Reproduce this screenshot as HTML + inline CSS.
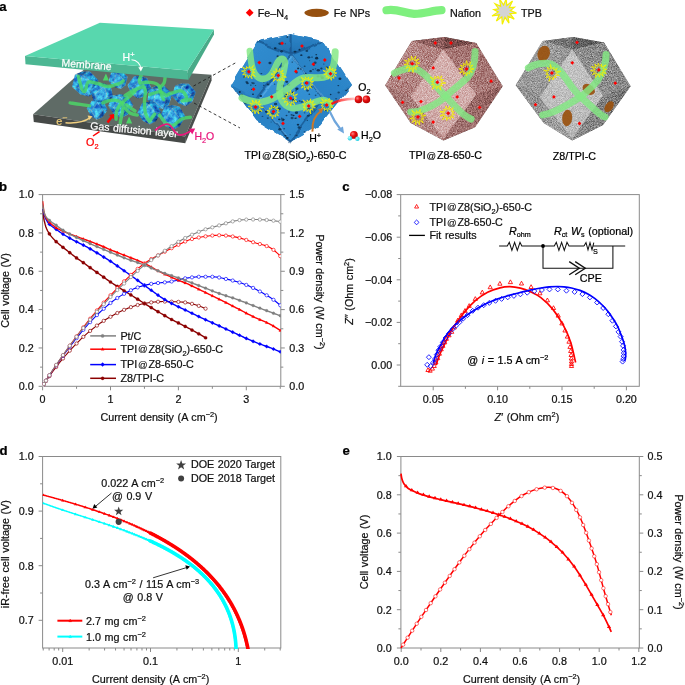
<!DOCTYPE html>
<html><head><meta charset="utf-8"><style>
html,body{margin:0;padding:0;background:#fff;}
svg{display:block;will-change:transform;}
text{font-family:"Liberation Sans", sans-serif;word-spacing:0.6px;}
</style></head><body>
<svg width="685" height="685" viewBox="0 0 685 685">
<rect width="685" height="685" fill="#fff"/>
<defs><clipPath id="clipb"><rect x="42.6" y="189.6" width="238.20000000000002" height="196.70000000000002"/></clipPath><clipPath id="clipd"><rect x="42.6" y="456.5" width="238.20000000000002" height="192.5"/></clipPath></defs>
<defs>
<linearGradient id="gHex" x1="0" y1="0" x2="1" y2="1">
 <stop offset="0" stop-color="#4aa6e6"/><stop offset="0.55" stop-color="#2a86cc"/><stop offset="1" stop-color="#1c63a4"/>
</linearGradient>
<filter id="noise" x="0" y="0" width="100%" height="100%" color-interpolation-filters="sRGB">
 <feTurbulence type="fractalNoise" baseFrequency="1.2" numOctaves="2" seed="3" result="n"/>
 <feColorMatrix in="n" type="matrix" values="0.75 0 0 0 0.13  0.75 0 0 0 0.13  0.75 0 0 0 0.13  0 0 0 0 1" result="g"/>
 <feBlend in="g" in2="SourceGraphic" mode="overlay" result="b"/>
 <feComposite in="b" in2="SourceGraphic" operator="in"/>
</filter>
<filter id="noiseG" x="0" y="0" width="100%" height="100%" color-interpolation-filters="sRGB">
 <feTurbulence type="fractalNoise" baseFrequency="1.2" numOctaves="2" seed="7" result="n"/>
 <feColorMatrix in="n" type="matrix" values="0.75 0 0 0 0.13  0.75 0 0 0 0.13  0.75 0 0 0 0.13  0 0 0 0 1" result="g"/>
 <feBlend in="g" in2="SourceGraphic" mode="overlay" result="b"/>
 <feComposite in="b" in2="SourceGraphic" operator="in"/>
</filter>
<filter id="noiseB" x="0" y="0" width="100%" height="100%" color-interpolation-filters="sRGB">
 <feTurbulence type="fractalNoise" baseFrequency="0.22" numOctaves="3" seed="9" result="n"/>
 <feColorMatrix in="n" type="matrix" values="1.1 0 0 0 0.02  1.1 0 0 0 0.02  1.1 0 0 0 0.02  0 0 0 0 1" result="g"/>
 <feBlend in="g" in2="SourceGraphic" mode="overlay" result="b"/>
 <feComposite in="b" in2="SourceGraphic" operator="in"/>
</filter>
<linearGradient id="pkTL" x1="0" y1="0" x2="1" y2="1"><stop offset="0" stop-color="#b98b89"/><stop offset="1" stop-color="#a97977"/></linearGradient>
<linearGradient id="pkTR" x1="1" y1="0" x2="0" y2="1"><stop offset="0" stop-color="#9c6a68"/><stop offset="1" stop-color="#b08280"/></linearGradient>
<linearGradient id="pkBL" x1="0" y1="0" x2="1" y2="1"><stop offset="0" stop-color="#a07270"/><stop offset="1" stop-color="#b58987"/></linearGradient>
<linearGradient id="pkBR" x1="1" y1="0" x2="0" y2="1"><stop offset="0" stop-color="#8e5e5c"/><stop offset="1" stop-color="#a47674"/></linearGradient>
<linearGradient id="pkF" x1="0" y1="0" x2="0" y2="1"><stop offset="0" stop-color="#d6b2b0"/><stop offset="1" stop-color="#cca5a3"/></linearGradient>
<linearGradient id="gyTL" x1="0" y1="0" x2="1" y2="1"><stop offset="0" stop-color="#a2a2a2"/><stop offset="1" stop-color="#8e8e8e"/></linearGradient>
<linearGradient id="gyTR" x1="1" y1="0" x2="0" y2="1"><stop offset="0" stop-color="#808080"/><stop offset="1" stop-color="#979797"/></linearGradient>
<linearGradient id="gyBL" x1="0" y1="0" x2="1" y2="1"><stop offset="0" stop-color="#8a8a8a"/><stop offset="1" stop-color="#a0a0a0"/></linearGradient>
<linearGradient id="gyBR" x1="1" y1="0" x2="0" y2="1"><stop offset="0" stop-color="#767676"/><stop offset="1" stop-color="#8c8c8c"/></linearGradient>
<linearGradient id="gyF" x1="0" y1="0" x2="0" y2="1"><stop offset="0" stop-color="#c4c4c4"/><stop offset="1" stop-color="#b6b6b6"/></linearGradient>
<filter id="soft" x="-10%" y="-10%" width="120%" height="120%"><feGaussianBlur stdDeviation="0.7"/></filter>
<filter id="lumpy" x="-5%" y="-5%" width="110%" height="110%">
 <feTurbulence type="fractalNoise" baseFrequency="0.07" numOctaves="2" seed="4" result="t"/>
 <feDisplacementMap in="SourceGraphic" in2="t" scale="5" xChannelSelector="R" yChannelSelector="G"/>
</filter>
<linearGradient id="blTop" x1="0" y1="0" x2="0" y2="1"><stop offset="0" stop-color="#2d86c9"/><stop offset="1" stop-color="#2271b2"/></linearGradient>
<linearGradient id="blTL" x1="0" y1="0" x2="1" y2="1"><stop offset="0" stop-color="#3490d3"/><stop offset="0.6" stop-color="#2c86c9"/><stop offset="1" stop-color="#2272b3"/></linearGradient>
<linearGradient id="blTR" x1="1" y1="0" x2="0" y2="1"><stop offset="0" stop-color="#308bce"/><stop offset="1" stop-color="#287fc2"/></linearGradient>
<linearGradient id="blBL" x1="0" y1="0" x2="1" y2="1"><stop offset="0" stop-color="#2479bb"/><stop offset="1" stop-color="#2f89cc"/></linearGradient>
<linearGradient id="blBR" x1="1" y1="0" x2="0" y2="1"><stop offset="0" stop-color="#287ec1"/><stop offset="1" stop-color="#2e87ca"/></linearGradient>
<linearGradient id="blF" x1="0" y1="0" x2="0" y2="1"><stop offset="0" stop-color="#3896d8"/><stop offset="1" stop-color="#2d87cb"/></linearGradient>
<linearGradient id="redfade" x1="0" y1="0" x2="1" y2="0"><stop offset="0" stop-color="#ff1010"/><stop offset="1" stop-color="#ff1010" stop-opacity="0.25"/></linearGradient>
<radialGradient id="ball" cx="0.35" cy="0.35" r="0.7"><stop offset="0" stop-color="#ff8080"/><stop offset="0.45" stop-color="#e81010"/><stop offset="1" stop-color="#b00000"/></radialGradient>
<radialGradient id="ballc" cx="0.35" cy="0.35" r="0.7"><stop offset="0" stop-color="#b0ffff"/><stop offset="1" stop-color="#10c8e0"/></radialGradient>
</defs>
<text x="-0.7" y="10.7" font-size="13.2" text-anchor="start" font-weight="bold" fill="#000" stroke="#000" stroke-width="0.22" >a</text>
<path d="M249.7,8.8L253.6,12.7L249.7,16.6L245.8,12.7Z" fill="#ff0000"/>
<text x="257.8" y="16.6" font-size="10.75" text-anchor="start" font-weight="normal" fill="#111" stroke="#111" stroke-width="0.22" >Fe–N<tspan baseline-shift="-2.8" font-size="7.4">4</tspan></text>
<ellipse cx="316.6" cy="12.8" rx="12.2" ry="4.1" fill="#96500f"/>
<text x="333.7" y="16.6" font-size="10.75" text-anchor="start" font-weight="normal" fill="#111" stroke="#111" stroke-width="0.22" >Fe NPs</text>
<path d="M386.5,10.2 C398,8.2 404,13.6 414,13.8 C424,14 432,10.6 441.5,10.2" fill="none" stroke="#7ff07f" stroke-width="8.2" stroke-linecap="round" stroke-linejoin="round" opacity="1"/>
<text x="449.9" y="16.6" font-size="10.75" text-anchor="start" font-weight="normal" fill="#111" stroke="#111" stroke-width="0.22" >Nafion</text>
<path d="M516.52,13.05 L509.98,13.68 L514.22,19.12 L507.98,16.19 L508.99,23.16 L504.99,17.36 L502.32,24.33 L501.82,16.88 L496.38,21.12 L499.31,14.88 L492,16.02 L498.14,11.89 L493.78,9.61 L498.62,8.72 L495,3.78 L500.62,6.21 L499.45,-1.16 L503.61,5.04 L506.16,-1.09 L506.78,5.52 L512.51,0.92 L509.29,7.52 L514.44,7.23 L510.46,10.51Z" fill="#d4d4d4" stroke="#f4f000" stroke-width="1.2"/>
<text x="520.9" y="16.6" font-size="10.75" text-anchor="start" font-weight="normal" fill="#111" stroke="#111" stroke-width="0.22" >TPB</text>
<path d="M33.1,114.3 L88,66 L211.5,74.8 L185,136.6Z" fill="#5f6b66" />
<path d="M33.1,114.3 L185,136.6 L185.3,143.3 L33.8,121.9Z" fill="#464a48" />
<path d="M185,136.6 L211.5,74.8 L211.6,80.6 L185.3,143.3Z" fill="#4a4f4d" />
<g filter="url(#noiseB)"><path d="M74.86,74.42 L82.04,71.56 L89.68,71.25 L82.67,74.68Z" fill="#1a66ab" /><path d="M74.86,74.42 L82.67,74.68 L78.48,88.02 L71.91,86.75Z" fill="#2a8ad4" /><path d="M89.68,71.25 L98.69,80.24 L93.23,83.76 L82.67,74.68Z" fill="#1f7cc6" /><path d="M71.91,86.75 L78.48,88.02 L88.82,96.34 L88.96,96.84 L80.32,94.49Z" fill="#1f76c0" /><path d="M98.69,80.24 L95.23,91.75 L88.96,96.84 L88.82,96.34 L93.23,83.76Z" fill="#1a6ab2" /><path d="M82.67,74.68 L93.23,83.76 L88.82,96.34 L78.48,88.02Z" fill="#2f92da" /><path d="M78.48,88.02L82.67,74.68L93.23,83.76 M78.48,88.02L88.82,96.34" stroke="#7cc4f0" stroke-width="0.6" opacity="0.7" fill="none"/><path d="M110.74,72.88 L115.89,70.82 L121.38,70.58 L116.35,73.06Z" fill="#1a66ab" /><path d="M110.74,72.88 L116.35,73.06 L113.36,82.65 L108.64,81.75Z" fill="#2a8ad4" /><path d="M121.38,70.58 L127.87,77.04 L123.96,79.57 L116.35,73.06Z" fill="#1f7cc6" /><path d="M108.64,81.75 L113.36,82.65 L120.8,88.62 L120.91,88.98 L114.69,87.3Z" fill="#1f76c0" /><path d="M127.87,77.04 L125.4,85.32 L120.91,88.98 L120.8,88.62 L123.96,79.57Z" fill="#1a6ab2" /><path d="M116.35,73.06 L123.96,79.57 L120.8,88.62 L113.36,82.65Z" fill="#2f92da" /><path d="M113.36,82.65L116.35,73.06L123.96,79.57 M113.36,82.65L120.8,88.62" stroke="#7cc4f0" stroke-width="0.6" opacity="0.7" fill="none"/><path d="M134.08,76.07 L140.89,75.97 L147.2,78.09 L140.31,78.7Z" fill="#1a66ab" /><path d="M134.08,76.07 L140.31,78.7 L132.28,88.22 L127.39,85.15Z" fill="#2a8ad4" /><path d="M147.2,78.09 L151.37,88.18 L145.72,89.34 L140.31,78.7Z" fill="#1f7cc6" /><path d="M127.39,85.15 L132.28,88.22 L137.77,98.17 L137.71,98.63 L131.52,94.04Z" fill="#1f76c0" /><path d="M151.37,88.18 L144.56,96.44 L137.71,98.63 L137.77,98.17 L145.72,89.34Z" fill="#1a6ab2" /><path d="M140.31,78.7 L145.72,89.34 L137.77,98.17 L132.28,88.22Z" fill="#2f92da" /><path d="M132.28,88.22L140.31,78.7L145.72,89.34 M132.28,88.22L137.77,98.17" stroke="#7cc4f0" stroke-width="0.6" opacity="0.7" fill="none"/><path d="M98.63,82.51 L105.24,83.49 L110.97,86.53 L104.2,86.04Z" fill="#1a66ab" /><path d="M98.63,82.51 L104.2,86.04 L94.74,93.99 L90.55,90.25Z" fill="#2a8ad4" /><path d="M110.97,86.53 L113.23,96.95 L107.56,97.18 L104.2,86.04Z" fill="#1f7cc6" /><path d="M90.55,90.25 L94.74,93.99 L98.3,104.48 L98.16,104.91 L92.98,99.5Z" fill="#1f76c0" /><path d="M113.23,96.95 L105.18,103.88 L98.16,104.91 L98.3,104.48 L107.56,97.18Z" fill="#1a6ab2" /><path d="M104.2,86.04 L107.56,97.18 L98.3,104.48 L94.74,93.99Z" fill="#2f92da" /><path d="M94.74,93.99L104.2,86.04L107.56,97.18 M94.74,93.99L98.3,104.48" stroke="#7cc4f0" stroke-width="0.6" opacity="0.7" fill="none"/><path d="M175.28,85.17 L181.93,83.13 L188.8,83.41 L182.24,85.98Z" fill="#1a66ab" /><path d="M175.28,85.17 L182.24,85.98 L177.41,97.61 L171.63,95.99Z" fill="#2a8ad4" /><path d="M188.8,83.41 L196.13,92.11 L190.96,94.86 L182.24,85.98Z" fill="#1f7cc6" /><path d="M171.63,95.99 L177.41,97.61 L185.98,105.81 L186.07,106.27 L178.52,103.53Z" fill="#1f76c0" /><path d="M196.13,92.11 L192.09,102.17 L186.07,106.27 L185.98,105.81 L190.96,94.86Z" fill="#1a6ab2" /><path d="M182.24,85.98 L190.96,94.86 L185.98,105.81 L177.41,97.61Z" fill="#2f92da" /><path d="M177.41,97.61L182.24,85.98L190.96,94.86 M177.41,97.61L185.98,105.81" stroke="#7cc4f0" stroke-width="0.6" opacity="0.7" fill="none"/><path d="M149.92,88.44 L156.61,85.68 L163.77,85.31 L157.24,88.61Z" fill="#1a66ab" /><path d="M149.92,88.44 L157.24,88.61 L153.47,101.15 L147.29,100.03Z" fill="#2a8ad4" /><path d="M163.77,85.31 L172.32,93.65 L167.24,97.01 L157.24,88.61Z" fill="#1f7cc6" /><path d="M147.29,100.03 L153.47,101.15 L163.25,108.84 L163.39,109.32 L155.26,107.2Z" fill="#1f76c0" /><path d="M172.32,93.65 L169.21,104.48 L163.39,109.32 L163.25,108.84 L167.24,97.01Z" fill="#1a6ab2" /><path d="M157.24,88.61 L167.24,97.01 L163.25,108.84 L153.47,101.15Z" fill="#2f92da" /><path d="M153.47,101.15L157.24,88.61L167.24,97.01 M153.47,101.15L163.25,108.84" stroke="#7cc4f0" stroke-width="0.6" opacity="0.7" fill="none"/><path d="M113.27,95.14 L120.34,93.97 L127.28,95.17 L120.23,96.9Z" fill="#1a66ab" /><path d="M113.27,95.14 L120.23,96.9 L113.56,108.07 L107.93,105.65Z" fill="#2a8ad4" /><path d="M127.28,95.17 L133.41,105 L127.74,107.1 L120.23,96.9Z" fill="#1f7cc6" /><path d="M107.93,105.65 L113.56,108.07 L121.04,117.55 L121.06,118.03 L113.8,114.24Z" fill="#1f76c0" /><path d="M133.41,105 L127.8,114.68 L121.06,118.03 L121.04,117.55 L127.74,107.1Z" fill="#1a6ab2" /><path d="M120.23,96.9 L127.74,107.1 L121.04,117.55 L113.56,108.07Z" fill="#2f92da" /><path d="M113.56,108.07L120.23,96.9L127.74,107.1 M113.56,108.07L121.04,117.55" stroke="#7cc4f0" stroke-width="0.6" opacity="0.7" fill="none"/><path d="M92.1,100.21 L98.05,99.84 L103.66,101.42 L97.68,102.25Z" fill="#1a66ab" /><path d="M92.1,100.21 L97.68,102.25 L91.11,110.9 L86.69,108.43Z" fill="#2a8ad4" /><path d="M103.66,101.42 L107.79,110.05 L102.91,111.31 L97.68,102.25Z" fill="#1f7cc6" /><path d="M86.69,108.43 L91.11,110.9 L96.38,119.37 L96.35,119.76 L90.72,116.02Z" fill="#1f76c0" /><path d="M107.79,110.05 L102.24,117.57 L96.35,119.76 L96.38,119.37 L102.91,111.31Z" fill="#1a6ab2" /><path d="M97.68,102.25 L102.91,111.31 L96.38,119.37 L91.11,110.9Z" fill="#2f92da" /><path d="M91.11,110.9L97.68,102.25L102.91,111.31 M91.11,110.9L96.38,119.37" stroke="#7cc4f0" stroke-width="0.6" opacity="0.7" fill="none"/><path d="M142.14,102.87 L148.83,101.68 L155.43,102.76 L148.76,104.47Z" fill="#1a66ab" /><path d="M142.14,102.87 L148.76,104.47 L142.55,115.13 L137.18,112.89Z" fill="#2a8ad4" /><path d="M155.43,102.76 L161.36,112.03 L156,114.08 L148.76,104.47Z" fill="#1f7cc6" /><path d="M137.18,112.89 L142.55,115.13 L149.74,124.06 L149.77,124.52 L142.84,120.98Z" fill="#1f76c0" /><path d="M161.36,112.03 L156.13,121.27 L149.77,124.52 L149.74,124.06 L156,114.08Z" fill="#1a6ab2" /><path d="M148.76,104.47 L156,114.08 L149.74,124.06 L142.55,115.13Z" fill="#2f92da" /><path d="M142.55,115.13L148.76,104.47L156,114.08 M142.55,115.13L149.74,124.06" stroke="#7cc4f0" stroke-width="0.6" opacity="0.7" fill="none"/><path d="M164.96,106.19 L172.28,105.06 L179.44,106.38 L172.13,108.09Z" fill="#1a66ab" /><path d="M164.96,106.19 L172.13,108.09 L165.1,119.56 L159.31,117Z" fill="#2a8ad4" /><path d="M179.44,106.38 L185.66,116.61 L179.77,118.72 L172.13,108.09Z" fill="#1f7cc6" /><path d="M159.31,117 L165.1,119.56 L172.7,129.45 L172.72,129.94 L165.27,125.94Z" fill="#1f76c0" /><path d="M185.66,116.61 L179.73,126.55 L172.72,129.94 L172.7,129.45 L179.77,118.72Z" fill="#1a6ab2" /><path d="M172.13,108.09 L179.77,118.72 L172.7,129.45 L165.1,119.56Z" fill="#2f92da" /><path d="M165.1,119.56L172.13,108.09L179.77,118.72 M165.1,119.56L172.7,129.45" stroke="#7cc4f0" stroke-width="0.6" opacity="0.7" fill="none"/></g>
<path d="M78.3,76.3 C80,82 82,92 84.4,91.6 C86.5,91 86,83 88.5,81.9 C91,81 94,83 97.7,83.5 C101,84 104,86.5 107.9,86.5 C112,86.5 115,84.5 118.1,84 C120,83.5 122,82 123.2,80.9" fill="none" stroke="#4cd968" stroke-width="3.4" stroke-linecap="round" stroke-linejoin="round" opacity="0.82"/>
<path d="M70.1,102.9 C74,103.5 77,104 80.3,104.4 C84,104.8 87,105.5 89.5,105.9" fill="none" stroke="#4cd968" stroke-width="3.4" stroke-linecap="round" stroke-linejoin="round" opacity="0.82"/>
<path d="M102.8,102.9 C105,102 108,100.5 111,100.3 C114,100 116,100 118.1,100.8 C121,102 123,103 123.2,104.9 C123.5,108 122.5,111 122.2,113.1 C121.5,117 120.5,120 120.2,123.3" fill="none" stroke="#4cd968" stroke-width="3.4" stroke-linecap="round" stroke-linejoin="round" opacity="0.82"/>
<path d="M116.1,119.2 C116,116 116,112 117.1,110 C118.5,107 120,104.5 122.2,102.9 C125,100 128,97.5 130.4,95.7 C132,94 133.5,92.5 135,91.6" fill="none" stroke="#4cd968" stroke-width="3.4" stroke-linecap="round" stroke-linejoin="round" opacity="0.82"/>
<path d="M126.3,104.9 C129,107 132,109 135,111" fill="none" stroke="#4cd968" stroke-width="3.4" stroke-linecap="round" stroke-linejoin="round" opacity="0.82"/>
<path d="M142.4,72.2 C141.5,75 139.5,78 139.3,80.4 C139.5,82 139.8,83 140.3,83.5 C143,82.5 147,82 150.5,82.4 C153,82.7 155,83 156.7,84 C158.5,85 159.5,86 159.7,87.5 C160.5,89 160.6,91 160.8,92.7 C161.5,95.5 162.5,98 163.8,99.8" fill="none" stroke="#4cd968" stroke-width="3.4" stroke-linecap="round" stroke-linejoin="round" opacity="0.82"/>
<path d="M164.9,72.2 C165.3,76 165.2,80 164,83 C163,85 161.5,86.5 159.7,87.5" fill="none" stroke="#4cd968" stroke-width="3.4" stroke-linecap="round" stroke-linejoin="round" opacity="0.82"/>
<path d="M125,95.7 C128,93.5 130.5,92 133.2,90.6 C136.5,89 140,87.5 143.4,86.5 C145,88 145.6,90 145.4,92.7 C145,96 144.5,99.5 144.4,102.9 C144.4,106.5 144.8,110 145.4,113.1 C146.5,116.5 148,119.5 149.5,121.3 C151,119 153,116 154.6,114.1" fill="none" stroke="#4cd968" stroke-width="3.4" stroke-linecap="round" stroke-linejoin="round" opacity="0.82"/>
<path d="M149.5,94.7 C152.5,93.5 156,92 159.7,91.6 C162,91.7 164,93.5 165.9,95.7 C168,94.5 170.5,93.2 173,92.7 C175.5,92 178,90.8 180.2,90.6 C182.5,91 184.5,92.5 185.3,94.7 C186.5,96.5 186.8,98 186.3,98.8 C185,99.8 183.5,100.5 182.2,100.8 C184.5,100.6 187.5,100.2 190.4,99.8" fill="none" stroke="#4cd968" stroke-width="3.4" stroke-linecap="round" stroke-linejoin="round" opacity="0.82"/>
<path d="M125,108 C126.5,110 128.5,112 130.1,113.1 C132.5,114.2 135,114.8 137.3,115.1" fill="none" stroke="#4cd968" stroke-width="3.4" stroke-linecap="round" stroke-linejoin="round" opacity="0.82"/>
<path d="M159.7,115.1 C161.5,118 163.5,121 165.9,123.3 C168,124.8 170.5,125.5 173,125.4 C176,124.5 178.5,121 181.2,119.2 C184,117.8 187,117.3 190.4,117.2" fill="none" stroke="#4cd968" stroke-width="3.4" stroke-linecap="round" stroke-linejoin="round" opacity="0.82"/>
<path d="M102.8,80.5 L105.9,73.5 L109,80.5Z M126,123.5 L129.1,116.5 L132.2,123.5Z M125.5,121.5 L128.6,114.5" fill="#4cd968" opacity="0.95"/>
<path d="M25,55.9 L187.6,70.4 L188.5,79.8 L25.5,64.3Z" fill="#4cb793" />
<path d="M187.6,70.4 L213.9,29.4 L214,34.5 L188.5,79.8Z" fill="#48aa88" />
<path d="M25,55.9 L99.9,22.8 L213.9,29.4 L187.6,70.4Z" fill="#58d7ae" />
<text x="0" y="0" font-size="10.5" text-anchor="start" font-weight="normal" fill="#fff" stroke="#fff" stroke-width="0.22" transform="translate(61.3,66.3) rotate(4.3)">Membrane</text>
<text x="0" y="0" font-size="10.5" text-anchor="start" font-weight="normal" fill="#fff" stroke="#fff" stroke-width="0.22" transform="translate(90,129.3) rotate(5.2)">Gas diffusion layer</text>
<text x="122.6" y="61" font-size="10.5" text-anchor="start" font-weight="normal" fill="#ffffff" stroke="#ffffff" stroke-width="0.22" >H<tspan baseline-shift="4.2" font-size="7.4">+</tspan></text>
<path d="M131.5,59.8 C137,60 140.5,64 140.8,68.5" fill="none" stroke="#fff" stroke-width="1.1"/>
<path d="M138.3,67.2 L140.9,71.4 L143.1,67.1Z" fill="#fff"/>
<text x="56.3" y="124.5" font-size="10.8" text-anchor="start" font-weight="normal" fill="#eccb78" stroke="#eccb78" stroke-width="0.22" >e</text>
<path d="M62.6,117.8H67.2" stroke="#eccb78" stroke-width="0.9"/>
<path d="M65.5,122.7 C74,123.4 84,122 90,117.9" fill="none" stroke="#f2d080" stroke-width="1.5"/>
<path d="M87.6,115.5 L92.6,116.2 L89.3,120.1Z" fill="#f2d080"/>
<path d="M93,136 L99.5,131.6" stroke="#ff0000" stroke-width="1.5"/>
<text x="86" y="145.8" font-size="10.8" text-anchor="start" font-weight="normal" fill="#ff0000" stroke="#ff0000" stroke-width="0.22" >O<tspan baseline-shift="-2.8" font-size="7.4">2</tspan></text>
<path d="M114,114 L113.9,119.2 L112.5,117.9 L108.5,123.3 L106.5,121.7 L110.5,116.3 L108.9,115.1Z" fill="#ff0000"/>
<path d="M155.1,130.5 C160,126 165,123.5 168.4,124.4 C172,125.5 174,132 176.6,133.6 C179,135.5 183,135 186,133.5 C188,132.5 190,131.5 191.5,130.8" fill="none" stroke="#e8197c" stroke-width="1.8"/>
<path d="M189,128.8 L195.2,128.6 L192.2,134.4Z" fill="#e8197c"/>
<text x="194.4" y="140.4" font-size="10.5" text-anchor="start" font-weight="normal" fill="#e8177c" stroke="#e8177c" stroke-width="0.22" >H<tspan baseline-shift="-2.8" font-size="7.4">2</tspan>O</text>
<path d="M193.4,86.1 L236,62.6 M194,103 L240,128" stroke="#222" stroke-width="0.9" stroke-dasharray="3,2.6" fill="none"/>
<clipPath id="clipBlue"><path d="M290.6,34.2 L323.5,41.4 L352,85 L319.1,125.5 L290.2,142 L256.5,121 L230.8,85 L257,41.4Z"/></clipPath>
<g filter="url(#lumpy)">
<path d="M290.6,34.2 L323.5,41.4 L352,85 L319.1,125.5 L290.2,142 L256.5,121 L230.8,85 L257,41.4Z" fill="#287fc2" />
<path d="M290.6,34.2 L323.5,41.4 L290.6,54.7 L257,41.4Z" fill="url(#blTop)" />
<path d="M257,41.4 L290.6,54.7 L256.5,98.3 L230.8,85Z" fill="url(#blTL)" />
<path d="M323.5,41.4 L352,85 L322.9,98.3 L290.6,54.7Z" fill="url(#blTR)" />
<path d="M230.8,85 L256.5,98.3 L290.2,142 L256.5,121Z" fill="url(#blBL)" />
<path d="M352,85 L319.1,125.5 L290.2,142 L322.9,98.3Z" fill="url(#blBR)" />
<path d="M290.6,54.7 L322.9,98.3 L290.2,142 L256.5,98.3Z" fill="url(#blF)" />
<path d="M290.6,54.7 L256.5,98.3 M290.6,54.7 L322.9,98.3 M257,41.4 L290.6,54.7 L323.5,41.4 M256.5,98.3 L290.2,142 L322.9,98.3 M290.6,34.2 L290.6,54.7" stroke="#124a80" stroke-width="2.2" opacity="0.6" fill="none" filter="url(#soft)"/>
<path d="M292,57 L259,100 M292,57 L325,100 M258.5,101 L289.5,139" stroke="#6ab8ee" stroke-width="1.4" opacity="0.55" fill="none" filter="url(#soft)"/>
</g>
<g clip-path="url(#clipBlue)"><ellipse cx="285.38" cy="94.22" rx="1.62" ry="1.2" fill="#08223c" opacity="0.73"/><ellipse cx="301.31" cy="55.2" rx="1.16" ry="0.92" fill="#08223c" opacity="0.83"/><ellipse cx="309.16" cy="100.02" rx="0.77" ry="0.47" fill="#08223c" opacity="0.73"/><ellipse cx="286.74" cy="81.82" rx="1.53" ry="1.15" fill="#08223c" opacity="0.77"/><ellipse cx="290.97" cy="104.89" rx="1.1" ry="0.75" fill="#08223c" opacity="0.9"/><ellipse cx="315.52" cy="68.79" rx="0.85" ry="0.59" fill="#08223c" opacity="0.57"/><ellipse cx="322.42" cy="77.64" rx="1.53" ry="1.1" fill="#08223c" opacity="0.89"/><ellipse cx="287.46" cy="137.96" rx="1.04" ry="0.65" fill="#08223c" opacity="0.77"/><ellipse cx="323.86" cy="64.06" rx="0.7" ry="0.49" fill="#08223c" opacity="0.89"/><ellipse cx="252.97" cy="94.17" rx="1.09" ry="0.72" fill="#08223c" opacity="0.81"/><ellipse cx="247.45" cy="102.95" rx="0.73" ry="0.53" fill="#08223c" opacity="0.62"/><ellipse cx="326.8" cy="67.63" rx="1.57" ry="1.04" fill="#08223c" opacity="0.69"/><ellipse cx="332.82" cy="102.75" rx="0.71" ry="0.64" fill="#08223c" opacity="0.62"/><ellipse cx="262.48" cy="116.36" rx="0.96" ry="0.66" fill="#08223c" opacity="0.58"/><ellipse cx="242.63" cy="96.6" rx="0.87" ry="0.68" fill="#08223c" opacity="0.68"/><ellipse cx="285.48" cy="135.75" rx="1.13" ry="0.87" fill="#08223c" opacity="0.85"/><ellipse cx="336.1" cy="98.77" rx="1.06" ry="0.67" fill="#08223c" opacity="0.56"/><ellipse cx="315.14" cy="62.73" rx="1.51" ry="1.17" fill="#08223c" opacity="0.65"/><ellipse cx="298.01" cy="124.65" rx="1.28" ry="0.87" fill="#08223c" opacity="0.87"/><ellipse cx="263.76" cy="82.35" rx="0.67" ry="0.44" fill="#08223c" opacity="0.68"/><ellipse cx="299.52" cy="49.68" rx="1" ry="0.87" fill="#08223c" opacity="0.89"/><ellipse cx="309.52" cy="107.89" rx="1.24" ry="0.8" fill="#08223c" opacity="0.56"/><ellipse cx="288.9" cy="111.97" rx="0.95" ry="0.86" fill="#08223c" opacity="0.58"/><ellipse cx="296.44" cy="112.65" rx="1.59" ry="1.31" fill="#08223c" opacity="0.8"/><ellipse cx="273.52" cy="107.26" rx="1.59" ry="1.37" fill="#08223c" opacity="0.7"/><ellipse cx="299.59" cy="101" rx="1.02" ry="0.79" fill="#08223c" opacity="0.76"/><ellipse cx="317.93" cy="76.4" rx="1.41" ry="1.09" fill="#08223c" opacity="0.7"/><ellipse cx="302.95" cy="86.02" rx="0.85" ry="0.69" fill="#08223c" opacity="0.72"/><ellipse cx="304.51" cy="131.73" rx="0.88" ry="0.53" fill="#08223c" opacity="0.66"/><ellipse cx="312.02" cy="57.07" rx="0.79" ry="0.69" fill="#08223c" opacity="0.78"/><ellipse cx="284.15" cy="128.74" rx="0.96" ry="0.77" fill="#08223c" opacity="0.62"/><ellipse cx="282.85" cy="119.82" rx="1.61" ry="1.39" fill="#08223c" opacity="0.68"/><ellipse cx="300.81" cy="68.91" rx="0.75" ry="0.56" fill="#08223c" opacity="0.84"/><ellipse cx="251.96" cy="82.87" rx="0.9" ry="0.6" fill="#08223c" opacity="0.69"/><ellipse cx="305.84" cy="87.36" rx="0.95" ry="0.81" fill="#08223c" opacity="0.89"/><ellipse cx="285.39" cy="43.77" rx="0.63" ry="0.55" fill="#08223c" opacity="0.56"/><ellipse cx="315.62" cy="95.34" rx="0.94" ry="0.79" fill="#08223c" opacity="0.56"/><ellipse cx="248.03" cy="83.3" rx="0.63" ry="0.53" fill="#08223c" opacity="0.63"/><ellipse cx="306.24" cy="82.43" rx="1.29" ry="1.03" fill="#08223c" opacity="0.83"/><ellipse cx="255.52" cy="85.41" rx="0.8" ry="0.48" fill="#08223c" opacity="0.72"/><ellipse cx="316.27" cy="54.63" rx="0.9" ry="0.63" fill="#08223c" opacity="0.79"/><ellipse cx="293.41" cy="99.9" rx="1.43" ry="1.03" fill="#08223c" opacity="0.83"/><ellipse cx="247.33" cy="83.17" rx="1.29" ry="1.12" fill="#08223c" opacity="0.68"/><ellipse cx="299.12" cy="127.45" rx="1.48" ry="1.3" fill="#08223c" opacity="0.71"/><ellipse cx="308.86" cy="57.31" rx="1.39" ry="1.18" fill="#08223c" opacity="0.77"/><ellipse cx="316.68" cy="58.18" rx="1.59" ry="1.42" fill="#08223c" opacity="0.89"/><ellipse cx="295.36" cy="118.24" rx="0.95" ry="0.83" fill="#08223c" opacity="0.85"/><ellipse cx="284.03" cy="93.23" rx="1.45" ry="1.08" fill="#08223c" opacity="0.56"/><ellipse cx="271.53" cy="117.94" rx="0.75" ry="0.49" fill="#08223c" opacity="0.73"/><ellipse cx="290.12" cy="134.71" rx="0.69" ry="0.46" fill="#08223c" opacity="0.73"/><ellipse cx="266.24" cy="111.8" rx="1.3" ry="0.99" fill="#08223c" opacity="0.85"/><ellipse cx="298.08" cy="68.42" rx="1.02" ry="0.87" fill="#08223c" opacity="0.87"/><ellipse cx="346.28" cy="90.52" rx="1.23" ry="0.81" fill="#08223c" opacity="0.74"/><ellipse cx="291.37" cy="98.94" rx="0.63" ry="0.56" fill="#08223c" opacity="0.73"/><ellipse cx="279.27" cy="119.31" rx="1.22" ry="0.91" fill="#08223c" opacity="0.79"/><ellipse cx="239.78" cy="92.03" rx="1.06" ry="0.94" fill="#08223c" opacity="0.87"/><ellipse cx="263.77" cy="85.21" rx="0.74" ry="0.54" fill="#08223c" opacity="0.84"/><ellipse cx="338.27" cy="85.56" rx="0.95" ry="0.62" fill="#08223c" opacity="0.77"/><ellipse cx="313.07" cy="69.5" rx="0.99" ry="0.78" fill="#08223c" opacity="0.59"/><ellipse cx="292.24" cy="62.06" rx="0.82" ry="0.62" fill="#08223c" opacity="0.7"/><ellipse cx="276.34" cy="78.99" rx="1.18" ry="0.77" fill="#08223c" opacity="0.62"/><ellipse cx="306.5" cy="102.4" rx="1.18" ry="1.01" fill="#08223c" opacity="0.76"/><ellipse cx="260.24" cy="111.56" rx="0.89" ry="0.56" fill="#08223c" opacity="0.84"/><ellipse cx="281.75" cy="118.15" rx="0.74" ry="0.53" fill="#08223c" opacity="0.79"/><ellipse cx="291.67" cy="114.85" rx="1.15" ry="0.93" fill="#08223c" opacity="0.62"/><ellipse cx="236.42" cy="93.37" rx="1.17" ry="0.9" fill="#08223c" opacity="0.6"/><ellipse cx="286.52" cy="115.53" rx="0.96" ry="0.71" fill="#08223c" opacity="0.73"/><ellipse cx="282.75" cy="98.5" rx="0.61" ry="0.5" fill="#08223c" opacity="0.85"/><ellipse cx="253.39" cy="83.21" rx="1.41" ry="1.02" fill="#08223c" opacity="0.62"/><ellipse cx="251.48" cy="89.31" rx="0.62" ry="0.54" fill="#08223c" opacity="0.83"/><ellipse cx="306.27" cy="78.07" rx="1.26" ry="0.95" fill="#08223c" opacity="0.89"/><ellipse cx="279.87" cy="129.24" rx="1.57" ry="1.27" fill="#08223c" opacity="0.82"/><ellipse cx="322.3" cy="78.2" rx="1.39" ry="0.87" fill="#08223c" opacity="0.67"/><ellipse cx="287.32" cy="37.1" rx="0.99" ry="0.78" fill="#08223c" opacity="0.77"/><ellipse cx="310.6" cy="71.13" rx="1.33" ry="1.02" fill="#08223c" opacity="0.74"/><ellipse cx="307.79" cy="108.93" rx="1.44" ry="1.29" fill="#08223c" opacity="0.56"/><ellipse cx="304.62" cy="112.83" rx="0.88" ry="0.64" fill="#08223c" opacity="0.57"/><ellipse cx="255.06" cy="75.07" rx="0.71" ry="0.48" fill="#08223c" opacity="0.87"/><ellipse cx="296.91" cy="88.81" rx="1.66" ry="1.28" fill="#08223c" opacity="0.9"/><ellipse cx="307.29" cy="120.19" rx="0.68" ry="0.53" fill="#08223c" opacity="0.82"/><ellipse cx="250.87" cy="85.06" rx="0.79" ry="0.59" fill="#08223c" opacity="0.76"/><ellipse cx="281.64" cy="90.78" rx="1.26" ry="0.89" fill="#08223c" opacity="0.65"/><ellipse cx="309.3" cy="94.31" rx="0.91" ry="0.74" fill="#08223c" opacity="0.65"/><ellipse cx="321.05" cy="76.56" rx="1.59" ry="1.31" fill="#08223c" opacity="0.57"/><ellipse cx="282.68" cy="85.67" rx="1.67" ry="1.12" fill="#08223c" opacity="0.73"/><ellipse cx="287.27" cy="137.8" rx="1.5" ry="1.17" fill="#08223c" opacity="0.59"/><ellipse cx="305.66" cy="83.39" rx="0.82" ry="0.51" fill="#08223c" opacity="0.73"/><ellipse cx="246.67" cy="82.06" rx="1.33" ry="0.98" fill="#08223c" opacity="0.64"/><ellipse cx="300.7" cy="79.63" rx="1.46" ry="1.11" fill="#08223c" opacity="0.9"/><ellipse cx="305.75" cy="73.36" rx="0.9" ry="0.72" fill="#08223c" opacity="0.75"/><ellipse cx="301.82" cy="101.84" rx="1.43" ry="0.94" fill="#08223c" opacity="0.64"/><ellipse cx="282.17" cy="100.83" rx="0.71" ry="0.54" fill="#08223c" opacity="0.58"/><ellipse cx="296.97" cy="101.63" rx="1.01" ry="0.75" fill="#08223c" opacity="0.62"/><ellipse cx="272.56" cy="113.46" rx="1.52" ry="0.95" fill="#08223c" opacity="0.59"/><ellipse cx="327.48" cy="100.87" rx="1.45" ry="0.96" fill="#08223c" opacity="0.7"/><ellipse cx="275.54" cy="103.98" rx="1.69" ry="1.18" fill="#08223c" opacity="0.74"/><ellipse cx="282.46" cy="74.4" rx="0.71" ry="0.61" fill="#08223c" opacity="0.58"/><ellipse cx="241.8" cy="94.68" rx="1.13" ry="0.91" fill="#08223c" opacity="0.65"/><ellipse cx="257.16" cy="104.86" rx="0.69" ry="0.48" fill="#08223c" opacity="0.8"/><ellipse cx="313.89" cy="65.42" rx="0.76" ry="0.54" fill="#08223c" opacity="0.8"/><ellipse cx="275.23" cy="48.21" rx="1.38" ry="1.06" fill="#08223c" opacity="0.87"/><ellipse cx="283.68" cy="119.52" rx="0.94" ry="0.65" fill="#08223c" opacity="0.69"/><ellipse cx="261.3" cy="73.62" rx="1" ry="0.71" fill="#08223c" opacity="0.69"/><ellipse cx="277.73" cy="56.28" rx="1.22" ry="1.02" fill="#08223c" opacity="0.74"/><ellipse cx="330.69" cy="94.53" rx="0.79" ry="0.66" fill="#08223c" opacity="0.86"/><ellipse cx="292.85" cy="92.59" rx="1.22" ry="1.09" fill="#08223c" opacity="0.78"/><ellipse cx="296.52" cy="117.96" rx="0.69" ry="0.43" fill="#08223c" opacity="0.81"/><ellipse cx="306.83" cy="50.96" rx="1.42" ry="1.13" fill="#08223c" opacity="0.64"/><ellipse cx="293.54" cy="115.53" rx="1.03" ry="0.73" fill="#08223c" opacity="0.89"/><ellipse cx="311.34" cy="87.34" rx="1.19" ry="0.97" fill="#08223c" opacity="0.8"/><ellipse cx="339.97" cy="78.7" rx="1.51" ry="1.21" fill="#08223c" opacity="0.85"/><ellipse cx="307.55" cy="90.48" rx="1.38" ry="1.16" fill="#08223c" opacity="0.7"/><ellipse cx="281.61" cy="51.2" rx="1.42" ry="1.27" fill="#08223c" opacity="0.68"/><ellipse cx="282.14" cy="66.37" rx="1.67" ry="1.03" fill="#08223c" opacity="0.66"/><ellipse cx="245.55" cy="103.39" rx="1.45" ry="0.95" fill="#08223c" opacity="0.57"/><ellipse cx="286.13" cy="96.74" rx="1.6" ry="0.98" fill="#08223c" opacity="0.59"/><ellipse cx="259.78" cy="110.59" rx="1.25" ry="0.84" fill="#08223c" opacity="0.61"/><ellipse cx="321.39" cy="68.42" rx="1.2" ry="1.02" fill="#08223c" opacity="0.72"/><ellipse cx="296.59" cy="135.53" rx="1.13" ry="0.75" fill="#08223c" opacity="0.57"/><ellipse cx="277.43" cy="90.87" rx="1.17" ry="0.8" fill="#08223c" opacity="0.9"/><ellipse cx="309.59" cy="60.71" rx="0.61" ry="0.45" fill="#08223c" opacity="0.68"/><ellipse cx="326.02" cy="110.18" rx="1.27" ry="0.82" fill="#08223c" opacity="0.6"/><ellipse cx="269.97" cy="62.98" rx="1.56" ry="1.17" fill="#08223c" opacity="0.77"/><ellipse cx="295.08" cy="51.67" rx="1.45" ry="0.87" fill="#08223c" opacity="0.84"/><ellipse cx="288.65" cy="84.74" rx="1.65" ry="1.28" fill="#08223c" opacity="0.85"/><ellipse cx="267.82" cy="118.09" rx="1.06" ry="0.93" fill="#08223c" opacity="0.58"/><ellipse cx="296.12" cy="90.67" rx="0.77" ry="0.66" fill="#08223c" opacity="0.66"/><ellipse cx="268.07" cy="84.59" rx="1.39" ry="0.98" fill="#08223c" opacity="0.79"/><ellipse cx="244.48" cy="77" rx="1.11" ry="0.99" fill="#08223c" opacity="0.84"/><ellipse cx="276.5" cy="109.84" rx="0.86" ry="0.66" fill="#08223c" opacity="0.71"/><ellipse cx="304.7" cy="66.2" rx="1.01" ry="0.77" fill="#08223c" opacity="0.65"/><ellipse cx="271.81" cy="76.79" rx="1.33" ry="0.9" fill="#08223c" opacity="0.62"/><ellipse cx="318.31" cy="70.26" rx="1.64" ry="1.26" fill="#08223c" opacity="0.8"/><ellipse cx="271.14" cy="122" rx="0.7" ry="0.45" fill="#08223c" opacity="0.58"/><ellipse cx="311.97" cy="109.66" rx="0.8" ry="0.58" fill="#08223c" opacity="0.84"/><ellipse cx="301.94" cy="45.37" rx="0.85" ry="0.55" fill="#08223c" opacity="0.59"/><ellipse cx="280.01" cy="43.56" rx="1.61" ry="1.17" fill="#08223c" opacity="0.73"/><ellipse cx="308.38" cy="115.75" rx="1.5" ry="1.08" fill="#08223c" opacity="0.67"/><ellipse cx="279.28" cy="108.79" rx="1.68" ry="1.41" fill="#08223c" opacity="0.78"/><ellipse cx="271.06" cy="71.59" rx="1.32" ry="0.83" fill="#08223c" opacity="0.68"/><ellipse cx="292.1" cy="118.01" rx="1.51" ry="1.18" fill="#08223c" opacity="0.61"/><ellipse cx="296.69" cy="72.67" rx="1.15" ry="0.74" fill="#08223c" opacity="0.8"/><ellipse cx="348.44" cy="89.67" rx="1.39" ry="1.18" fill="#08223c" opacity="0.62"/><ellipse cx="260.86" cy="95.95" rx="1.37" ry="0.96" fill="#08223c" opacity="0.88"/><ellipse cx="274.62" cy="84.16" rx="0.74" ry="0.66" fill="#08223c" opacity="0.6"/><ellipse cx="338.68" cy="92.52" rx="1.22" ry="0.93" fill="#08223c" opacity="0.64"/><ellipse cx="328.47" cy="98.56" rx="0.73" ry="0.62" fill="#08223c" opacity="0.65"/></g>
<path d="M249.8,50.9 C251,62 252,74 259,78 C266,81 271,76 274,70 C277,63 279,58 283,59 C288,61 282,76 280,86 C278,96 282,106 292,108 C302,110 314,101 322,100 C327,100 330,103 331,104" fill="none" stroke="#84e884" stroke-width="6.5" stroke-linecap="round" stroke-linejoin="round" opacity="0.84"/>
<path d="M335.2,51.8 C335,62 333,72 327,76 C320,80 312,76 304,78 C296,80 292,86 286,90 C278,96 270,101 262,102 C254,103 248,101 242,98" fill="none" stroke="#84e884" stroke-width="7.0" stroke-linecap="round" stroke-linejoin="round" opacity="0.84"/>
<path d="M254.85,72.4 L252.17,73.04 L255.37,76.46 L251.12,74.51 L252.08,78.85 L249.46,75.25 L248.27,78.08 L247.66,75.07 L244.82,77.47 L246.19,74.02 L242.65,74.62 L245.45,72.36 L241.51,71.06 L245.63,70.56 L242.56,67.24 L246.68,69.09 L246.49,66.46 L248.34,68.35 L249.47,66.15 L250.14,68.53 L253.54,65.35 L251.61,69.58 L255.11,69 L252.35,71.24Z" fill="none" stroke="#f4f000" stroke-width="0.85" stroke-linejoin="miter" stroke-miterlimit="10"/><path d="M248.9,69.8L250.9,71.8L248.9,73.8L246.9,71.8Z" fill="#ff0000"/><path d="M286.41,77.14 L281.43,77.06 L284.49,80.96 L280.23,78.42 L280.13,80.96 L278.52,78.99 L277.14,81.22 L276.74,78.63 L273.04,81.45 L275.38,77.43 L271.04,77.94 L274.81,75.72 L270.97,74.01 L275.17,73.94 L273.46,71.22 L276.37,72.58 L275.98,68.58 L278.08,72.01 L279.75,68.35 L279.86,72.37 L283.09,70.08 L281.22,73.57 L284.03,73.58 L281.79,75.28Z" fill="none" stroke="#f4f000" stroke-width="0.85" stroke-linejoin="miter" stroke-miterlimit="10"/><path d="M278.3,73.5L280.3,75.5L278.3,77.5L276.3,75.5Z" fill="#ff0000"/><path d="M312.79,84.95 L309.76,84.96 L311.64,88.33 L308.43,86.2 L308.27,89.57 L306.67,86.6 L304.65,90.07 L304.94,86.06 L301.41,88.1 L303.7,84.73 L301.16,84.38 L303.3,82.97 L301.41,81.43 L303.84,81.24 L301.4,77.27 L305.17,80 L305.4,76.93 L306.93,79.6 L308.65,77.12 L308.66,80.14 L312.95,77.4 L309.9,81.47 L313.54,81.57 L310.3,83.23Z" fill="none" stroke="#f4f000" stroke-width="0.85" stroke-linejoin="miter" stroke-miterlimit="10"/><path d="M306.8,81.1L308.8,83.1L306.8,85.1L304.8,83.1Z" fill="#ff0000"/><path d="M336.27,76.14 L333.26,75.85 L334.05,78.4 L331.82,76.94 L331.33,80.36 L330.02,77.17 L328.15,79.26 L328.35,76.46 L325.88,77.19 L327.26,75.02 L323.83,74.53 L327.03,73.22 L322.97,70.52 L327.74,71.55 L325.77,67.44 L329.18,70.46 L329.55,66.02 L330.98,70.23 L332.92,67.97 L332.65,70.94 L336.17,69.42 L333.74,72.38 L336.83,72.91 L333.97,74.18Z" fill="none" stroke="#f4f000" stroke-width="0.85" stroke-linejoin="miter" stroke-miterlimit="10"/><path d="M330.5,71.7L332.5,73.7L330.5,75.7L328.5,73.7Z" fill="#ff0000"/><path d="M297.05,101.82 L293.13,100.72 L294.59,104.86 L291.59,101.66 L290.78,106.12 L289.77,101.7 L286.65,105.53 L288.18,100.83 L284.05,102.29 L287.24,99.29 L282.42,98.49 L287.2,97.47 L285.61,95.58 L288.07,95.88 L287.01,92.4 L289.61,94.94 L290.41,90.06 L291.43,94.9 L294.16,91.79 L293.02,95.77 L297.54,94.07 L293.96,97.31 L296.52,98.16 L294,99.13Z" fill="none" stroke="#f4f000" stroke-width="0.85" stroke-linejoin="miter" stroke-miterlimit="10"/><path d="M290.6,96.3L292.6,98.3L290.6,100.3L288.6,98.3Z" fill="#ff0000"/><path d="M261.96,111.32 L257.78,109.56 L258.92,114.02 L256.15,110.34 L254.97,113.84 L254.34,110.2 L251.92,112.13 L252.84,109.18 L250.45,109.32 L252.06,107.55 L248.07,106.33 L252.2,105.74 L249.79,102.99 L253.22,104.24 L252.16,99.93 L254.85,103.46 L256.01,100.27 L256.66,103.6 L259.88,100.5 L258.16,104.62 L261.24,104.15 L258.94,106.25 L263.32,107.5 L258.8,108.06Z" fill="none" stroke="#f4f000" stroke-width="0.85" stroke-linejoin="miter" stroke-miterlimit="10"/><path d="M255.5,104.9L257.5,106.9L255.5,108.9L253.5,106.9Z" fill="#ff0000"/><path d="M278.48,115.79 L275.5,114.47 L275.55,117.26 L273.8,115.09 L272.2,118.91 L272.01,114.77 L269.76,116.04 L270.63,113.6 L266.82,114.02 L270.01,111.9 L266.98,110.44 L270.33,110.11 L269.09,107.89 L271.5,108.73 L271.11,105 L273.2,108.11 L274.5,105.98 L274.99,108.43 L277.89,106.39 L276.37,109.6 L278.95,109.63 L276.99,111.3 L279.26,112.63 L276.67,113.09Z" fill="none" stroke="#f4f000" stroke-width="0.85" stroke-linejoin="miter" stroke-miterlimit="10"/><path d="M273.5,109.6L275.5,111.6L273.5,113.6L271.5,111.6Z" fill="#ff0000"/><path d="M313.04,110.37 L310.41,108.96 L310.73,113.94 L308.65,109.4 L307.08,111.63 L306.91,108.91 L303.27,111.18 L305.64,107.61 L303.04,107.33 L305.2,105.85 L302.65,104.18 L305.69,104.11 L302.85,99.88 L306.99,102.84 L307.19,99.9 L308.75,102.4 L310.72,98.78 L310.49,102.89 L313.64,101.1 L311.76,104.19 L315.36,104.22 L312.2,105.95 L315.42,107.81 L311.71,107.69Z" fill="none" stroke="#f4f000" stroke-width="0.85" stroke-linejoin="miter" stroke-miterlimit="10"/><path d="M308.7,103.9L310.7,105.9L308.7,107.9L306.7,105.9Z" fill="#ff0000"/><path d="M330.99,110.4 L328.09,108.21 L327.67,111.57 L326.3,108.48 L324.5,110.57 L324.61,107.81 L320.41,109.99 L323.49,106.39 L321.14,105.82 L323.22,104.6 L320.18,102.42 L323.89,102.91 L321.66,98.64 L325.31,101.79 L325.85,99.24 L327.1,101.52 L329.33,98.35 L328.79,102.19 L332.44,100.45 L329.91,103.61 L332.35,104.16 L330.18,105.4 L332.89,107.45 L329.51,107.09Z" fill="none" stroke="#f4f000" stroke-width="0.85" stroke-linejoin="miter" stroke-miterlimit="10"/><path d="M326.7,103L328.7,105L326.7,107L324.7,105Z" fill="#ff0000"/>
<path d="M282.1,41.4L284,43.3L282.1,45.2L280.2,43.3Z" fill="#ff0000"/><path d="M302,44.2L303.9,46.1L302,48L300.1,46.1Z" fill="#ff0000"/><path d="M259.3,60.7L261.2,62.6L259.3,64.5L257.4,62.6Z" fill="#ff0000"/><path d="M313.4,62.3L315.3,64.2L313.4,66.1L311.5,64.2Z" fill="#ff0000"/><path d="M324.8,58.1L326.7,60L324.8,61.9L322.9,60Z" fill="#ff0000"/><path d="M295.9,69.5L297.8,71.4L295.9,73.3L294,71.4Z" fill="#ff0000"/><path d="M253.6,87.3L255.5,89.2L253.6,91.1L251.7,89.2Z" fill="#ff0000"/><path d="M271.7,94.9L273.6,96.8L271.7,98.7L269.8,96.8Z" fill="#ff0000"/><path d="M299.7,114.5L301.6,116.4L299.7,118.3L297.8,116.4Z" fill="#ff0000"/><path d="M283,121.5L284.9,123.4L283,125.3L281.1,123.4Z" fill="#ff0000"/>
<path d="M331.5,104 C338,100 346,99 354.5,98.8" fill="none" stroke="url(#redfade)" stroke-width="2.4"/>
<circle cx="358.5" cy="99.4" r="3.8" fill="url(#ball)"/><circle cx="366.4" cy="99.4" r="3.8" fill="url(#ball)"/>
<text x="358.3" y="90.9" font-size="10.5" text-anchor="start" font-weight="normal" fill="#000" stroke="#000" stroke-width="0.22" >O<tspan baseline-shift="-2.8" font-size="7.4">2</tspan></text>
<path d="M312.5,131.6 C312,122 315,115 320.5,111.5" fill="none" stroke="#c8782a" stroke-width="2"/>
<path d="M318,109 L323.6,108.2 L321.4,113.6Z" fill="#c8782a"/>
<path d="M329.6,111.2 C333,119 337,125 340.6,129.4" fill="none" stroke="#6fa6dc" stroke-width="2.2"/>
<path d="M337.2,129.6 L344,133.4 L343,126.4Z" fill="#6fa6dc"/>
<text x="309.2" y="142.1" font-size="10.5" text-anchor="start" font-weight="normal" fill="#000" stroke="#000" stroke-width="0.22" >H<tspan baseline-shift="4.2" font-size="7.4">+</tspan></text>
<circle cx="353.9" cy="134.9" r="3.9" fill="url(#ball)"/><circle cx="349.9" cy="138.2" r="2.2" fill="url(#ballc)"/><circle cx="357.4" cy="138.8" r="2.2" fill="url(#ballc)"/>
<text x="361.1" y="138.9" font-size="10.5" text-anchor="start" font-weight="normal" fill="#000" stroke="#000" stroke-width="0.22" >H<tspan baseline-shift="-2.8" font-size="7.4">2</tspan>O</text>
<g filter="url(#noise)">
<path d="M411.8,40.9 L444.5,36.9 L476.2,43 L502.7,86.3 L475.1,127.2 L443.5,140.5 L410.8,123.1 L385.2,85.3Z" fill="#9c6c6a" />
<path d="M411.8,40.9 L444.5,36.9 L443.5,49.5Z" fill="#8e5e5d" />
<path d="M444.5,36.9 L476.2,43 L443.5,49.5Z" fill="#764a49" />
<path d="M411.8,40.9 L443.5,49.5 L410.8,96.5 L385.2,85.3Z" fill="url(#pkTL)" />
<path d="M476.2,43 L502.7,86.3 L476.2,94.5 L443.5,49.5Z" fill="url(#pkTR)" />
<path d="M385.2,85.3 L410.8,96.5 L443.5,138.4 L443.5,140.5 L410.8,123.1Z" fill="url(#pkBL)" />
<path d="M502.7,86.3 L475.1,127.2 L443.5,140.5 L443.5,138.4 L476.2,94.5Z" fill="url(#pkBR)" />
<path d="M443.5,49.5 L476.2,94.5 L443.5,138.4 L410.8,96.5Z" fill="url(#pkF)" />
</g>
<path d="M394.4,73 C400,70 410,67 416,69 C424,72 430,80 436.3,86.3 C442,93 448,99 452.7,103.7 C458,109 462,115 471.1,119" fill="none" stroke="#84e884" stroke-width="7.0" stroke-linecap="round" stroke-linejoin="round" opacity="0.84"/>
<path d="M475.1,51.6 C475,60 474,70 467,78.1 C462,83 452,90 444.5,97.6 C438,103 428,108 420,110.8 C416,112 412,112 410.8,111.9" fill="none" stroke="#84e884" stroke-width="7.0" stroke-linecap="round" stroke-linejoin="round" opacity="0.84"/>
<path d="M435.3,41.1L437.2,43L435.3,44.9L433.4,43Z" fill="#ff0000"/><path d="M451,41.1L452.9,43L451,44.9L449.1,43Z" fill="#ff0000"/><path d="M433.2,66L435.1,67.9L433.2,69.8L431.3,67.9Z" fill="#ff0000"/><path d="M399.1,76.2L401,78.1L399.1,80L397.2,78.1Z" fill="#ff0000"/><path d="M491.1,79.3L493,81.2L491.1,83.1L489.2,81.2Z" fill="#ff0000"/><path d="M457.2,95L459.1,96.9L457.2,98.8L455.3,96.9Z" fill="#ff0000"/><path d="M421,99.7L422.9,101.6L421,103.5L419.1,101.6Z" fill="#ff0000"/><path d="M402.6,100.4L404.5,102.3L402.6,104.2L400.7,102.3Z" fill="#ff0000"/><path d="M479.6,105.5L481.5,107.4L479.6,109.3L477.7,107.4Z" fill="#ff0000"/><path d="M433.2,120.2L435.1,122.1L433.2,124L431.3,122.1Z" fill="#ff0000"/>
<path d="M408.62,71.62 L409.84,66.65 L405.72,68.41 L408.73,65.09 L404.05,64.57 L408.55,63.18 L404.38,60.22 L409.35,61.44 L408.32,58.35 L410.91,60.33 L411.46,56.03 L412.82,60.15 L415.78,55.98 L414.56,60.95 L419.13,58.87 L415.67,62.51 L419.78,63.08 L415.85,64.42 L418.04,66.47 L415.05,66.16 L416.34,69.62 L413.49,67.27 L413.04,72.62 L411.58,67.45Z" fill="none" stroke="#f4f000" stroke-width="0.85" stroke-linejoin="miter" stroke-miterlimit="10"/><path d="M412.2,61.8L414.2,63.8L412.2,65.8L410.2,63.8Z" fill="#ff0000"/><path d="M463.36,74.43 L463.97,71.5 L459.68,72.84 L463.02,69.84 L458.8,68.86 L463.03,67.92 L460.27,65.2 L464,66.27 L463.35,63.2 L465.66,65.32 L466.65,60.63 L467.58,65.33 L470.8,61.73 L469.23,66.3 L473.06,65.22 L470.18,67.96 L474.01,68.94 L470.17,69.88 L472.31,72.24 L469.2,71.53 L469.54,74.05 L467.54,72.48 L466.56,75.92 L465.62,72.47Z" fill="none" stroke="#f4f000" stroke-width="0.85" stroke-linejoin="miter" stroke-miterlimit="10"/><path d="M466.6,66.9L468.6,68.9L466.6,70.9L464.6,68.9Z" fill="#ff0000"/><path d="M432.15,89.28 L434.42,84.53 L431.51,84.77 L433.65,82.78 L431.34,81.57 L433.85,80.87 L430.12,76.98 L434.97,79.32 L434.68,76.29 L436.72,78.55 L437.96,75.96 L438.63,78.75 L441.92,75.85 L440.18,79.87 L443.65,79.38 L440.95,81.62 L445.81,83.1 L440.75,83.53 L442.64,86.09 L439.63,85.08 L440.86,90.21 L437.88,85.85 L436.58,89.03 L435.97,85.65Z" fill="none" stroke="#f4f000" stroke-width="0.85" stroke-linejoin="miter" stroke-miterlimit="10"/><path d="M437.3,80.2L439.3,82.2L437.3,84.2L435.3,82.2Z" fill="#ff0000"/><path d="M442.43,119.76 L445.1,115.33 L439.91,116.03 L444.51,113.51 L439.82,111.55 L444.9,111.63 L443.6,109.19 L446.17,110.2 L445.8,106.01 L447.99,109.61 L449.66,106.28 L449.87,110 L453.19,107.72 L451.3,111.27 L454.19,111.33 L451.89,113.09 L454.55,114.62 L451.5,114.97 L453.6,118.12 L450.23,116.4 L450.26,119.54 L448.41,116.99 L446.72,120.41 L446.53,116.6Z" fill="none" stroke="#f4f000" stroke-width="0.85" stroke-linejoin="miter" stroke-miterlimit="10"/><path d="M448.2,111.3L450.2,113.3L448.2,115.3L446.2,113.3Z" fill="#ff0000"/><path d="M411.98,122.42 L414.62,118.71 L409.69,118.82 L414.2,116.84 L411.74,115.06 L414.78,115.01 L411.91,110.46 L416.19,113.72 L416.5,110.66 L418.06,113.3 L420.28,109.46 L419.89,113.88 L422.47,112.82 L421.18,115.29 L425.87,115.23 L421.6,117.16 L423.97,118.92 L421.02,118.99 L423.31,122.91 L419.61,120.28 L419.64,124.87 L417.74,120.7 L415.44,124.81 L415.91,120.12Z" fill="none" stroke="#f4f000" stroke-width="0.85" stroke-linejoin="miter" stroke-miterlimit="10"/><path d="M417.9,115L419.9,117L417.9,119L415.9,117Z" fill="#ff0000"/>
<g filter="url(#noiseG)">
<path d="M542.7,40.9 L573.4,36.9 L604,42.4 L630.6,86.3 L603,125.1 L572.3,140.5 L543.7,123.1 L515.7,85.3Z" fill="#8c8c8c" />
<path d="M542.7,40.9 L573.4,36.9 L572.3,49.5Z" fill="#727272" />
<path d="M573.4,36.9 L604,42.4 L572.3,49.5Z" fill="#5e5e5e" />
<path d="M542.7,40.9 L572.3,49.5 L539.6,97.6 L515.7,85.3Z" fill="url(#gyTL)" />
<path d="M604,42.4 L630.6,86.3 L603,95.5 L572.3,49.5Z" fill="url(#gyTR)" />
<path d="M515.7,85.3 L539.6,97.6 L572.3,138.4 L572.3,140.5 L543.7,123.1Z" fill="url(#gyBL)" />
<path d="M630.6,86.3 L603,125.1 L572.3,140.5 L572.3,138.4 L603,95.5Z" fill="url(#gyBR)" />
<path d="M572.3,49.5 L603,95.5 L572.3,138.4 L539.6,97.6Z" fill="url(#gyF)" />
</g>
<g fill="#9a520f" opacity="0.92"><ellipse cx="543.7" cy="53.6" rx="6" ry="8" transform="rotate(20 543.7 53.6)"/><ellipse cx="588.7" cy="89.4" rx="6.8" ry="4.8" transform="rotate(35 588.7 89.4)"/><ellipse cx="609.1" cy="106.7" rx="3.8" ry="6.2" transform="rotate(35 609.1 106.7)"/><ellipse cx="567.2" cy="118" rx="5" ry="8.2" transform="rotate(5 567.2 118)"/></g>
<path d="M528.4,67.9 C534,64 544,62 551,64 C558,67 566,78 571.3,86.3 C576,93 586,102 591.7,106.7 C596,111 600,115 605,117" fill="none" stroke="#84e884" stroke-width="7.0" stroke-linecap="round" stroke-linejoin="round" opacity="0.84"/>
<path d="M606.1,54.6 C606,62 604,70 598,80 C592,88 586,92 583.6,94.5 C578,99 572,102 567,105 C560,109 550,114 542.7,114.9" fill="none" stroke="#84e884" stroke-width="7.0" stroke-linecap="round" stroke-linejoin="round" opacity="0.84"/>
<path d="M577,40.5L578.9,42.4L577,44.3L575.1,42.4Z" fill="#ff0000"/><path d="M572.3,60.9L574.2,62.8L572.3,64.7L570.4,62.8Z" fill="#ff0000"/><path d="M615.3,81.3L617.2,83.2L615.3,85.1L613.4,83.2Z" fill="#ff0000"/><path d="M553.9,95L555.8,96.9L553.9,98.8L552,96.9Z" fill="#ff0000"/><path d="M535.5,102.8L537.4,104.7L535.5,106.6L533.6,104.7Z" fill="#ff0000"/><path d="M579.5,121.6L581.4,123.5L579.5,125.4L577.6,123.5Z" fill="#ff0000"/>
<path d="M547.01,67.34 L550.25,69.58 L550.26,64.41 L552.18,69.21 L553.93,67.17 L554.03,69.86 L557.15,68.46 L555.32,71.35 L560.74,71.31 L555.69,73.28 L559.55,75.66 L555.04,75.13 L556.13,77.9 L553.55,76.42 L553.24,80.01 L551.62,76.79 L549.02,81.27 L549.77,76.14 L546.28,77.85 L548.48,74.65 L545.84,74.16 L548.11,72.72 L543.58,70.11 L548.76,70.87Z" fill="none" stroke="#f4f000" stroke-width="0.85" stroke-linejoin="miter" stroke-miterlimit="10"/><path d="M551.9,71L553.9,73L551.9,75L549.9,73Z" fill="#ff0000"/><path d="M594.74,64.08 L597.59,66.43 L598.3,63.25 L599.55,66.26 L601.67,64.03 L601.34,67.09 L606.15,64.91 L602.47,68.69 L606.71,69.31 L602.64,70.65 L606.32,73.44 L601.81,72.44 L603.36,76.35 L600.21,73.57 L599.54,77.22 L598.25,73.74 L595.4,77.53 L596.46,72.91 L592.49,74.5 L595.33,71.31 L590.48,70.75 L595.16,69.35 L591.56,66.59 L595.99,67.56Z" fill="none" stroke="#f4f000" stroke-width="0.85" stroke-linejoin="miter" stroke-miterlimit="10"/><path d="M598.9,68L600.9,70L598.9,72L596.9,70Z" fill="#ff0000"/>
<text x="244.4" y="159.4" font-size="10.7" text-anchor="start" font-weight="normal" fill="#000" stroke="#000" stroke-width="0.22" >TPI<tspan dx="0.9" dy="-0.6" font-size="9.42" stroke-width="0.12">@</tspan><tspan dx="0.8" dy="0.6">Z8(SiO<tspan baseline-shift="-2.8" font-size="7.4">2</tspan>)-650-C</tspan></text>
<text x="445.5" y="159.4" font-size="10.7" text-anchor="middle" font-weight="normal" fill="#000" stroke="#000" stroke-width="0.22" >TPI<tspan dx="0.9" dy="-0.6" font-size="9.42" stroke-width="0.12">@</tspan><tspan dx="0.8" dy="0.6">Z8-650-C</tspan></text>
<text x="574.4" y="159.8" font-size="10.7" text-anchor="middle" font-weight="normal" fill="#000" stroke="#000" stroke-width="0.22" >Z8/TPI-C</text>
<rect x="42.6" y="194.6" width="238.2" height="191.7" fill="none" stroke="#8a8a8a" stroke-width="1"/>
<path d="M42.6,386.3h-4M42.6,347.96h-4M42.6,309.62h-4M42.6,271.28h-4M42.6,232.94h-4M42.6,194.6h-4" stroke="#8a8a8a" stroke-width="1" fill="none"/>
<path d="M42.6,367.13h-2.5M42.6,328.79h-2.5M42.6,290.45h-2.5M42.6,252.11h-2.5M42.6,213.77h-2.5" stroke="#8a8a8a" stroke-width="1" fill="none"/>
<path d="M280.8,386.3h4M280.8,347.96h4M280.8,309.62h4M280.8,271.28h4M280.8,232.94h4M280.8,194.6h4" stroke="#8a8a8a" stroke-width="1" fill="none"/>
<path d="M280.8,367.13h2.5M280.8,328.79h2.5M280.8,290.45h2.5M280.8,252.11h2.5M280.8,213.77h2.5" stroke="#8a8a8a" stroke-width="1" fill="none"/>
<path d="M42.6,386.3v4M110.5,386.3v4M178.4,386.3v4M246.3,386.3v4" stroke="#8a8a8a" stroke-width="1" fill="none"/>
<path d="M76.55,386.3v2.5M144.45,386.3v2.5M212.35,386.3v2.5M280.25,386.3v2.5" stroke="#8a8a8a" stroke-width="1" fill="none"/>
<text x="33.7" y="390.1" font-size="10.75" text-anchor="end" font-weight="normal" fill="#111" stroke="#111" stroke-width="0.22" >0.0</text>
<text x="33.7" y="351.76" font-size="10.75" text-anchor="end" font-weight="normal" fill="#111" stroke="#111" stroke-width="0.22" >0.2</text>
<text x="33.7" y="313.42" font-size="10.75" text-anchor="end" font-weight="normal" fill="#111" stroke="#111" stroke-width="0.22" >0.4</text>
<text x="33.7" y="275.08" font-size="10.75" text-anchor="end" font-weight="normal" fill="#111" stroke="#111" stroke-width="0.22" >0.6</text>
<text x="33.7" y="236.74" font-size="10.75" text-anchor="end" font-weight="normal" fill="#111" stroke="#111" stroke-width="0.22" >0.8</text>
<text x="33.7" y="198.4" font-size="10.75" text-anchor="end" font-weight="normal" fill="#111" stroke="#111" stroke-width="0.22" >1.0</text>
<text x="289.3" y="390.1" font-size="10.75" text-anchor="start" font-weight="normal" fill="#111" stroke="#111" stroke-width="0.22" >0.0</text>
<text x="289.3" y="351.76" font-size="10.75" text-anchor="start" font-weight="normal" fill="#111" stroke="#111" stroke-width="0.22" >0.3</text>
<text x="289.3" y="313.42" font-size="10.75" text-anchor="start" font-weight="normal" fill="#111" stroke="#111" stroke-width="0.22" >0.6</text>
<text x="289.3" y="275.08" font-size="10.75" text-anchor="start" font-weight="normal" fill="#111" stroke="#111" stroke-width="0.22" >0.9</text>
<text x="289.3" y="236.74" font-size="10.75" text-anchor="start" font-weight="normal" fill="#111" stroke="#111" stroke-width="0.22" >1.2</text>
<text x="289.3" y="198.4" font-size="10.75" text-anchor="start" font-weight="normal" fill="#111" stroke="#111" stroke-width="0.22" >1.5</text>
<text x="42.6" y="403.3" font-size="10.75" text-anchor="middle" font-weight="normal" fill="#111" stroke="#111" stroke-width="0.22" >0</text>
<text x="110.5" y="403.3" font-size="10.75" text-anchor="middle" font-weight="normal" fill="#111" stroke="#111" stroke-width="0.22" >1</text>
<text x="178.4" y="403.3" font-size="10.75" text-anchor="middle" font-weight="normal" fill="#111" stroke="#111" stroke-width="0.22" >2</text>
<text x="246.3" y="403.3" font-size="10.75" text-anchor="middle" font-weight="normal" fill="#111" stroke="#111" stroke-width="0.22" >3</text>
<text x="100.5" y="421.2" font-size="10.75" text-anchor="start" font-weight="normal" fill="#111" stroke="#111" stroke-width="0.22" >Current density (A cm<tspan baseline-shift="4.2" font-size="7.4">−2</tspan>)</text>
<text x="0" y="0" font-size="10.75" text-anchor="middle" font-weight="normal" fill="#111" stroke="#111" stroke-width="0.22" transform="translate(9.2,290.5) rotate(-90)">Cell voltage (V)</text>
<text x="0" y="0" font-size="10.75" text-anchor="middle" font-weight="normal" fill="#111" stroke="#111" stroke-width="0.22" transform="translate(315.8,292) rotate(90)">Power density (W cm<tspan baseline-shift="4.2" font-size="7.4">−2</tspan>)</text>
<text x="-0.9" y="191.4" font-size="13.2" text-anchor="start" font-weight="bold" fill="#000" stroke="#000" stroke-width="0.22" >b</text>
<g clip-path="url(#clipb)">
<path d="M42.6,386.3 L43.43,384.92 L44.25,383.62 L45.08,382.36 L45.9,381.13 L46.73,379.92 L47.55,378.73 L48.38,377.56 L49.21,376.39 L50.03,375.24 L50.86,374.1 L51.68,372.98 L52.51,371.86 L53.33,370.75 L54.16,369.65 L54.99,368.57 L55.81,367.49 L56.64,366.42 L57.46,365.36 L58.29,364.31 L59.11,363.26 L59.94,362.22 L60.77,361.2 L61.59,360.18 L62.42,359.17 L63.24,358.18 L64.07,357.19 L64.89,356.22 L65.72,355.25 L66.55,354.29 L67.37,353.35 L68.2,352.41 L69.02,351.49 L69.85,350.57 L70.67,349.67 L71.5,348.78 L72.33,347.9 L73.15,347.03 L73.98,346.17 L74.8,345.31 L75.63,344.47 L76.45,343.62 L77.28,342.78 L78.11,341.94 L78.93,341.11 L79.76,340.29 L80.58,339.48 L81.41,338.67 L82.23,337.88 L83.06,337.1 L83.89,336.34 L84.71,335.59 L85.54,334.85 L86.36,334.12 L87.19,333.41 L88.01,332.7 L88.84,332 L89.67,331.31 L90.49,330.63 L91.32,329.95 L92.14,329.28 L92.97,328.61 L93.79,327.96 L94.62,327.32 L95.45,326.68 L96.27,326.05 L97.1,325.44 L97.92,324.83 L98.75,324.24 L99.57,323.65 L100.4,323.07 L101.23,322.5 L102.05,321.95 L102.88,321.4 L103.7,320.86 L104.53,320.33 L105.35,319.81 L106.18,319.31 L107.01,318.81 L107.83,318.32 L108.66,317.84 L109.48,317.36 L110.31,316.89 L111.13,316.41 L111.96,315.94 L112.79,315.47 L113.61,315.01 L114.44,314.55 L115.26,314.09 L116.09,313.65 L116.91,313.21 L117.74,312.79 L118.57,312.38 L119.39,311.98 L120.22,311.58 L121.04,311.2 L121.87,310.82 L122.69,310.46 L123.52,310.09 L124.35,309.74 L125.17,309.39 L126,309.04 L126.82,308.7 L127.65,308.37 L128.47,308.04 L129.3,307.72 L130.13,307.4 L130.95,307.09 L131.78,306.8 L132.6,306.51 L133.43,306.24 L134.25,305.98 L135.08,305.73 L135.91,305.49 L136.73,305.26 L137.56,305.04 L138.38,304.82 L139.21,304.62 L140.03,304.43 L140.86,304.24 L141.69,304.05 L142.51,303.88 L143.34,303.71 L144.16,303.54 L144.99,303.38 L145.81,303.23 L146.64,303.08 L147.47,302.94 L148.29,302.8 L149.12,302.67 L149.94,302.55 L150.77,302.44 L151.59,302.33 L152.42,302.23 L153.25,302.14 L154.07,302.05 L154.9,301.97 L155.72,301.89 L156.55,301.83 L157.37,301.77 L158.2,301.71 L159.03,301.67 L159.85,301.63 L160.68,301.6 L161.5,301.58 L162.33,301.56 L163.15,301.56 L163.98,301.56 L164.81,301.57 L165.63,301.58 L166.46,301.59 L167.28,301.61 L168.11,301.63 L168.93,301.65 L169.76,301.66 L170.59,301.68 L171.41,301.69 L172.24,301.71 L173.06,301.72 L173.89,301.73 L174.71,301.75 L175.54,301.77 L176.37,301.79 L177.19,301.81 L178.02,301.84 L178.84,301.88 L179.67,301.92 L180.5,301.97 L181.32,302.02 L182.15,302.09 L182.97,302.17 L183.8,302.26 L184.62,302.36 L185.45,302.47 L186.28,302.6 L187.1,302.75 L187.93,302.9 L188.75,303.07 L189.58,303.24 L190.4,303.43 L191.23,303.62 L192.06,303.83 L192.88,304.04 L193.71,304.27 L194.53,304.5 L195.36,304.75 L196.18,305.01 L197.01,305.27 L197.84,305.55 L198.66,305.84 L199.49,306.13 L200.31,306.44 L201.14,306.76 L201.96,307.09 L202.79,307.43 L203.62,307.78 L204.44,308.14 L205.27,308.51 L206.09,308.9 L206.92,309.29" fill="none" stroke="#8b0000" stroke-width="1.1" stroke-linejoin="round" />
<path d="M42.6,208.98 L43.43,216.65 L44.25,220.76 L45.08,224.16 L45.9,226.94 L46.73,228.99 L47.55,230.73 L48.38,232.23 L49.21,233.54 L50.03,234.75 L50.86,235.86 L51.68,236.9 L52.51,237.86 L53.33,238.77 L54.16,239.64 L54.99,240.48 L55.81,241.3 L56.64,242.08 L57.46,242.82 L58.29,243.53 L59.11,244.22 L59.94,244.89 L60.77,245.55 L61.59,246.21 L62.42,246.87 L63.24,247.54 L64.07,248.21 L64.89,248.87 L65.72,249.52 L66.55,250.17 L67.37,250.81 L68.2,251.46 L69.02,252.11 L69.85,252.75 L70.67,253.41 L71.5,254.07 L72.33,254.73 L73.15,255.39 L73.98,256.04 L74.8,256.67 L75.63,257.3 L76.45,257.9 L77.28,258.49 L78.11,259.07 L78.93,259.63 L79.76,260.19 L80.58,260.75 L81.41,261.31 L82.23,261.88 L83.06,262.45 L83.89,263.05 L84.71,263.65 L85.54,264.25 L86.36,264.86 L87.19,265.48 L88.01,266.09 L88.84,266.7 L89.67,267.3 L90.49,267.9 L91.32,268.49 L92.14,269.07 L92.97,269.65 L93.79,270.23 L94.62,270.81 L95.45,271.39 L96.27,271.97 L97.1,272.56 L97.92,273.14 L98.75,273.72 L99.57,274.3 L100.4,274.89 L101.23,275.47 L102.05,276.05 L102.88,276.64 L103.7,277.22 L104.53,277.8 L105.35,278.39 L106.18,278.99 L107.01,279.58 L107.83,280.16 L108.66,280.75 L109.48,281.32 L110.31,281.89 L111.13,282.44 L111.96,282.98 L112.79,283.52 L113.61,284.04 L114.44,284.57 L115.26,285.09 L116.09,285.61 L116.91,286.14 L117.74,286.66 L118.57,287.19 L119.39,287.72 L120.22,288.26 L121.04,288.79 L121.87,289.32 L122.69,289.85 L123.52,290.38 L124.35,290.91 L125.17,291.43 L126,291.95 L126.82,292.46 L127.65,292.97 L128.47,293.48 L129.3,293.98 L130.13,294.49 L130.95,294.99 L131.78,295.5 L132.6,296.01 L133.43,296.53 L134.25,297.04 L135.08,297.57 L135.91,298.09 L136.73,298.61 L137.56,299.14 L138.38,299.66 L139.21,300.19 L140.03,300.71 L140.86,301.24 L141.69,301.76 L142.51,302.28 L143.34,302.8 L144.16,303.31 L144.99,303.82 L145.81,304.33 L146.64,304.83 L147.47,305.34 L148.29,305.84 L149.12,306.34 L149.94,306.84 L150.77,307.34 L151.59,307.84 L152.42,308.33 L153.25,308.83 L154.07,309.32 L154.9,309.81 L155.72,310.31 L156.55,310.8 L157.37,311.29 L158.2,311.78 L159.03,312.26 L159.85,312.75 L160.68,313.24 L161.5,313.73 L162.33,314.22 L163.15,314.71 L163.98,315.19 L164.81,315.68 L165.63,316.16 L166.46,316.64 L167.28,317.12 L168.11,317.59 L168.93,318.05 L169.76,318.51 L170.59,318.96 L171.41,319.4 L172.24,319.84 L173.06,320.27 L173.89,320.7 L174.71,321.12 L175.54,321.54 L176.37,321.95 L177.19,322.37 L178.02,322.78 L178.84,323.19 L179.67,323.6 L180.5,324.01 L181.32,324.42 L182.15,324.84 L182.97,325.26 L183.8,325.68 L184.62,326.1 L185.45,326.53 L186.28,326.97 L187.1,327.41 L187.93,327.85 L188.75,328.3 L189.58,328.74 L190.4,329.19 L191.23,329.64 L192.06,330.1 L192.88,330.55 L193.71,331.01 L194.53,331.47 L195.36,331.93 L196.18,332.39 L197.01,332.85 L197.84,333.32 L198.66,333.79 L199.49,334.26 L200.31,334.73 L201.14,335.2 L201.96,335.68 L202.79,336.15 L203.62,336.63 L204.44,337.11 L205.27,337.6 L206.09,338.08 L206.92,338.57" fill="none" stroke="#8b0000" stroke-width="1.4" stroke-linejoin="round" />
<circle cx="42.6" cy="386.3" r="1.65" fill="#fff" stroke="#8b0000" stroke-width="0.65"/><circle cx="43.96" cy="384.08" r="1.65" fill="#fff" stroke="#8b0000" stroke-width="0.65"/><circle cx="46" cy="381" r="1.65" fill="#fff" stroke="#8b0000" stroke-width="0.65"/><circle cx="49.39" cy="376.13" r="1.65" fill="#fff" stroke="#8b0000" stroke-width="0.65"/><circle cx="56.18" cy="367.01" r="1.65" fill="#fff" stroke="#8b0000" stroke-width="0.65"/><circle cx="62.97" cy="358.5" r="1.65" fill="#fff" stroke="#8b0000" stroke-width="0.65"/><circle cx="69.76" cy="350.67" r="1.65" fill="#fff" stroke="#8b0000" stroke-width="0.65"/><circle cx="76.55" cy="343.52" r="1.65" fill="#fff" stroke="#8b0000" stroke-width="0.65"/><circle cx="83.34" cy="336.84" r="1.65" fill="#fff" stroke="#8b0000" stroke-width="0.65"/><circle cx="90.13" cy="330.92" r="1.65" fill="#fff" stroke="#8b0000" stroke-width="0.65"/><circle cx="96.92" cy="325.57" r="1.65" fill="#fff" stroke="#8b0000" stroke-width="0.65"/><circle cx="103.71" cy="320.85" r="1.65" fill="#fff" stroke="#8b0000" stroke-width="0.65"/><circle cx="110.5" cy="316.78" r="1.65" fill="#fff" stroke="#8b0000" stroke-width="0.65"/><circle cx="117.29" cy="313.02" r="1.65" fill="#fff" stroke="#8b0000" stroke-width="0.65"/><circle cx="124.08" cy="309.85" r="1.65" fill="#fff" stroke="#8b0000" stroke-width="0.65"/><circle cx="130.87" cy="307.12" r="1.65" fill="#fff" stroke="#8b0000" stroke-width="0.65"/><circle cx="137.66" cy="305.01" r="1.65" fill="#fff" stroke="#8b0000" stroke-width="0.65"/><circle cx="144.45" cy="303.49" r="1.65" fill="#fff" stroke="#8b0000" stroke-width="0.65"/><circle cx="151.24" cy="302.38" r="1.65" fill="#fff" stroke="#8b0000" stroke-width="0.65"/><circle cx="158.03" cy="301.73" r="1.65" fill="#fff" stroke="#8b0000" stroke-width="0.65"/><circle cx="164.82" cy="301.57" r="1.65" fill="#fff" stroke="#8b0000" stroke-width="0.65"/><circle cx="171.61" cy="301.7" r="1.65" fill="#fff" stroke="#8b0000" stroke-width="0.65"/><circle cx="178.4" cy="301.86" r="1.65" fill="#fff" stroke="#8b0000" stroke-width="0.65"/><circle cx="185.19" cy="302.43" r="1.65" fill="#fff" stroke="#8b0000" stroke-width="0.65"/><circle cx="191.98" cy="303.81" r="1.65" fill="#fff" stroke="#8b0000" stroke-width="0.65"/><circle cx="198.77" cy="305.88" r="1.65" fill="#fff" stroke="#8b0000" stroke-width="0.65"/><circle cx="205.56" cy="308.65" r="1.65" fill="#fff" stroke="#8b0000" stroke-width="0.65"/><circle cx="49.39" cy="233.82" r="1.6" fill="#8b0000" stroke="#8b0000" stroke-width="0.3"/><circle cx="56.18" cy="241.65" r="1.6" fill="#8b0000" stroke="#8b0000" stroke-width="0.3"/><circle cx="62.97" cy="247.32" r="1.6" fill="#8b0000" stroke="#8b0000" stroke-width="0.3"/><circle cx="69.76" cy="252.69" r="1.6" fill="#8b0000" stroke="#8b0000" stroke-width="0.3"/><circle cx="76.55" cy="257.97" r="1.6" fill="#8b0000" stroke="#8b0000" stroke-width="0.3"/><circle cx="83.34" cy="262.65" r="1.6" fill="#8b0000" stroke="#8b0000" stroke-width="0.3"/><circle cx="90.13" cy="267.64" r="1.6" fill="#8b0000" stroke="#8b0000" stroke-width="0.3"/><circle cx="96.92" cy="272.43" r="1.6" fill="#8b0000" stroke="#8b0000" stroke-width="0.3"/><circle cx="103.71" cy="277.22" r="1.6" fill="#8b0000" stroke="#8b0000" stroke-width="0.3"/><circle cx="110.5" cy="282.02" r="1.6" fill="#8b0000" stroke="#8b0000" stroke-width="0.3"/><circle cx="117.29" cy="286.37" r="1.6" fill="#8b0000" stroke="#8b0000" stroke-width="0.3"/><circle cx="124.08" cy="290.74" r="1.6" fill="#8b0000" stroke="#8b0000" stroke-width="0.3"/><circle cx="130.87" cy="294.94" r="1.6" fill="#8b0000" stroke="#8b0000" stroke-width="0.3"/><circle cx="137.66" cy="299.2" r="1.6" fill="#8b0000" stroke="#8b0000" stroke-width="0.3"/><circle cx="144.45" cy="303.49" r="1.6" fill="#8b0000" stroke="#8b0000" stroke-width="0.3"/><circle cx="151.24" cy="307.62" r="1.6" fill="#8b0000" stroke="#8b0000" stroke-width="0.3"/><circle cx="158.03" cy="311.68" r="1.6" fill="#8b0000" stroke="#8b0000" stroke-width="0.3"/><circle cx="164.82" cy="315.69" r="1.6" fill="#8b0000" stroke="#8b0000" stroke-width="0.3"/><circle cx="171.61" cy="319.51" r="1.6" fill="#8b0000" stroke="#8b0000" stroke-width="0.3"/><circle cx="178.4" cy="322.97" r="1.6" fill="#8b0000" stroke="#8b0000" stroke-width="0.3"/><circle cx="185.19" cy="326.4" r="1.6" fill="#8b0000" stroke="#8b0000" stroke-width="0.3"/><circle cx="191.98" cy="330.06" r="1.6" fill="#8b0000" stroke="#8b0000" stroke-width="0.3"/><circle cx="198.77" cy="333.85" r="1.6" fill="#8b0000" stroke="#8b0000" stroke-width="0.3"/><circle cx="205.56" cy="337.77" r="1.6" fill="#8b0000" stroke="#8b0000" stroke-width="0.3"/>
<path d="M42.6,386.3 L43.79,384.27 L44.99,382.33 L46.18,380.44 L47.38,378.58 L48.57,376.75 L49.77,374.93 L50.96,373.11 L52.15,371.31 L53.35,369.52 L54.54,367.75 L55.74,366.01 L56.93,364.3 L58.12,362.59 L59.32,360.91 L60.51,359.24 L61.71,357.59 L62.9,355.95 L64.1,354.32 L65.29,352.71 L66.48,351.11 L67.68,349.53 L68.87,347.96 L70.07,346.4 L71.26,344.85 L72.46,343.31 L73.65,341.79 L74.84,340.27 L76.04,338.76 L77.23,337.26 L78.43,335.78 L79.62,334.31 L80.82,332.86 L82.01,331.42 L83.2,329.99 L84.4,328.58 L85.59,327.2 L86.79,325.84 L87.98,324.5 L89.17,323.19 L90.37,321.89 L91.56,320.61 L92.76,319.35 L93.95,318.12 L95.15,316.9 L96.34,315.7 L97.53,314.52 L98.73,313.37 L99.92,312.24 L101.12,311.13 L102.31,310.04 L103.51,308.96 L104.7,307.9 L105.89,306.84 L107.09,305.81 L108.28,304.79 L109.48,303.8 L110.67,302.84 L111.86,301.91 L113.06,301 L114.25,300.12 L115.45,299.27 L116.64,298.44 L117.84,297.64 L119.03,296.87 L120.22,296.12 L121.42,295.39 L122.61,294.68 L123.81,293.98 L125,293.3 L126.2,292.65 L127.39,292.01 L128.58,291.4 L129.78,290.8 L130.97,290.21 L132.17,289.65 L133.36,289.12 L134.56,288.61 L135.75,288.12 L136.94,287.67 L138.14,287.25 L139.33,286.84 L140.53,286.47 L141.72,286.11 L142.91,285.77 L144.11,285.46 L145.3,285.17 L146.5,284.9 L147.69,284.63 L148.89,284.36 L150.08,284.1 L151.27,283.85 L152.47,283.63 L153.66,283.43 L154.86,283.28 L156.05,283.16 L157.25,283.07 L158.44,282.97 L159.63,282.87 L160.83,282.76 L162.02,282.66 L163.22,282.54 L164.41,282.42 L165.6,282.3 L166.8,282.16 L167.99,282.02 L169.19,281.87 L170.38,281.7 L171.58,281.5 L172.77,281.27 L173.96,281.01 L175.16,280.73 L176.35,280.43 L177.55,280.12 L178.74,279.8 L179.94,279.49 L181.13,279.19 L182.32,278.9 L183.52,278.63 L184.71,278.39 L185.91,278.19 L187.1,278.02 L188.29,277.86 L189.49,277.7 L190.68,277.54 L191.88,277.38 L193.07,277.24 L194.27,277.11 L195.46,277 L196.65,276.9 L197.85,276.83 L199.04,276.79 L200.24,276.78 L201.43,276.78 L202.63,276.78 L203.82,276.78 L205.01,276.78 L206.21,276.78 L207.4,276.78 L208.6,276.78 L209.79,276.78 L210.99,276.78 L212.18,276.78 L213.37,276.78 L214.57,276.84 L215.76,276.96 L216.96,277.12 L218.15,277.32 L219.34,277.55 L220.54,277.8 L221.73,278.06 L222.93,278.33 L224.12,278.59 L225.32,278.83 L226.51,279.08 L227.7,279.34 L228.9,279.61 L230.09,279.89 L231.29,280.18 L232.48,280.49 L233.68,280.8 L234.87,281.13 L236.06,281.47 L237.26,281.82 L238.45,282.18 L239.65,282.55 L240.84,282.95 L242.03,283.35 L243.23,283.78 L244.42,284.21 L245.62,284.67 L246.81,285.13 L248.01,285.62 L249.2,286.11 L250.39,286.63 L251.59,287.18 L252.78,287.76 L253.98,288.35 L255.17,288.97 L256.37,289.59 L257.56,290.23 L258.75,290.87 L259.95,291.52 L261.14,292.17 L262.34,292.83 L263.53,293.49 L264.73,294.16 L265.92,294.85 L267.11,295.56 L268.31,296.29 L269.5,297.04 L270.7,297.83 L271.89,298.65 L273.08,299.51 L274.28,300.39 L275.47,301.31 L276.67,302.26 L277.86,303.24 L279.06,304.25 L280.25,305.27" fill="none" stroke="#0000ff" stroke-width="1.1" stroke-linejoin="round" />
<path d="M42.6,208.98 L43.79,213.32 L44.99,216.96 L46.18,219.62 L47.38,221.75 L48.57,223.39 L49.77,224.61 L50.96,225.62 L52.15,226.49 L53.35,227.3 L54.54,228.13 L55.74,229.02 L56.93,229.91 L58.12,230.78 L59.32,231.64 L60.51,232.46 L61.71,233.26 L62.9,234.04 L64.1,234.79 L65.29,235.53 L66.48,236.25 L67.68,236.96 L68.87,237.65 L70.07,238.34 L71.26,239.01 L72.46,239.66 L73.65,240.29 L74.84,240.91 L76.04,241.5 L77.23,242.09 L78.43,242.68 L79.62,243.28 L80.82,243.87 L82.01,244.46 L83.2,245.05 L84.4,245.66 L85.59,246.28 L86.79,246.93 L87.98,247.6 L89.17,248.28 L90.37,248.97 L91.56,249.66 L92.76,250.36 L93.95,251.06 L95.15,251.78 L96.34,252.49 L97.53,253.22 L98.73,253.96 L99.92,254.71 L101.12,255.46 L102.31,256.22 L103.51,256.97 L104.7,257.71 L105.89,258.44 L107.09,259.17 L108.28,259.91 L109.48,260.66 L110.67,261.42 L111.86,262.2 L113.06,263 L114.25,263.81 L115.45,264.62 L116.64,265.45 L117.84,266.28 L119.03,267.13 L120.22,267.98 L121.42,268.83 L122.61,269.67 L123.81,270.51 L125,271.36 L126.2,272.2 L127.39,273.04 L128.58,273.88 L129.78,274.72 L130.97,275.56 L132.17,276.4 L133.36,277.24 L134.56,278.09 L135.75,278.95 L136.94,279.82 L138.14,280.7 L139.33,281.58 L140.53,282.46 L141.72,283.35 L142.91,284.23 L144.11,285.12 L145.3,286.01 L146.5,286.9 L147.69,287.76 L148.89,288.61 L150.08,289.45 L151.27,290.29 L152.47,291.12 L153.66,291.97 L154.86,292.83 L156.05,293.71 L157.25,294.59 L158.44,295.46 L159.63,296.29 L160.83,297.08 L162.02,297.85 L163.22,298.6 L164.41,299.33 L165.6,300.05 L166.8,300.74 L167.99,301.43 L169.19,302.09 L170.38,302.74 L171.58,303.38 L172.77,304 L173.96,304.61 L175.16,305.2 L176.35,305.79 L177.55,306.36 L178.74,306.93 L179.94,307.5 L181.13,308.06 L182.32,308.63 L183.52,309.19 L184.71,309.76 L185.91,310.33 L187.1,310.91 L188.29,311.49 L189.49,312.07 L190.68,312.65 L191.88,313.23 L193.07,313.82 L194.27,314.4 L195.46,314.98 L196.65,315.55 L197.85,316.13 L199.04,316.7 L200.24,317.27 L201.43,317.84 L202.63,318.4 L203.82,318.96 L205.01,319.51 L206.21,320.06 L207.4,320.6 L208.6,321.14 L209.79,321.68 L210.99,322.22 L212.18,322.75 L213.37,323.28 L214.57,323.82 L215.76,324.35 L216.96,324.89 L218.15,325.42 L219.34,325.96 L220.54,326.51 L221.73,327.06 L222.93,327.61 L224.12,328.16 L225.32,328.71 L226.51,329.27 L227.7,329.83 L228.9,330.38 L230.09,330.94 L231.29,331.49 L232.48,332.05 L233.68,332.6 L234.87,333.15 L236.06,333.7 L237.26,334.25 L238.45,334.79 L239.65,335.34 L240.84,335.89 L242.03,336.44 L243.23,336.99 L244.42,337.54 L245.62,338.09 L246.81,338.63 L248.01,339.17 L249.2,339.69 L250.39,340.22 L251.59,340.73 L252.78,341.23 L253.98,341.72 L255.17,342.2 L256.37,342.66 L257.56,343.11 L258.75,343.56 L259.95,344 L261.14,344.43 L262.34,344.86 L263.53,345.29 L264.73,345.72 L265.92,346.16 L267.11,346.59 L268.31,347.03 L269.5,347.48 L270.7,347.94 L271.89,348.41 L273.08,348.88 L274.28,349.36 L275.47,349.84 L276.67,350.32 L277.86,350.81 L279.06,351.3 L280.25,351.79" fill="none" stroke="#0000ff" stroke-width="1.4" stroke-linejoin="round" />
<circle cx="42.6" cy="386.3" r="1.65" fill="#fff" stroke="#0000ff" stroke-width="0.65"/><circle cx="43.96" cy="384" r="1.65" fill="#fff" stroke="#0000ff" stroke-width="0.65"/><circle cx="46" cy="380.73" r="1.65" fill="#fff" stroke="#0000ff" stroke-width="0.65"/><circle cx="49.39" cy="375.5" r="1.65" fill="#fff" stroke="#0000ff" stroke-width="0.65"/><circle cx="56.18" cy="365.37" r="1.65" fill="#fff" stroke="#0000ff" stroke-width="0.65"/><circle cx="62.97" cy="355.86" r="1.65" fill="#fff" stroke="#0000ff" stroke-width="0.65"/><circle cx="69.76" cy="346.8" r="1.65" fill="#fff" stroke="#0000ff" stroke-width="0.65"/><circle cx="76.55" cy="338.12" r="1.65" fill="#fff" stroke="#0000ff" stroke-width="0.65"/><circle cx="83.34" cy="329.83" r="1.65" fill="#fff" stroke="#0000ff" stroke-width="0.65"/><circle cx="90.13" cy="322.15" r="1.65" fill="#fff" stroke="#0000ff" stroke-width="0.65"/><circle cx="96.92" cy="315.12" r="1.65" fill="#fff" stroke="#0000ff" stroke-width="0.65"/><circle cx="103.71" cy="308.78" r="1.65" fill="#fff" stroke="#0000ff" stroke-width="0.65"/><circle cx="110.5" cy="302.97" r="1.65" fill="#fff" stroke="#0000ff" stroke-width="0.65"/><circle cx="117.29" cy="298.01" r="1.65" fill="#fff" stroke="#0000ff" stroke-width="0.65"/><circle cx="124.08" cy="293.82" r="1.65" fill="#fff" stroke="#0000ff" stroke-width="0.65"/><circle cx="130.87" cy="290.26" r="1.65" fill="#fff" stroke="#0000ff" stroke-width="0.65"/><circle cx="137.66" cy="287.41" r="1.65" fill="#fff" stroke="#0000ff" stroke-width="0.65"/><circle cx="144.45" cy="285.38" r="1.65" fill="#fff" stroke="#0000ff" stroke-width="0.65"/><circle cx="151.24" cy="283.86" r="1.65" fill="#fff" stroke="#0000ff" stroke-width="0.65"/><circle cx="158.03" cy="283.01" r="1.65" fill="#fff" stroke="#0000ff" stroke-width="0.65"/><circle cx="164.82" cy="282.38" r="1.65" fill="#fff" stroke="#0000ff" stroke-width="0.65"/><circle cx="171.61" cy="281.5" r="1.65" fill="#fff" stroke="#0000ff" stroke-width="0.65"/><circle cx="178.4" cy="279.89" r="1.65" fill="#fff" stroke="#0000ff" stroke-width="0.65"/><circle cx="185.19" cy="278.31" r="1.65" fill="#fff" stroke="#0000ff" stroke-width="0.65"/><circle cx="191.98" cy="277.37" r="1.65" fill="#fff" stroke="#0000ff" stroke-width="0.65"/><circle cx="198.77" cy="276.8" r="1.65" fill="#fff" stroke="#0000ff" stroke-width="0.65"/><circle cx="205.56" cy="276.78" r="1.65" fill="#fff" stroke="#0000ff" stroke-width="0.65"/><circle cx="212.35" cy="276.78" r="1.65" fill="#fff" stroke="#0000ff" stroke-width="0.65"/><circle cx="219.14" cy="277.51" r="1.65" fill="#fff" stroke="#0000ff" stroke-width="0.65"/><circle cx="225.93" cy="278.96" r="1.65" fill="#fff" stroke="#0000ff" stroke-width="0.65"/><circle cx="232.72" cy="280.55" r="1.65" fill="#fff" stroke="#0000ff" stroke-width="0.65"/><circle cx="239.51" cy="282.51" r="1.65" fill="#fff" stroke="#0000ff" stroke-width="0.65"/><circle cx="246.3" cy="284.93" r="1.65" fill="#fff" stroke="#0000ff" stroke-width="0.65"/><circle cx="253.09" cy="287.91" r="1.65" fill="#fff" stroke="#0000ff" stroke-width="0.65"/><circle cx="259.88" cy="291.49" r="1.65" fill="#fff" stroke="#0000ff" stroke-width="0.65"/><circle cx="266.67" cy="295.29" r="1.65" fill="#fff" stroke="#0000ff" stroke-width="0.65"/><circle cx="273.46" cy="299.78" r="1.65" fill="#fff" stroke="#0000ff" stroke-width="0.65"/><circle cx="280.25" cy="305.27" r="1.65" fill="#fff" stroke="#0000ff" stroke-width="0.65"/><path d="M49.39,222.46L51.19,224.26L49.39,226.06L47.59,224.26Z" fill="#0000ff" stroke="#0000ff" stroke-width="0.3"/><path d="M56.18,227.56L57.98,229.36L56.18,231.16L54.38,229.36Z" fill="#0000ff" stroke="#0000ff" stroke-width="0.3"/><path d="M62.97,232.28L64.77,234.08L62.97,235.88L61.17,234.08Z" fill="#0000ff" stroke="#0000ff" stroke-width="0.3"/><path d="M69.76,236.36L71.56,238.16L69.76,239.96L67.96,238.16Z" fill="#0000ff" stroke="#0000ff" stroke-width="0.3"/><path d="M76.55,239.96L78.35,241.76L76.55,243.56L74.75,241.76Z" fill="#0000ff" stroke="#0000ff" stroke-width="0.3"/><path d="M83.34,243.32L85.14,245.12L83.34,246.92L81.54,245.12Z" fill="#0000ff" stroke="#0000ff" stroke-width="0.3"/><path d="M90.13,247.03L91.93,248.83L90.13,250.63L88.33,248.83Z" fill="#0000ff" stroke="#0000ff" stroke-width="0.3"/><path d="M96.92,251.05L98.72,252.85L96.92,254.65L95.12,252.85Z" fill="#0000ff" stroke="#0000ff" stroke-width="0.3"/><path d="M103.71,255.29L105.51,257.09L103.71,258.89L101.91,257.09Z" fill="#0000ff" stroke="#0000ff" stroke-width="0.3"/><path d="M110.5,259.51L112.3,261.31L110.5,263.11L108.7,261.31Z" fill="#0000ff" stroke="#0000ff" stroke-width="0.3"/><path d="M117.29,264.1L119.09,265.9L117.29,267.7L115.49,265.9Z" fill="#0000ff" stroke="#0000ff" stroke-width="0.3"/><path d="M124.08,268.9L125.88,270.7L124.08,272.5L122.28,270.7Z" fill="#0000ff" stroke="#0000ff" stroke-width="0.3"/><path d="M130.87,273.69L132.67,275.49L130.87,277.29L129.07,275.49Z" fill="#0000ff" stroke="#0000ff" stroke-width="0.3"/><path d="M137.66,278.55L139.46,280.35L137.66,282.15L135.86,280.35Z" fill="#0000ff" stroke="#0000ff" stroke-width="0.3"/><path d="M144.45,283.58L146.25,285.38L144.45,287.18L142.65,285.38Z" fill="#0000ff" stroke="#0000ff" stroke-width="0.3"/><path d="M151.24,288.46L153.04,290.26L151.24,292.06L149.44,290.26Z" fill="#0000ff" stroke="#0000ff" stroke-width="0.3"/><path d="M158.03,293.37L159.83,295.17L158.03,296.97L156.23,295.17Z" fill="#0000ff" stroke="#0000ff" stroke-width="0.3"/><path d="M164.82,297.78L166.62,299.58L164.82,301.38L163.02,299.58Z" fill="#0000ff" stroke="#0000ff" stroke-width="0.3"/><path d="M171.61,301.6L173.41,303.4L171.61,305.2L169.81,303.4Z" fill="#0000ff" stroke="#0000ff" stroke-width="0.3"/><path d="M178.4,304.97L180.2,306.77L178.4,308.57L176.6,306.77Z" fill="#0000ff" stroke="#0000ff" stroke-width="0.3"/><path d="M185.19,308.19L186.99,309.99L185.19,311.79L183.39,309.99Z" fill="#0000ff" stroke="#0000ff" stroke-width="0.3"/><path d="M191.98,311.48L193.78,313.28L191.98,315.08L190.18,313.28Z" fill="#0000ff" stroke="#0000ff" stroke-width="0.3"/><path d="M198.77,314.77L200.57,316.57L198.77,318.37L196.97,316.57Z" fill="#0000ff" stroke="#0000ff" stroke-width="0.3"/><path d="M205.56,317.96L207.36,319.76L205.56,321.56L203.76,319.76Z" fill="#0000ff" stroke="#0000ff" stroke-width="0.3"/><path d="M212.35,321.03L214.15,322.83L212.35,324.63L210.55,322.83Z" fill="#0000ff" stroke="#0000ff" stroke-width="0.3"/><path d="M219.14,324.07L220.94,325.87L219.14,327.67L217.34,325.87Z" fill="#0000ff" stroke="#0000ff" stroke-width="0.3"/><path d="M225.93,327.2L227.73,329L225.93,330.8L224.13,329Z" fill="#0000ff" stroke="#0000ff" stroke-width="0.3"/><path d="M232.72,330.36L234.52,332.16L232.72,333.96L230.92,332.16Z" fill="#0000ff" stroke="#0000ff" stroke-width="0.3"/><path d="M239.51,333.48L241.31,335.28L239.51,337.08L237.71,335.28Z" fill="#0000ff" stroke="#0000ff" stroke-width="0.3"/><path d="M246.3,336.6L248.1,338.4L246.3,340.2L244.5,338.4Z" fill="#0000ff" stroke="#0000ff" stroke-width="0.3"/><path d="M253.09,339.56L254.89,341.36L253.09,343.16L251.29,341.36Z" fill="#0000ff" stroke="#0000ff" stroke-width="0.3"/><path d="M259.88,342.17L261.68,343.97L259.88,345.77L258.08,343.97Z" fill="#0000ff" stroke="#0000ff" stroke-width="0.3"/><path d="M266.67,344.63L268.47,346.43L266.67,348.23L264.87,346.43Z" fill="#0000ff" stroke="#0000ff" stroke-width="0.3"/><path d="M273.46,347.23L275.26,349.03L273.46,350.83L271.66,349.03Z" fill="#0000ff" stroke="#0000ff" stroke-width="0.3"/><path d="M280.25,349.99L282.05,351.79L280.25,353.59L278.45,351.79Z" fill="#0000ff" stroke="#0000ff" stroke-width="0.3"/>
<path d="M42.6,386.3 L43.79,384.25 L44.99,382.3 L46.18,380.38 L47.38,378.49 L48.57,376.63 L49.77,374.78 L50.96,372.95 L52.15,371.14 L53.35,369.35 L54.54,367.57 L55.74,365.8 L56.93,364.04 L58.12,362.29 L59.32,360.55 L60.51,358.82 L61.71,357.09 L62.9,355.38 L64.1,353.67 L65.29,351.98 L66.48,350.28 L67.68,348.6 L68.87,346.92 L70.07,345.25 L71.26,343.59 L72.46,341.94 L73.65,340.31 L74.84,338.68 L76.04,337.06 L77.23,335.45 L78.43,333.85 L79.62,332.26 L80.82,330.67 L82.01,329.1 L83.2,327.54 L84.4,325.99 L85.59,324.45 L86.79,322.93 L87.98,321.41 L89.17,319.91 L90.37,318.42 L91.56,316.93 L92.76,315.46 L93.95,314.01 L95.15,312.56 L96.34,311.13 L97.53,309.71 L98.73,308.3 L99.92,306.91 L101.12,305.54 L102.31,304.18 L103.51,302.84 L104.7,301.52 L105.89,300.21 L107.09,298.91 L108.28,297.62 L109.48,296.34 L110.67,295.07 L111.86,293.81 L113.06,292.55 L114.25,291.3 L115.45,290.06 L116.64,288.82 L117.84,287.6 L119.03,286.38 L120.22,285.17 L121.42,283.98 L122.61,282.79 L123.81,281.62 L125,280.46 L126.2,279.31 L127.39,278.17 L128.58,277.04 L129.78,275.91 L130.97,274.8 L132.17,273.7 L133.36,272.62 L134.56,271.54 L135.75,270.49 L136.94,269.45 L138.14,268.43 L139.33,267.44 L140.53,266.46 L141.72,265.5 L142.91,264.57 L144.11,263.67 L145.3,262.81 L146.5,261.99 L147.69,261.21 L148.89,260.47 L150.08,259.75 L151.27,259.06 L152.47,258.39 L153.66,257.74 L154.86,257.1 L156.05,256.46 L157.25,255.83 L158.44,255.19 L159.63,254.55 L160.83,253.89 L162.02,253.23 L163.22,252.58 L164.41,251.94 L165.6,251.3 L166.8,250.67 L167.99,250.05 L169.19,249.43 L170.38,248.81 L171.58,248.2 L172.77,247.6 L173.96,247 L175.16,246.41 L176.35,245.82 L177.55,245.24 L178.74,244.66 L179.94,244.09 L181.13,243.49 L182.32,242.89 L183.52,242.3 L184.71,241.73 L185.91,241.19 L187.1,240.69 L188.29,240.24 L189.49,239.82 L190.68,239.44 L191.88,239.08 L193.07,238.76 L194.27,238.45 L195.46,238.17 L196.65,237.92 L197.85,237.67 L199.04,237.45 L200.24,237.23 L201.43,237.02 L202.63,236.82 L203.82,236.63 L205.01,236.44 L206.21,236.26 L207.4,236.1 L208.6,235.95 L209.79,235.81 L210.99,235.68 L212.18,235.58 L213.37,235.48 L214.57,235.41 L215.76,235.35 L216.96,235.31 L218.15,235.28 L219.34,235.28 L220.54,235.29 L221.73,235.32 L222.93,235.38 L224.12,235.45 L225.32,235.54 L226.51,235.65 L227.7,235.78 L228.9,235.92 L230.09,236.08 L231.29,236.26 L232.48,236.45 L233.68,236.66 L234.87,236.88 L236.06,237.12 L237.26,237.37 L238.45,237.64 L239.65,237.94 L240.84,238.26 L242.03,238.6 L243.23,238.96 L244.42,239.33 L245.62,239.71 L246.81,240.11 L248.01,240.51 L249.2,240.91 L250.39,241.31 L251.59,241.71 L252.78,242.1 L253.98,242.49 L255.17,242.84 L256.37,243.17 L257.56,243.49 L258.75,243.79 L259.95,244.08 L261.14,244.38 L262.34,244.7 L263.53,245.03 L264.73,245.4 L265.92,245.8 L267.11,246.26 L268.31,246.77 L269.5,247.35 L270.7,248 L271.89,248.75 L273.08,249.58 L274.28,250.5 L275.47,251.5 L276.67,252.57 L277.86,253.71 L279.06,254.9 L280.25,256.14" fill="none" stroke="#ff0000" stroke-width="1.1" stroke-linejoin="round" />
<path d="M42.6,201.12 L43.79,211.1 L44.99,215.63 L46.18,218.12 L47.38,219.88 L48.57,221.28 L49.77,222.55 L50.96,223.7 L52.15,224.73 L53.35,225.67 L54.54,226.54 L55.74,227.34 L56.93,228.09 L58.12,228.79 L59.32,229.43 L60.51,230.04 L61.71,230.63 L62.9,231.18 L64.1,231.72 L65.29,232.23 L66.48,232.71 L67.68,233.18 L68.87,233.64 L70.07,234.08 L71.26,234.53 L72.46,234.98 L73.65,235.43 L74.84,235.88 L76.04,236.32 L77.23,236.75 L78.43,237.19 L79.62,237.62 L80.82,238.05 L82.01,238.48 L83.2,238.91 L84.4,239.35 L85.59,239.78 L86.79,240.23 L87.98,240.67 L89.17,241.12 L90.37,241.56 L91.56,242.01 L92.76,242.46 L93.95,242.91 L95.15,243.37 L96.34,243.83 L97.53,244.29 L98.73,244.76 L99.92,245.24 L101.12,245.73 L102.31,246.23 L103.51,246.74 L104.7,247.25 L105.89,247.76 L107.09,248.28 L108.28,248.79 L109.48,249.3 L110.67,249.8 L111.86,250.3 L113.06,250.79 L114.25,251.27 L115.45,251.74 L116.64,252.22 L117.84,252.68 L119.03,253.15 L120.22,253.61 L121.42,254.08 L122.61,254.54 L123.81,255.01 L125,255.47 L126.2,255.94 L127.39,256.41 L128.58,256.87 L129.78,257.34 L130.97,257.8 L132.17,258.26 L133.36,258.73 L134.56,259.2 L135.75,259.67 L136.94,260.15 L138.14,260.65 L139.33,261.15 L140.53,261.65 L141.72,262.17 L142.91,262.7 L144.11,263.26 L145.3,263.84 L146.5,264.44 L147.69,265.07 L148.89,265.72 L150.08,266.38 L151.27,267.05 L152.47,267.73 L153.66,268.4 L154.86,269.08 L156.05,269.74 L157.25,270.39 L158.44,271.03 L159.63,271.64 L160.83,272.23 L162.02,272.81 L163.22,273.39 L164.41,273.96 L165.6,274.52 L166.8,275.08 L167.99,275.63 L169.19,276.17 L170.38,276.71 L171.58,277.25 L172.77,277.77 L173.96,278.3 L175.16,278.81 L176.35,279.33 L177.55,279.84 L178.74,280.34 L179.94,280.83 L181.13,281.31 L182.32,281.77 L183.52,282.22 L184.71,282.69 L185.91,283.17 L187.1,283.67 L188.29,284.2 L189.49,284.74 L190.68,285.29 L191.88,285.86 L193.07,286.43 L194.27,287.02 L195.46,287.6 L196.65,288.2 L197.85,288.79 L199.04,289.39 L200.24,289.99 L201.43,290.58 L202.63,291.16 L203.82,291.74 L205.01,292.32 L206.21,292.9 L207.4,293.47 L208.6,294.05 L209.79,294.62 L210.99,295.2 L212.18,295.78 L213.37,296.35 L214.57,296.93 L215.76,297.51 L216.96,298.1 L218.15,298.68 L219.34,299.27 L220.54,299.86 L221.73,300.46 L222.93,301.06 L224.12,301.66 L225.32,302.26 L226.51,302.87 L227.7,303.48 L228.9,304.09 L230.09,304.7 L231.29,305.31 L232.48,305.92 L233.68,306.54 L234.87,307.15 L236.06,307.76 L237.26,308.38 L238.45,308.99 L239.65,309.62 L240.84,310.24 L242.03,310.87 L243.23,311.5 L244.42,312.13 L245.62,312.76 L246.81,313.39 L248.01,314.01 L249.2,314.62 L250.39,315.23 L251.59,315.83 L252.78,316.43 L253.98,317 L255.17,317.57 L256.37,318.11 L257.56,318.63 L258.75,319.15 L259.95,319.66 L261.14,320.16 L262.34,320.67 L263.53,321.17 L264.73,321.69 L265.92,322.22 L267.11,322.77 L268.31,323.34 L269.5,323.93 L270.7,324.55 L271.89,325.2 L273.08,325.89 L274.28,326.6 L275.47,327.34 L276.67,328.11 L277.86,328.9 L279.06,329.7 L280.25,330.52" fill="none" stroke="#ff0000" stroke-width="1.4" stroke-linejoin="round" />
<circle cx="42.6" cy="386.3" r="1.65" fill="#fff" stroke="#ff0000" stroke-width="0.65"/><circle cx="43.96" cy="383.97" r="1.65" fill="#fff" stroke="#ff0000" stroke-width="0.65"/><circle cx="46" cy="380.68" r="1.65" fill="#fff" stroke="#ff0000" stroke-width="0.65"/><circle cx="49.39" cy="375.36" r="1.65" fill="#fff" stroke="#ff0000" stroke-width="0.65"/><circle cx="56.18" cy="365.14" r="1.65" fill="#fff" stroke="#ff0000" stroke-width="0.65"/><circle cx="62.97" cy="355.28" r="1.65" fill="#fff" stroke="#ff0000" stroke-width="0.65"/><circle cx="69.76" cy="345.68" r="1.65" fill="#fff" stroke="#ff0000" stroke-width="0.65"/><circle cx="76.55" cy="336.37" r="1.65" fill="#fff" stroke="#ff0000" stroke-width="0.65"/><circle cx="83.34" cy="327.36" r="1.65" fill="#fff" stroke="#ff0000" stroke-width="0.65"/><circle cx="90.13" cy="318.71" r="1.65" fill="#fff" stroke="#ff0000" stroke-width="0.65"/><circle cx="96.92" cy="310.43" r="1.65" fill="#fff" stroke="#ff0000" stroke-width="0.65"/><circle cx="103.71" cy="302.61" r="1.65" fill="#fff" stroke="#ff0000" stroke-width="0.65"/><circle cx="110.5" cy="295.26" r="1.65" fill="#fff" stroke="#ff0000" stroke-width="0.65"/><circle cx="117.29" cy="288.16" r="1.65" fill="#fff" stroke="#ff0000" stroke-width="0.65"/><circle cx="124.08" cy="281.35" r="1.65" fill="#fff" stroke="#ff0000" stroke-width="0.65"/><circle cx="130.87" cy="274.9" r="1.65" fill="#fff" stroke="#ff0000" stroke-width="0.65"/><circle cx="137.66" cy="268.84" r="1.65" fill="#fff" stroke="#ff0000" stroke-width="0.65"/><circle cx="144.45" cy="263.42" r="1.65" fill="#fff" stroke="#ff0000" stroke-width="0.65"/><circle cx="151.24" cy="259.08" r="1.65" fill="#fff" stroke="#ff0000" stroke-width="0.65"/><circle cx="158.03" cy="255.41" r="1.65" fill="#fff" stroke="#ff0000" stroke-width="0.65"/><circle cx="164.82" cy="251.72" r="1.65" fill="#fff" stroke="#ff0000" stroke-width="0.65"/><circle cx="171.61" cy="248.18" r="1.65" fill="#fff" stroke="#ff0000" stroke-width="0.65"/><circle cx="178.4" cy="244.83" r="1.65" fill="#fff" stroke="#ff0000" stroke-width="0.65"/><circle cx="185.19" cy="241.51" r="1.65" fill="#fff" stroke="#ff0000" stroke-width="0.65"/><circle cx="191.98" cy="239.05" r="1.65" fill="#fff" stroke="#ff0000" stroke-width="0.65"/><circle cx="198.77" cy="237.5" r="1.65" fill="#fff" stroke="#ff0000" stroke-width="0.65"/><circle cx="205.56" cy="236.35" r="1.65" fill="#fff" stroke="#ff0000" stroke-width="0.65"/><circle cx="212.35" cy="235.56" r="1.65" fill="#fff" stroke="#ff0000" stroke-width="0.65"/><circle cx="219.14" cy="235.28" r="1.65" fill="#fff" stroke="#ff0000" stroke-width="0.65"/><circle cx="225.93" cy="235.6" r="1.65" fill="#fff" stroke="#ff0000" stroke-width="0.65"/><circle cx="232.72" cy="236.49" r="1.65" fill="#fff" stroke="#ff0000" stroke-width="0.65"/><circle cx="239.51" cy="237.91" r="1.65" fill="#fff" stroke="#ff0000" stroke-width="0.65"/><circle cx="246.3" cy="239.94" r="1.65" fill="#fff" stroke="#ff0000" stroke-width="0.65"/><circle cx="253.09" cy="242.2" r="1.65" fill="#fff" stroke="#ff0000" stroke-width="0.65"/><circle cx="259.88" cy="244.06" r="1.65" fill="#fff" stroke="#ff0000" stroke-width="0.65"/><circle cx="266.67" cy="246.08" r="1.65" fill="#fff" stroke="#ff0000" stroke-width="0.65"/><circle cx="273.46" cy="249.86" r="1.65" fill="#fff" stroke="#ff0000" stroke-width="0.65"/><circle cx="280.25" cy="256.14" r="1.65" fill="#fff" stroke="#ff0000" stroke-width="0.65"/><path d="M49.39,220.66L50.79,223.18L47.99,223.18Z" fill="#ff0000" stroke="#ff0000" stroke-width="0.3"/><path d="M56.18,226.12L57.58,228.64L54.78,228.64Z" fill="#ff0000" stroke="#ff0000" stroke-width="0.3"/><path d="M62.97,229.7L64.37,232.22L61.57,232.22Z" fill="#ff0000" stroke="#ff0000" stroke-width="0.3"/><path d="M69.76,232.46L71.16,234.98L68.36,234.98Z" fill="#ff0000" stroke="#ff0000" stroke-width="0.3"/><path d="M76.55,234.99L77.95,237.51L75.15,237.51Z" fill="#ff0000" stroke="#ff0000" stroke-width="0.3"/><path d="M83.34,237.45L84.74,239.97L81.94,239.97Z" fill="#ff0000" stroke="#ff0000" stroke-width="0.3"/><path d="M90.13,239.96L91.53,242.48L88.73,242.48Z" fill="#ff0000" stroke="#ff0000" stroke-width="0.3"/><path d="M96.92,242.54L98.32,245.06L95.52,245.06Z" fill="#ff0000" stroke="#ff0000" stroke-width="0.3"/><path d="M103.71,245.31L105.11,247.83L102.31,247.83Z" fill="#ff0000" stroke="#ff0000" stroke-width="0.3"/><path d="M110.5,248.22L111.9,250.74L109.1,250.74Z" fill="#ff0000" stroke="#ff0000" stroke-width="0.3"/><path d="M117.29,250.96L118.69,253.48L115.89,253.48Z" fill="#ff0000" stroke="#ff0000" stroke-width="0.3"/><path d="M124.08,253.6L125.48,256.12L122.68,256.12Z" fill="#ff0000" stroke="#ff0000" stroke-width="0.3"/><path d="M130.87,256.25L132.27,258.77L129.47,258.77Z" fill="#ff0000" stroke="#ff0000" stroke-width="0.3"/><path d="M137.66,258.94L139.06,261.46L136.26,261.46Z" fill="#ff0000" stroke="#ff0000" stroke-width="0.3"/><path d="M144.45,261.91L145.85,264.43L143.05,264.43Z" fill="#ff0000" stroke="#ff0000" stroke-width="0.3"/><path d="M151.24,265.52L152.64,268.04L149.84,268.04Z" fill="#ff0000" stroke="#ff0000" stroke-width="0.3"/><path d="M158.03,269.3L159.43,271.82L156.63,271.82Z" fill="#ff0000" stroke="#ff0000" stroke-width="0.3"/><path d="M164.82,272.64L166.22,275.16L163.42,275.16Z" fill="#ff0000" stroke="#ff0000" stroke-width="0.3"/><path d="M171.61,275.75L173.01,278.27L170.21,278.27Z" fill="#ff0000" stroke="#ff0000" stroke-width="0.3"/><path d="M178.4,278.68L179.8,281.2L177,281.2Z" fill="#ff0000" stroke="#ff0000" stroke-width="0.3"/><path d="M185.19,281.36L186.59,283.88L183.79,283.88Z" fill="#ff0000" stroke="#ff0000" stroke-width="0.3"/><path d="M191.98,284.39L193.38,286.91L190.58,286.91Z" fill="#ff0000" stroke="#ff0000" stroke-width="0.3"/><path d="M198.77,287.74L200.17,290.26L197.37,290.26Z" fill="#ff0000" stroke="#ff0000" stroke-width="0.3"/><path d="M205.56,291.07L206.96,293.59L204.16,293.59Z" fill="#ff0000" stroke="#ff0000" stroke-width="0.3"/><path d="M212.35,294.35L213.75,296.87L210.95,296.87Z" fill="#ff0000" stroke="#ff0000" stroke-width="0.3"/><path d="M219.14,297.66L220.54,300.18L217.74,300.18Z" fill="#ff0000" stroke="#ff0000" stroke-width="0.3"/><path d="M225.93,301.06L227.33,303.58L224.53,303.58Z" fill="#ff0000" stroke="#ff0000" stroke-width="0.3"/><path d="M232.72,304.54L234.12,307.06L231.32,307.06Z" fill="#ff0000" stroke="#ff0000" stroke-width="0.3"/><path d="M239.51,308.03L240.91,310.55L238.11,310.55Z" fill="#ff0000" stroke="#ff0000" stroke-width="0.3"/><path d="M246.3,311.61L247.7,314.13L244.9,314.13Z" fill="#ff0000" stroke="#ff0000" stroke-width="0.3"/><path d="M253.09,315.06L254.49,317.58L251.69,317.58Z" fill="#ff0000" stroke="#ff0000" stroke-width="0.3"/><path d="M259.88,318.12L261.28,320.64L258.48,320.64Z" fill="#ff0000" stroke="#ff0000" stroke-width="0.3"/><path d="M266.67,321.05L268.07,323.57L265.27,323.57Z" fill="#ff0000" stroke="#ff0000" stroke-width="0.3"/><path d="M273.46,324.6L274.86,327.12L272.06,327.12Z" fill="#ff0000" stroke="#ff0000" stroke-width="0.3"/><path d="M280.25,329L281.65,331.52L278.85,331.52Z" fill="#ff0000" stroke="#ff0000" stroke-width="0.3"/>
<path d="M42.6,386.3 L43.79,384.25 L44.99,382.29 L46.18,380.35 L47.38,378.43 L48.57,376.53 L49.77,374.64 L50.96,372.78 L52.15,370.93 L53.35,369.1 L54.54,367.28 L55.74,365.49 L56.93,363.72 L58.12,361.98 L59.32,360.26 L60.51,358.56 L61.71,356.87 L62.9,355.19 L64.1,353.51 L65.29,351.85 L66.48,350.19 L67.68,348.55 L68.87,346.92 L70.07,345.29 L71.26,343.68 L72.46,342.08 L73.65,340.5 L74.84,338.93 L76.04,337.36 L77.23,335.81 L78.43,334.27 L79.62,332.74 L80.82,331.21 L82.01,329.7 L83.2,328.2 L84.4,326.72 L85.59,325.24 L86.79,323.78 L87.98,322.32 L89.17,320.88 L90.37,319.45 L91.56,318.03 L92.76,316.61 L93.95,315.21 L95.15,313.82 L96.34,312.44 L97.53,311.08 L98.73,309.72 L99.92,308.37 L101.12,307.04 L102.31,305.71 L103.51,304.4 L104.7,303.1 L105.89,301.8 L107.09,300.52 L108.28,299.25 L109.48,297.99 L110.67,296.74 L111.86,295.51 L113.06,294.28 L114.25,293.07 L115.45,291.87 L116.64,290.69 L117.84,289.51 L119.03,288.35 L120.22,287.19 L121.42,286.05 L122.61,284.9 L123.81,283.77 L125,282.63 L126.2,281.5 L127.39,280.37 L128.58,279.24 L129.78,278.11 L130.97,276.99 L132.17,275.87 L133.36,274.76 L134.56,273.66 L135.75,272.57 L136.94,271.5 L138.14,270.45 L139.33,269.41 L140.53,268.39 L141.72,267.38 L142.91,266.39 L144.11,265.42 L145.3,264.47 L146.5,263.55 L147.69,262.65 L148.89,261.78 L150.08,260.92 L151.27,260.08 L152.47,259.25 L153.66,258.43 L154.86,257.62 L156.05,256.82 L157.25,256.01 L158.44,255.2 L159.63,254.38 L160.83,253.56 L162.02,252.73 L163.22,251.89 L164.41,251.06 L165.6,250.23 L166.8,249.4 L167.99,248.58 L169.19,247.77 L170.38,246.98 L171.58,246.19 L172.77,245.4 L173.96,244.62 L175.16,243.84 L176.35,243.08 L177.55,242.34 L178.74,241.62 L179.94,240.92 L181.13,240.24 L182.32,239.57 L183.52,238.91 L184.71,238.28 L185.91,237.65 L187.1,237.04 L188.29,236.45 L189.49,235.87 L190.68,235.3 L191.88,234.75 L193.07,234.21 L194.27,233.68 L195.46,233.17 L196.65,232.67 L197.85,232.18 L199.04,231.7 L200.24,231.24 L201.43,230.78 L202.63,230.34 L203.82,229.9 L205.01,229.49 L206.21,229.1 L207.4,228.73 L208.6,228.38 L209.79,228.04 L210.99,227.71 L212.18,227.38 L213.37,227.06 L214.57,226.73 L215.76,226.4 L216.96,226.06 L218.15,225.71 L219.34,225.35 L220.54,224.98 L221.73,224.61 L222.93,224.24 L224.12,223.87 L225.32,223.5 L226.51,223.13 L227.7,222.77 L228.9,222.43 L230.09,222.09 L231.29,221.77 L232.48,221.46 L233.68,221.18 L234.87,220.91 L236.06,220.67 L237.26,220.46 L238.45,220.28 L239.65,220.11 L240.84,219.98 L242.03,219.86 L243.23,219.76 L244.42,219.68 L245.62,219.62 L246.81,219.57 L248.01,219.53 L249.2,219.51 L250.39,219.49 L251.59,219.49 L252.78,219.49 L253.98,219.49 L255.17,219.49 L256.37,219.5 L257.56,219.52 L258.75,219.55 L259.95,219.59 L261.14,219.64 L262.34,219.7 L263.53,219.77 L264.73,219.85 L265.92,219.93 L267.11,220.03 L268.31,220.13 L269.5,220.25 L270.7,220.37 L271.89,220.51 L273.08,220.65 L274.28,220.8 L275.47,220.96 L276.67,221.13 L277.86,221.31 L279.06,221.5 L280.25,221.69" fill="none" stroke="#808080" stroke-width="1.1" stroke-linejoin="round" />
<path d="M42.6,204.57 L43.79,211.25 L44.99,215.18 L46.18,217.19 L47.38,218.53 L48.57,219.59 L49.77,220.62 L50.96,221.58 L52.15,222.47 L53.35,223.3 L54.54,224.12 L55.74,224.95 L56.93,225.83 L58.12,226.74 L59.32,227.66 L60.51,228.55 L61.71,229.41 L62.9,230.21 L64.1,230.95 L65.29,231.66 L66.48,232.34 L67.68,232.99 L68.87,233.63 L70.07,234.25 L71.26,234.86 L72.46,235.46 L73.65,236.06 L74.84,236.66 L76.04,237.24 L77.23,237.81 L78.43,238.38 L79.62,238.94 L80.82,239.49 L82.01,240.03 L83.2,240.57 L84.4,241.11 L85.59,241.65 L86.79,242.19 L87.98,242.72 L89.17,243.24 L90.37,243.76 L91.56,244.28 L92.76,244.8 L93.95,245.31 L95.15,245.82 L96.34,246.32 L97.53,246.83 L98.73,247.34 L99.92,247.84 L101.12,248.34 L102.31,248.84 L103.51,249.34 L104.7,249.84 L105.89,250.33 L107.09,250.83 L108.28,251.32 L109.48,251.81 L110.67,252.3 L111.86,252.79 L113.06,253.28 L114.25,253.78 L115.45,254.28 L116.64,254.77 L117.84,255.27 L119.03,255.77 L120.22,256.26 L121.42,256.75 L122.61,257.23 L123.81,257.7 L125,258.17 L126.2,258.62 L127.39,259.06 L128.58,259.48 L129.78,259.9 L130.97,260.32 L132.17,260.73 L133.36,261.13 L134.56,261.54 L135.75,261.95 L136.94,262.37 L138.14,262.79 L139.33,263.23 L140.53,263.66 L141.72,264.1 L142.91,264.55 L144.11,265.01 L145.3,265.48 L146.5,265.97 L147.69,266.47 L148.89,266.97 L150.08,267.49 L151.27,268 L152.47,268.52 L153.66,269.04 L154.86,269.55 L156.05,270.06 L157.25,270.55 L158.44,271.03 L159.63,271.5 L160.83,271.95 L162.02,272.38 L163.22,272.81 L164.41,273.22 L165.6,273.63 L166.8,274.04 L167.99,274.44 L169.19,274.84 L170.38,275.25 L171.58,275.65 L172.77,276.05 L173.96,276.45 L175.16,276.84 L176.35,277.24 L177.55,277.65 L178.74,278.06 L179.94,278.48 L181.13,278.91 L182.32,279.34 L183.52,279.78 L184.71,280.21 L185.91,280.65 L187.1,281.1 L188.29,281.54 L189.49,281.99 L190.68,282.44 L191.88,282.9 L193.07,283.35 L194.27,283.81 L195.46,284.27 L196.65,284.73 L197.85,285.19 L199.04,285.65 L200.24,286.11 L201.43,286.57 L202.63,287.04 L203.82,287.5 L205.01,287.97 L206.21,288.44 L207.4,288.92 L208.6,289.41 L209.79,289.89 L210.99,290.37 L212.18,290.85 L213.37,291.33 L214.57,291.8 L215.76,292.25 L216.96,292.7 L218.15,293.13 L219.34,293.55 L220.54,293.96 L221.73,294.37 L222.93,294.77 L224.12,295.16 L225.32,295.55 L226.51,295.94 L227.7,296.32 L228.9,296.71 L230.09,297.1 L231.29,297.49 L232.48,297.88 L233.68,298.28 L234.87,298.69 L236.06,299.1 L237.26,299.53 L238.45,299.96 L239.65,300.4 L240.84,300.85 L242.03,301.3 L243.23,301.76 L244.42,302.22 L245.62,302.68 L246.81,303.14 L248.01,303.61 L249.2,304.08 L250.39,304.54 L251.59,305 L252.78,305.47 L253.98,305.92 L255.17,306.38 L256.37,306.83 L257.56,307.28 L258.75,307.73 L259.95,308.18 L261.14,308.63 L262.34,309.08 L263.53,309.53 L264.73,309.98 L265.92,310.42 L267.11,310.87 L268.31,311.32 L269.5,311.76 L270.7,312.21 L271.89,312.65 L273.08,313.1 L274.28,313.54 L275.47,313.99 L276.67,314.43 L277.86,314.87 L279.06,315.31 L280.25,315.75" fill="none" stroke="#808080" stroke-width="1.4" stroke-linejoin="round" />
<circle cx="42.6" cy="386.3" r="1.65" fill="#fff" stroke="#808080" stroke-width="0.65"/><circle cx="43.96" cy="383.97" r="1.65" fill="#fff" stroke="#808080" stroke-width="0.65"/><circle cx="46" cy="380.65" r="1.65" fill="#fff" stroke="#808080" stroke-width="0.65"/><circle cx="49.39" cy="375.23" r="1.65" fill="#fff" stroke="#808080" stroke-width="0.65"/><circle cx="56.18" cy="364.83" r="1.65" fill="#fff" stroke="#808080" stroke-width="0.65"/><circle cx="62.97" cy="355.09" r="1.65" fill="#fff" stroke="#808080" stroke-width="0.65"/><circle cx="69.76" cy="345.71" r="1.65" fill="#fff" stroke="#808080" stroke-width="0.65"/><circle cx="76.55" cy="336.7" r="1.65" fill="#fff" stroke="#808080" stroke-width="0.65"/><circle cx="83.34" cy="328.03" r="1.65" fill="#fff" stroke="#808080" stroke-width="0.65"/><circle cx="90.13" cy="319.73" r="1.65" fill="#fff" stroke="#808080" stroke-width="0.65"/><circle cx="96.92" cy="311.78" r="1.65" fill="#fff" stroke="#808080" stroke-width="0.65"/><circle cx="103.71" cy="304.18" r="1.65" fill="#fff" stroke="#808080" stroke-width="0.65"/><circle cx="110.5" cy="296.92" r="1.65" fill="#fff" stroke="#808080" stroke-width="0.65"/><circle cx="117.29" cy="290.05" r="1.65" fill="#fff" stroke="#808080" stroke-width="0.65"/><circle cx="124.08" cy="283.51" r="1.65" fill="#fff" stroke="#808080" stroke-width="0.65"/><circle cx="130.87" cy="277.08" r="1.65" fill="#fff" stroke="#808080" stroke-width="0.65"/><circle cx="137.66" cy="270.87" r="1.65" fill="#fff" stroke="#808080" stroke-width="0.65"/><circle cx="144.45" cy="265.15" r="1.65" fill="#fff" stroke="#808080" stroke-width="0.65"/><circle cx="151.24" cy="260.1" r="1.65" fill="#fff" stroke="#808080" stroke-width="0.65"/><circle cx="158.03" cy="255.48" r="1.65" fill="#fff" stroke="#808080" stroke-width="0.65"/><circle cx="164.82" cy="250.77" r="1.65" fill="#fff" stroke="#808080" stroke-width="0.65"/><circle cx="171.61" cy="246.16" r="1.65" fill="#fff" stroke="#808080" stroke-width="0.65"/><circle cx="178.4" cy="241.82" r="1.65" fill="#fff" stroke="#808080" stroke-width="0.65"/><circle cx="185.19" cy="238.02" r="1.65" fill="#fff" stroke="#808080" stroke-width="0.65"/><circle cx="191.98" cy="234.7" r="1.65" fill="#fff" stroke="#808080" stroke-width="0.65"/><circle cx="198.77" cy="231.81" r="1.65" fill="#fff" stroke="#808080" stroke-width="0.65"/><circle cx="205.56" cy="229.31" r="1.65" fill="#fff" stroke="#808080" stroke-width="0.65"/><circle cx="212.35" cy="227.34" r="1.65" fill="#fff" stroke="#808080" stroke-width="0.65"/><circle cx="219.14" cy="225.41" r="1.65" fill="#fff" stroke="#808080" stroke-width="0.65"/><circle cx="225.93" cy="223.31" r="1.65" fill="#fff" stroke="#808080" stroke-width="0.65"/><circle cx="232.72" cy="221.4" r="1.65" fill="#fff" stroke="#808080" stroke-width="0.65"/><circle cx="239.51" cy="220.13" r="1.65" fill="#fff" stroke="#808080" stroke-width="0.65"/><circle cx="246.3" cy="219.59" r="1.65" fill="#fff" stroke="#808080" stroke-width="0.65"/><circle cx="253.09" cy="219.49" r="1.65" fill="#fff" stroke="#808080" stroke-width="0.65"/><circle cx="259.88" cy="219.59" r="1.65" fill="#fff" stroke="#808080" stroke-width="0.65"/><circle cx="266.67" cy="219.99" r="1.65" fill="#fff" stroke="#808080" stroke-width="0.65"/><circle cx="273.46" cy="220.69" r="1.65" fill="#fff" stroke="#808080" stroke-width="0.65"/><circle cx="280.25" cy="221.69" r="1.65" fill="#fff" stroke="#808080" stroke-width="0.65"/><circle cx="49.39" cy="220.29" r="1.4" fill="#808080" stroke="#808080" stroke-width="0.3"/><circle cx="56.18" cy="225.27" r="1.4" fill="#808080" stroke="#808080" stroke-width="0.3"/><circle cx="62.97" cy="230.26" r="1.4" fill="#808080" stroke="#808080" stroke-width="0.3"/><circle cx="69.76" cy="234.09" r="1.4" fill="#808080" stroke="#808080" stroke-width="0.3"/><circle cx="76.55" cy="237.49" r="1.4" fill="#808080" stroke="#808080" stroke-width="0.3"/><circle cx="83.34" cy="240.64" r="1.4" fill="#808080" stroke="#808080" stroke-width="0.3"/><circle cx="90.13" cy="243.66" r="1.4" fill="#808080" stroke="#808080" stroke-width="0.3"/><circle cx="96.92" cy="246.57" r="1.4" fill="#808080" stroke="#808080" stroke-width="0.3"/><circle cx="103.71" cy="249.43" r="1.4" fill="#808080" stroke="#808080" stroke-width="0.3"/><circle cx="110.5" cy="252.23" r="1.4" fill="#808080" stroke="#808080" stroke-width="0.3"/><circle cx="117.29" cy="255.05" r="1.4" fill="#808080" stroke="#808080" stroke-width="0.3"/><circle cx="124.08" cy="257.81" r="1.4" fill="#808080" stroke="#808080" stroke-width="0.3"/><circle cx="130.87" cy="260.28" r="1.4" fill="#808080" stroke="#808080" stroke-width="0.3"/><circle cx="137.66" cy="262.62" r="1.4" fill="#808080" stroke="#808080" stroke-width="0.3"/><circle cx="144.45" cy="265.15" r="1.4" fill="#808080" stroke="#808080" stroke-width="0.3"/><circle cx="151.24" cy="267.99" r="1.4" fill="#808080" stroke="#808080" stroke-width="0.3"/><circle cx="158.03" cy="270.87" r="1.4" fill="#808080" stroke="#808080" stroke-width="0.3"/><circle cx="164.82" cy="273.36" r="1.4" fill="#808080" stroke="#808080" stroke-width="0.3"/><circle cx="171.61" cy="275.67" r="1.4" fill="#808080" stroke="#808080" stroke-width="0.3"/><circle cx="178.4" cy="277.94" r="1.4" fill="#808080" stroke="#808080" stroke-width="0.3"/><circle cx="185.19" cy="280.39" r="1.4" fill="#808080" stroke="#808080" stroke-width="0.3"/><circle cx="191.98" cy="282.94" r="1.4" fill="#808080" stroke="#808080" stroke-width="0.3"/><circle cx="198.77" cy="285.54" r="1.4" fill="#808080" stroke="#808080" stroke-width="0.3"/><circle cx="205.56" cy="288.18" r="1.4" fill="#808080" stroke="#808080" stroke-width="0.3"/><circle cx="212.35" cy="290.92" r="1.4" fill="#808080" stroke="#808080" stroke-width="0.3"/><circle cx="219.14" cy="293.48" r="1.4" fill="#808080" stroke="#808080" stroke-width="0.3"/><circle cx="225.93" cy="295.75" r="1.4" fill="#808080" stroke="#808080" stroke-width="0.3"/><circle cx="232.72" cy="297.96" r="1.4" fill="#808080" stroke="#808080" stroke-width="0.3"/><circle cx="239.51" cy="300.35" r="1.4" fill="#808080" stroke="#808080" stroke-width="0.3"/><circle cx="246.3" cy="302.94" r="1.4" fill="#808080" stroke="#808080" stroke-width="0.3"/><circle cx="253.09" cy="305.58" r="1.4" fill="#808080" stroke="#808080" stroke-width="0.3"/><circle cx="259.88" cy="308.16" r="1.4" fill="#808080" stroke="#808080" stroke-width="0.3"/><circle cx="266.67" cy="310.71" r="1.4" fill="#808080" stroke="#808080" stroke-width="0.3"/><circle cx="273.46" cy="313.24" r="1.4" fill="#808080" stroke="#808080" stroke-width="0.3"/><circle cx="280.25" cy="315.75" r="1.4" fill="#808080" stroke="#808080" stroke-width="0.3"/>
</g>
<path d="M90.2,335.9H116" stroke="#808080" stroke-width="1.5"/>
<circle cx="102.6" cy="335.9" r="1.6" fill="#808080" stroke="#808080" stroke-width="0.3"/>
<text x="120.4" y="339.7" font-size="10.75" text-anchor="start" font-weight="normal" fill="#111" stroke="#111" stroke-width="0.22" >Pt/C</text>
<path d="M90.2,349.2H116" stroke="#ff0000" stroke-width="1.5"/>
<path d="M102.6,347.58L104.1,350.28L101.1,350.28Z" fill="#ff0000" stroke="#ff0000" stroke-width="0.3"/>
<text x="120.4" y="353" font-size="10.75" text-anchor="start" font-weight="normal" fill="#111" stroke="#111" stroke-width="0.22" >TPI<tspan dx="0.9" dy="-0.6" font-size="9.46" stroke-width="0.12">@</tspan><tspan dx="0.8" dy="0.6">Z8(SiO<tspan baseline-shift="-2.8" font-size="7.4">2</tspan>)-650-C</tspan></text>
<path d="M90.2,364.6H116" stroke="#0000ff" stroke-width="1.5"/>
<path d="M102.6,362.6L104.6,364.6L102.6,366.6L100.6,364.6Z" fill="#0000ff" stroke="#0000ff" stroke-width="0.3"/>
<text x="120.4" y="368.4" font-size="10.75" text-anchor="start" font-weight="normal" fill="#111" stroke="#111" stroke-width="0.22" >TPI<tspan dx="0.9" dy="-0.6" font-size="9.46" stroke-width="0.12">@</tspan><tspan dx="0.8" dy="0.6">Z8-650-C</tspan></text>
<path d="M90.2,378.3H116" stroke="#8b0000" stroke-width="1.5"/>
<circle cx="102.6" cy="378.3" r="1.6" fill="#8b0000" stroke="#8b0000" stroke-width="0.3"/>
<text x="120.4" y="382.1" font-size="10.75" text-anchor="start" font-weight="normal" fill="#111" stroke="#111" stroke-width="0.22" >Z8/TPI-C</text>
<rect x="400.7" y="194.6" width="238.6" height="191.7" fill="none" stroke="#8a8a8a" stroke-width="1"/>
<path d="M400.7,194.6h-4M400.7,237.2h-4M400.7,279.8h-4M400.7,322.4h-4M400.7,365h-4" stroke="#8a8a8a" stroke-width="1" fill="none"/>
<path d="M400.7,215.9h-2.5M400.7,258.5h-2.5M400.7,301.1h-2.5M400.7,343.7h-2.5M400.7,386.3h-2.5" stroke="#8a8a8a" stroke-width="1" fill="none"/>
<path d="M433.2,386.3v4M497.6,386.3v4M562,386.3v4M626.4,386.3v4" stroke="#8a8a8a" stroke-width="1" fill="none"/>
<path d="M465.4,386.3v2.5M529.8,386.3v2.5M594.2,386.3v2.5" stroke="#8a8a8a" stroke-width="1" fill="none"/>
<text x="392.2" y="198.4" font-size="10.75" text-anchor="end" font-weight="normal" fill="#111" stroke="#111" stroke-width="0.22" >−0.08</text>
<text x="392.2" y="241" font-size="10.75" text-anchor="end" font-weight="normal" fill="#111" stroke="#111" stroke-width="0.22" >−0.06</text>
<text x="392.2" y="283.6" font-size="10.75" text-anchor="end" font-weight="normal" fill="#111" stroke="#111" stroke-width="0.22" >−0.04</text>
<text x="392.2" y="326.2" font-size="10.75" text-anchor="end" font-weight="normal" fill="#111" stroke="#111" stroke-width="0.22" >−0.02</text>
<text x="392.2" y="368.8" font-size="10.75" text-anchor="end" font-weight="normal" fill="#111" stroke="#111" stroke-width="0.22" >0.00</text>
<text x="433.2" y="403.3" font-size="10.75" text-anchor="middle" font-weight="normal" fill="#111" stroke="#111" stroke-width="0.22" >0.05</text>
<text x="497.6" y="403.3" font-size="10.75" text-anchor="middle" font-weight="normal" fill="#111" stroke="#111" stroke-width="0.22" >0.10</text>
<text x="562" y="403.3" font-size="10.75" text-anchor="middle" font-weight="normal" fill="#111" stroke="#111" stroke-width="0.22" >0.15</text>
<text x="626.4" y="403.3" font-size="10.75" text-anchor="middle" font-weight="normal" fill="#111" stroke="#111" stroke-width="0.22" >0.20</text>
<text x="494.6" y="421.2" font-size="10.75" text-anchor="start" font-weight="normal" fill="#111" stroke="#111" stroke-width="0.22" ><tspan font-style="italic">Z</tspan>′ (Ohm cm<tspan baseline-shift="4.2" font-size="7.4">2</tspan>)</text>
<text x="0" y="0" font-size="10.75" text-anchor="middle" font-weight="normal" fill="#111" stroke="#111" stroke-width="0.22" transform="translate(353,291.4) rotate(-90)"><tspan font-style="italic">Z</tspan>″ (Ohm cm<tspan baseline-shift="4.2" font-size="7.4">2</tspan>)</text>
<text x="342.3" y="191.4" font-size="13.2" text-anchor="start" font-weight="bold" fill="#000" stroke="#000" stroke-width="0.22" >c</text>
<path d="M435.9,365.1C436.62,363.17 438.6,357.3 440.2,353.5C441.8,349.7 443.43,346.45 445.5,342.3C447.57,338.15 449.67,333.38 452.6,328.6C455.53,323.82 459.32,318.27 463.1,313.6C466.88,308.93 471.22,304.17 475.3,300.6C479.38,297.03 483.48,294.33 487.6,292.2C491.72,290.07 496.27,288.72 500,287.8C503.73,286.88 506.6,286.63 510,286.7C513.4,286.77 517.07,287.4 520.4,288.2C523.73,289 526.58,289.93 530,291.5C533.42,293.07 537.05,294.58 540.9,297.6C544.75,300.62 549.35,304.97 553.1,309.6C556.85,314.23 560.5,320.05 563.4,325.4C566.3,330.75 568.63,336.25 570.5,341.7C572.37,347.15 573.75,354.63 574.6,358.1C575.45,361.57 575.43,361.77 575.6,362.5" fill="none" stroke="#ff0000" stroke-width="1.7"/>
<path d="M433.2,363.5C433.67,362 434.82,357.45 436,354.5C437.18,351.55 438.8,348.65 440.3,345.8C441.8,342.95 443.25,340.1 445,337.4C446.75,334.7 448.8,331.97 450.8,329.6C452.8,327.23 454.95,325.13 457,323.2C459.05,321.27 460.93,319.7 463.1,318C465.27,316.3 467.38,314.75 470,313C472.62,311.25 475.97,309.13 478.8,307.5C481.63,305.87 484.07,304.55 487,303.2C489.93,301.85 492.9,300.65 496.4,299.4C499.9,298.15 504,296.85 508,295.7C512,294.55 516.73,293.43 520.4,292.5C524.07,291.57 526.58,290.85 530,290.1C533.42,289.35 537.73,288.53 540.9,288C544.07,287.47 546.28,287.15 549,286.9C551.72,286.65 554.7,286.52 557.2,286.5C559.7,286.48 561.62,286.55 564,286.8C566.38,287.05 568.83,287.4 571.5,288C574.17,288.6 577.27,289.42 580,290.4C582.73,291.38 585.4,292.53 587.9,293.9C590.4,295.27 592.62,296.75 595,298.6C597.38,300.45 600.03,302.85 602.2,305C604.37,307.15 606.13,309.12 608,311.5C609.87,313.88 611.82,316.85 613.4,319.3C614.98,321.75 616.3,323.82 617.5,326.2C618.7,328.58 619.68,331.3 620.6,333.6C621.52,335.9 622.32,337.97 623,340C623.68,342.03 624.28,343.97 624.7,345.8C625.12,347.63 625.33,349.28 625.5,351C625.67,352.72 625.73,354.77 625.7,356.1C625.67,357.43 625.47,358.18 625.3,359C625.13,359.82 624.8,360.67 624.7,361" fill="none" stroke="#0000ff" stroke-width="1.7"/>
<path d="M428,367.73L430.1,371.51L425.9,371.51Z" fill="none" stroke="#ff0000" stroke-width="0.85"/><path d="M430.1,368.43L432.2,372.21L428,372.21Z" fill="none" stroke="#ff0000" stroke-width="0.85"/><path d="M432.4,366.33L434.5,370.11L430.3,370.11Z" fill="none" stroke="#ff0000" stroke-width="0.85"/><path d="M434.2,363.73L436.3,367.51L432.1,367.51Z" fill="none" stroke="#ff0000" stroke-width="0.85"/><path d="M435.9,360.23L438,364.01L433.8,364.01Z" fill="none" stroke="#ff0000" stroke-width="0.85"/><path d="M437.7,355.83L439.8,359.61L435.6,359.61Z" fill="none" stroke="#ff0000" stroke-width="0.85"/><path d="M439.4,351.43L441.5,355.21L437.3,355.21Z" fill="none" stroke="#ff0000" stroke-width="0.85"/><path d="M441.2,347.03L443.3,350.81L439.1,350.81Z" fill="none" stroke="#ff0000" stroke-width="0.85"/><path d="M442.9,343.53L445,347.31L440.8,347.31Z" fill="none" stroke="#ff0000" stroke-width="0.85"/><path d="M444.7,340.03L446.8,343.81L442.6,343.81Z" fill="none" stroke="#ff0000" stroke-width="0.85"/><path d="M446.4,336.53L448.5,340.31L444.3,340.31Z" fill="none" stroke="#ff0000" stroke-width="0.85"/><path d="M449,333.03L451.1,336.81L446.9,336.81Z" fill="none" stroke="#ff0000" stroke-width="0.85"/><path d="M451.7,329.53L453.8,333.31L449.6,333.31Z" fill="none" stroke="#ff0000" stroke-width="0.85"/><path d="M454.3,325.13L456.4,328.91L452.2,328.91Z" fill="none" stroke="#ff0000" stroke-width="0.85"/><path d="M457.8,318.13L459.9,321.91L455.7,321.91Z" fill="none" stroke="#ff0000" stroke-width="0.85"/><path d="M461.3,312.93L463.4,316.71L459.2,316.71Z" fill="none" stroke="#ff0000" stroke-width="0.85"/><path d="M465,308.53L467.1,312.31L462.9,312.31Z" fill="none" stroke="#ff0000" stroke-width="0.85"/><path d="M469.2,303.63L471.3,307.41L467.1,307.41Z" fill="none" stroke="#ff0000" stroke-width="0.85"/><path d="M475.3,296.63L477.4,300.41L473.2,300.41Z" fill="none" stroke="#ff0000" stroke-width="0.85"/><path d="M482.3,290.13L484.4,293.91L480.2,293.91Z" fill="none" stroke="#ff0000" stroke-width="0.85"/><path d="M490.2,284.93L492.3,288.71L488.1,288.71Z" fill="none" stroke="#ff0000" stroke-width="0.85"/><path d="M499.9,281.43L502,285.21L497.8,285.21Z" fill="none" stroke="#ff0000" stroke-width="0.85"/><path d="M510.4,279.83L512.5,283.61L508.3,283.61Z" fill="none" stroke="#ff0000" stroke-width="0.85"/><path d="M521.5,281.23L523.6,285.01L519.4,285.01Z" fill="none" stroke="#ff0000" stroke-width="0.85"/><path d="M531.1,284.73L533.2,288.51L529,288.51Z" fill="none" stroke="#ff0000" stroke-width="0.85"/><path d="M539.9,291.03L542,294.81L537.8,294.81Z" fill="none" stroke="#ff0000" stroke-width="0.85"/><path d="M547.4,298.03L549.5,301.81L545.3,301.81Z" fill="none" stroke="#ff0000" stroke-width="0.85"/><path d="M553.5,305.73L555.6,309.51L551.4,309.51Z" fill="none" stroke="#ff0000" stroke-width="0.85"/><path d="M558.2,313.33L560.3,317.11L556.1,317.11Z" fill="none" stroke="#ff0000" stroke-width="0.85"/><path d="M561.9,321.13L564,324.91L559.8,324.91Z" fill="none" stroke="#ff0000" stroke-width="0.85"/><path d="M565,328.23L567.1,332.01L562.9,332.01Z" fill="none" stroke="#ff0000" stroke-width="0.85"/><path d="M567.4,334.33L569.5,338.11L565.3,338.11Z" fill="none" stroke="#ff0000" stroke-width="0.85"/><path d="M569,339.43L571.1,343.21L566.9,343.21Z" fill="none" stroke="#ff0000" stroke-width="0.85"/><path d="M570,344.63L572.1,348.41L567.9,348.41Z" fill="none" stroke="#ff0000" stroke-width="0.85"/><path d="M570.7,348.73L572.8,352.51L568.6,352.51Z" fill="none" stroke="#ff0000" stroke-width="0.85"/><path d="M571.1,352.73L573.2,356.51L569,356.51Z" fill="none" stroke="#ff0000" stroke-width="0.85"/><path d="M571.3,356.23L573.4,360.01L569.2,360.01Z" fill="none" stroke="#ff0000" stroke-width="0.85"/><path d="M571.5,359.23L573.6,363.01L569.4,363.01Z" fill="none" stroke="#ff0000" stroke-width="0.85"/><path d="M571.5,361.73L573.6,365.51L569.4,365.51Z" fill="none" stroke="#ff0000" stroke-width="0.85"/><path d="M571.5,363.73L573.6,367.51L569.4,367.51Z" fill="none" stroke="#ff0000" stroke-width="0.85"/>
<path d="M428.9,354.7L431.4,357.2L428.9,359.7L426.4,357.2Z" fill="none" stroke="#0000ff" stroke-width="0.85"/><path d="M427.2,362.3L429.7,364.8L427.2,367.3L424.7,364.8Z" fill="none" stroke="#0000ff" stroke-width="0.85"/><path d="M430.7,363.5L433.2,366L430.7,368.5L428.2,366Z" fill="none" stroke="#0000ff" stroke-width="0.85"/><path d="M433.3,360L435.8,362.5L433.3,365L430.8,362.5Z" fill="none" stroke="#0000ff" stroke-width="0.85"/><path d="M435,356.5L437.5,359L435,361.5L432.5,359Z" fill="none" stroke="#0000ff" stroke-width="0.85"/><path d="M436.8,352.1L439.3,354.6L436.8,357.1L434.3,354.6Z" fill="none" stroke="#0000ff" stroke-width="0.85"/><path d="M438.5,347.7L441,350.2L438.5,352.7L436,350.2Z" fill="none" stroke="#0000ff" stroke-width="0.85"/><path d="M440.3,344.2L442.8,346.7L440.3,349.2L437.8,346.7Z" fill="none" stroke="#0000ff" stroke-width="0.85"/><path d="M442.9,339.8L445.4,342.3L442.9,344.8L440.4,342.3Z" fill="none" stroke="#0000ff" stroke-width="0.85"/><path d="M445.5,335.5L448,338L445.5,340.5L443,338Z" fill="none" stroke="#0000ff" stroke-width="0.85"/><path d="M449,331.1L451.5,333.6L449,336.1L446.5,333.6Z" fill="none" stroke="#0000ff" stroke-width="0.85"/><path d="M452.6,326.7L455.1,329.2L452.6,331.7L450.1,329.2Z" fill="none" stroke="#0000ff" stroke-width="0.85"/><path d="M456.1,323.2L458.6,325.7L456.1,328.2L453.6,325.7Z" fill="none" stroke="#0000ff" stroke-width="0.85"/><path d="M459.6,319.7L462.1,322.2L459.6,324.7L457.1,322.2Z" fill="none" stroke="#0000ff" stroke-width="0.85"/><path d="M463.1,316.2L465.6,318.7L463.1,321.2L460.6,318.7Z" fill="none" stroke="#0000ff" stroke-width="0.85"/><path d="M467.4,312.7L469.9,315.2L467.4,317.7L464.9,315.2Z" fill="none" stroke="#0000ff" stroke-width="0.85"/><path d="M472.7,308.3L475.2,310.8L472.7,313.3L470.2,310.8Z" fill="none" stroke="#0000ff" stroke-width="0.85"/><path d="M478,305.2L480.5,307.7L478,310.2L475.5,307.7Z" fill="none" stroke="#0000ff" stroke-width="0.85"/><path d="M483.7,302.7L486.2,305.2L483.7,307.7L481.2,305.2Z" fill="none" stroke="#0000ff" stroke-width="0.85"/><path d="M489.3,300.4L491.8,302.9L489.3,305.4L486.8,302.9Z" fill="none" stroke="#0000ff" stroke-width="0.85"/><path d="M495.5,298.3L498,300.8L495.5,303.3L493,300.8Z" fill="none" stroke="#0000ff" stroke-width="0.85"/><path d="M501.6,296.4L504.1,298.9L501.6,301.4L499.1,298.9Z" fill="none" stroke="#0000ff" stroke-width="0.85"/><path d="M507.7,294.8L510.2,297.3L507.7,299.8L505.2,297.3Z" fill="none" stroke="#0000ff" stroke-width="0.85"/><path d="M513.9,293.4L516.4,295.9L513.9,298.4L511.4,295.9Z" fill="none" stroke="#0000ff" stroke-width="0.85"/><path d="M520.4,291.8L522.9,294.3L520.4,296.8L517.9,294.3Z" fill="none" stroke="#0000ff" stroke-width="0.85"/><path d="M527.2,290.2L529.7,292.7L527.2,295.2L524.7,292.7Z" fill="none" stroke="#0000ff" stroke-width="0.85"/><path d="M534.3,288.6L536.8,291.1L534.3,293.6L531.8,291.1Z" fill="none" stroke="#0000ff" stroke-width="0.85"/><path d="M541.9,287.5L544.4,290L541.9,292.5L539.4,290Z" fill="none" stroke="#0000ff" stroke-width="0.85"/><path d="M549.5,286.9L552,289.4L549.5,291.9L547,289.4Z" fill="none" stroke="#0000ff" stroke-width="0.85"/><path d="M557.8,286.9L560.3,289.4L557.8,291.9L555.3,289.4Z" fill="none" stroke="#0000ff" stroke-width="0.85"/><path d="M566.4,288.2L568.9,290.7L566.4,293.2L563.9,290.7Z" fill="none" stroke="#0000ff" stroke-width="0.85"/><path d="M574.6,289.4L577.1,291.9L574.6,294.4L572.1,291.9Z" fill="none" stroke="#0000ff" stroke-width="0.85"/><path d="M582.4,291.6L584.9,294.1L582.4,296.6L579.9,294.1Z" fill="none" stroke="#0000ff" stroke-width="0.85"/><path d="M589.9,294.9L592.4,297.4L589.9,299.9L587.4,297.4Z" fill="none" stroke="#0000ff" stroke-width="0.85"/><path d="M597.1,300L599.6,302.5L597.1,305L594.6,302.5Z" fill="none" stroke="#0000ff" stroke-width="0.85"/><path d="M603.2,305.5L605.7,308L603.2,310.5L600.7,308Z" fill="none" stroke="#0000ff" stroke-width="0.85"/><path d="M608.3,311.7L610.8,314.2L608.3,316.7L605.8,314.2Z" fill="none" stroke="#0000ff" stroke-width="0.85"/><path d="M612.4,318.2L614.9,320.7L612.4,323.2L609.9,320.7Z" fill="none" stroke="#0000ff" stroke-width="0.85"/><path d="M615.9,323.9L618.4,326.4L615.9,328.9L613.4,326.4Z" fill="none" stroke="#0000ff" stroke-width="0.85"/><path d="M618.5,329.4L621,331.9L618.5,334.4L616,331.9Z" fill="none" stroke="#0000ff" stroke-width="0.85"/><path d="M620.6,334.1L623.1,336.6L620.6,339.1L618.1,336.6Z" fill="none" stroke="#0000ff" stroke-width="0.85"/><path d="M622,339.2L624.5,341.7L622,344.2L619.5,341.7Z" fill="none" stroke="#0000ff" stroke-width="0.85"/><path d="M623,343.3L625.5,345.8L623,348.3L620.5,345.8Z" fill="none" stroke="#0000ff" stroke-width="0.85"/><path d="M623.6,347.4L626.1,349.9L623.6,352.4L621.1,349.9Z" fill="none" stroke="#0000ff" stroke-width="0.85"/><path d="M623.8,350.5L626.3,353L623.8,355.5L621.3,353Z" fill="none" stroke="#0000ff" stroke-width="0.85"/><path d="M623.6,353.6L626.1,356.1L623.6,358.6L621.1,356.1Z" fill="none" stroke="#0000ff" stroke-width="0.85"/><path d="M623.2,356.6L625.7,359.1L623.2,361.6L620.7,359.1Z" fill="none" stroke="#0000ff" stroke-width="0.85"/><path d="M622.6,359.1L625.1,361.6L622.6,364.1L620.1,361.6Z" fill="none" stroke="#0000ff" stroke-width="0.85"/>
<path d="M416.6,204.44L418.6,208.04L414.6,208.04Z" fill="none" stroke="#ff0000" stroke-width="0.85"/>
<text x="429.4" y="210.5" font-size="10.75" text-anchor="start" font-weight="normal" fill="#111" stroke="#111" stroke-width="0.22" >TPI<tspan dx="0.9" dy="-0.6" font-size="9.46" stroke-width="0.12">@</tspan><tspan dx="0.8" dy="0.6">Z8(SiO<tspan baseline-shift="-2.8" font-size="7.4">2</tspan>)-650-C</tspan></text>
<path d="M416.6,220L419,222.4L416.6,224.8L414.2,222.4Z" fill="none" stroke="#0000ff" stroke-width="0.85"/>
<text x="429.4" y="226.2" font-size="10.75" text-anchor="start" font-weight="normal" fill="#111" stroke="#111" stroke-width="0.22" >TPI<tspan dx="0.9" dy="-0.6" font-size="9.46" stroke-width="0.12">@</tspan><tspan dx="0.8" dy="0.6">Z8-650-C</tspan></text>
<path d="M409.1,235.4H424.9" stroke="#000" stroke-width="1.3"/>
<text x="429.4" y="239.3" font-size="10.75" text-anchor="start" font-weight="normal" fill="#111" stroke="#111" stroke-width="0.22" >Fit results</text>
<path d="M569.2,261.6L579.3,268.2L569.2,274.8M575.2,261.6L585.3,268.2L575.2,274.8" fill="none" stroke="#111" stroke-width="1.35"/>
<path d="M499.1,246H507.3L509.3,242.3L511.9,250.3L514.6,242.3L517.3,250.3L520,242.3L521.8,246H543 M543,246H554.3L556.3,242.3L558.9,250.3L561.6,242.3L564.3,250.3L567,242.3L569,246H584 M584,246L586,242.6L588,249.8L590,242.6L592,249.8L593.8,242.6 M592.5,246H625.2M612.9,246V268.2H543V246" fill="none" stroke="#111" stroke-width="1.05"/>
<circle cx="543" cy="246" r="1.9" fill="#000"/>
<text x="509" y="235.3" font-size="10.75" text-anchor="start" font-weight="normal" fill="#000" stroke="#000" stroke-width="0.22" ><tspan font-style="italic">R</tspan><tspan font-size="7.2" dy="2">ohm</tspan></text>
<text x="554" y="235.3" font-size="10.75" text-anchor="start" font-weight="normal" fill="#000" stroke="#000" stroke-width="0.22" ><tspan font-style="italic">R</tspan><tspan font-size="7.2" dy="2">ct</tspan><tspan dy="-2"> </tspan><tspan font-style="italic">W</tspan><tspan font-size="7.2" dy="2">s</tspan><tspan dy="-2"> (optional)</tspan></text>
<text x="593" y="254.2" font-size="7.2" text-anchor="start" font-weight="normal" fill="#000" stroke="#000" stroke-width="0.22" >S</text>
<text x="579.8" y="282.4" font-size="10.75" text-anchor="start" font-weight="normal" fill="#000" stroke="#000" stroke-width="0.22" >CPE</text>
<text x="467.2" y="363.6" font-size="10.75" text-anchor="start" font-weight="normal" fill="#000" stroke="#000" stroke-width="0.22" >@ <tspan font-style="italic">i</tspan> = 1.5 A cm<tspan baseline-shift="4.2" font-size="7.4">−2</tspan></text>
<rect x="42.6" y="456.5" width="238.2" height="191.5" fill="none" stroke="#8a8a8a" stroke-width="1"/>
<path d="M42.6,620.3h-4M42.6,565.7h-4M42.6,511.1h-4M42.6,456.5h-4" stroke="#8a8a8a" stroke-width="1" fill="none"/>
<path d="M42.6,593h-2.5M42.6,538.4h-2.5M42.6,483.8h-2.5" stroke="#8a8a8a" stroke-width="1" fill="none"/>
<path d="M62.7,648v4M150.5,648v4M238.3,648v4" stroke="#8a8a8a" stroke-width="1" fill="none"/>
<path d="M43.22,648v2.5M49.1,648v2.5M54.19,648v2.5M58.68,648v2.5M89.13,648v2.5M104.59,648v2.5M115.56,648v2.5M124.07,648v2.5M131.02,648v2.5M136.9,648v2.5M141.99,648v2.5M146.48,648v2.5M176.93,648v2.5M192.39,648v2.5M203.36,648v2.5M211.87,648v2.5M218.82,648v2.5M224.7,648v2.5M229.79,648v2.5M234.28,648v2.5M264.73,648v2.5M280.19,648v2.5" stroke="#8a8a8a" stroke-width="1" fill="none"/>
<text x="33.7" y="624.1" font-size="10.75" text-anchor="end" font-weight="normal" fill="#111" stroke="#111" stroke-width="0.22" >0.7</text>
<text x="33.7" y="569.5" font-size="10.75" text-anchor="end" font-weight="normal" fill="#111" stroke="#111" stroke-width="0.22" >0.8</text>
<text x="33.7" y="514.9" font-size="10.75" text-anchor="end" font-weight="normal" fill="#111" stroke="#111" stroke-width="0.22" >0.9</text>
<text x="33.7" y="460.3" font-size="10.75" text-anchor="end" font-weight="normal" fill="#111" stroke="#111" stroke-width="0.22" >1.0</text>
<text x="62.7" y="665.3" font-size="10.75" text-anchor="middle" font-weight="normal" fill="#111" stroke="#111" stroke-width="0.22" >0.01</text>
<text x="150.5" y="665.3" font-size="10.75" text-anchor="middle" font-weight="normal" fill="#111" stroke="#111" stroke-width="0.22" >0.1</text>
<text x="238.3" y="665.3" font-size="10.75" text-anchor="middle" font-weight="normal" fill="#111" stroke="#111" stroke-width="0.22" >1</text>
<text x="92.1" y="682.6" font-size="10.75" text-anchor="start" font-weight="normal" fill="#111" stroke="#111" stroke-width="0.22" >Current density (A cm<tspan baseline-shift="4.2" font-size="7.4">−2</tspan>)</text>
<text x="0" y="0" font-size="10.75" text-anchor="middle" font-weight="normal" fill="#111" stroke="#111" stroke-width="0.22" transform="translate(9.2,554.2) rotate(-90)">iR-free cell voltage (V)</text>
<text x="-0.6" y="454.6" font-size="13.2" text-anchor="start" font-weight="bold" fill="#000" stroke="#000" stroke-width="0.22" >d</text>
<g clip-path="url(#clipd)">
<path d="M43.62,503.3 L44.16,503.5 L44.71,503.71 L45.26,503.91 L45.8,504.11 L46.36,504.32 L46.91,504.52 L47.46,504.72 L48.01,504.92 L48.57,505.13 L49.13,505.33 L49.69,505.53 L50.25,505.73 L50.81,505.93 L51.37,506.13 L51.94,506.33 L52.51,506.53 L53.07,506.73 L53.64,506.93 L54.21,507.12 L54.79,507.32 L55.36,507.52 L55.93,507.72 L56.51,507.92 L57.09,508.11 L57.66,508.31 L58.24,508.51 L58.82,508.71 L59.41,508.9 L59.99,509.1 L60.57,509.3 L61.16,509.49 L61.75,509.69 L62.34,509.89 L62.92,510.08 L63.51,510.28 L64.11,510.47 L64.7,510.67 L65.29,510.87 L65.89,511.06 L66.48,511.26 L67.08,511.45 L67.68,511.65 L68.28,511.84 L68.88,512.04 L69.48,512.23 L70.08,512.43 L70.68,512.63 L71.28,512.82 L71.89,513.02 L72.49,513.21 L73.1,513.41 L73.71,513.6 L74.32,513.8 L74.93,514 L75.53,514.19 L76.15,514.39 L76.76,514.58 L77.37,514.78 L77.98,514.98 L78.6,515.17 L79.21,515.37 L79.83,515.57 L80.44,515.76 L81.06,515.96 L81.68,516.16 L82.29,516.36 L82.91,516.56 L83.53,516.75 L84.15,516.95 L84.77,517.15 L85.4,517.35 L86.02,517.55 L86.64,517.75 L87.26,517.95 L87.89,518.15 L88.51,518.35 L89.14,518.55 L89.76,518.75 L90.39,518.95 L91.01,519.15 L91.64,519.35 L92.27,519.55 L92.89,519.76 L93.52,519.96 L94.15,520.16 L94.78,520.37 L95.41,520.57 L96.04,520.77 L96.67,520.98 L97.3,521.18 L97.93,521.39 L98.56,521.6 L99.19,521.8 L99.82,522.01 L100.46,522.22 L101.09,522.42 L101.72,522.63 L102.35,522.84 L102.99,523.05 L103.62,523.26 L104.25,523.47 L104.88,523.68 L105.52,523.89 L106.15,524.1 L106.79,524.32 L107.42,524.53 L108.05,524.74 L108.69,524.96 L109.32,525.17 L109.96,525.39 L110.59,525.6 L111.22,525.82 L111.86,526.04 L112.49,526.26 L113.13,526.48 L113.76,526.69 L114.4,526.91 L115.03,527.14 L115.66,527.36 L116.3,527.58 L116.93,527.8 L117.57,528.02 L118.2,528.25 L118.83,528.47 L119.47,528.7 L120.1,528.93 L120.73,529.15 L121.36,529.38 L122,529.61 L122.63,529.84 L123.26,530.07 L123.89,530.3 L124.53,530.53 L125.16,530.77 L125.79,531 L126.42,531.23 L127.05,531.47 L127.68,531.71 L128.31,531.94 L128.94,532.18 L129.57,532.42 L130.19,532.66 L130.82,532.9 L131.45,533.14 L132.08,533.38 L132.7,533.63 L133.33,533.87 L133.96,534.12 L134.58,534.36 L135.21,534.61 L135.83,534.86 L136.45,535.11 L137.08,535.36 L137.7,535.61 L138.32,535.86 L138.94,536.12 L139.56,536.37 L140.18,536.63 L140.8,536.88 L141.42,537.14 L142.04,537.4 L142.66,537.66 L143.28,537.92 L143.89,538.18 L144.51,538.45 L145.12,538.71 L145.74,538.98 L146.35,539.24 L146.96,539.51 L147.57,539.78 L148.18,540.05 L148.79,540.32 L149.4,540.59 L150.01,540.87 L150.62,541.14 L151.22,541.42 L151.83,541.7 L152.43,541.98 L153.04,542.26 L153.64,542.54 L154.24,542.82 L154.84,543.1 L155.44,543.39 L156.04,543.67 L156.64,543.96 L157.24,544.25 L157.83,544.54 L158.43,544.83 L159.02,545.13 L159.61,545.42 L160.2,545.72 L160.79,546.01 L161.38,546.31 L161.97,546.61 L162.56,546.91 L163.14,547.21 L163.73,547.52 L164.31,547.82 L164.89,548.13 L165.47,548.44 L166.05,548.75 L166.63,549.06 L167.21,549.37 L167.78,549.69 L168.36,550 L168.93,550.32 L169.5,550.64 L170.07,550.96 L170.64,551.28 L171.21,551.61 L171.78,551.93 L172.34,552.26 L172.91,552.58 L173.47,552.91 L174.03,553.25 L174.59,553.58 L175.15,553.91 L175.7,554.25 L176.26,554.59 L176.81,554.93 L177.36,555.27 L177.91,555.61 L178.46,555.95 L179.01,556.3 L179.55,556.65 L180.1,557 L180.64,557.35 L181.18,557.7 L181.72,558.06 L182.26,558.41 L182.79,558.77 L183.33,559.13 L183.86,559.49 L184.39,559.85 L184.92,560.22 L185.45,560.59 L185.97,560.95 L186.5,561.33 L187.02,561.7 L187.54,562.07 L188.06,562.45 L188.57,562.82 L189.09,563.2 L189.6,563.59 L190.11,563.97 L190.62,564.35 L191.13,564.74 L191.63,565.13 L192.13,565.52 L192.64,565.91 L193.13,566.31 L193.63,566.71 L194.13,567.1 L194.62,567.5 L195.11,567.91 L195.6,568.31 L196.09,568.72 L196.57,569.13 L197.06,569.54 L197.54,569.95 L198.02,570.36 L198.49,570.78 L198.97,571.2 L199.44,571.62 L199.91,572.04 L200.38,572.46 L200.84,572.89 L201.3,573.32 L201.77,573.75 L202.22,574.18 L202.68,574.62 L203.14,575.05 L203.59,575.49 L204.04,575.93 L204.48,576.38 L204.93,576.82 L205.37,577.27 L205.81,577.72 L206.25,578.17 L206.68,578.62 L207.12,579.08 L207.55,579.54 L207.97,580 L208.4,580.46 L208.82,580.92 L209.24,581.39 L209.66,581.86 L210.07,582.33 L210.48,582.8 L210.89,583.28 L211.3,583.75 L211.71,584.23 L212.11,584.71 L212.51,585.2 L212.9,585.68 L213.3,586.17 L213.69,586.66 L214.07,587.16 L214.46,587.65 L214.84,588.15 L215.22,588.65 L215.6,589.15 L215.97,589.66 L216.34,590.16 L216.71,590.67 L217.08,591.18 L217.44,591.7 L217.8,592.21 L218.16,592.73 L218.51,593.25 L218.86,593.77 L219.21,594.3 L219.55,594.83 L219.89,595.36 L220.23,595.89 L220.57,596.42 L220.9,596.96 L221.23,597.5 L221.56,598.04 L221.88,598.59 L222.2,599.13 L222.52,599.68 L222.83,600.23 L223.14,600.79 L223.45,601.34 L223.75,601.9 L224.05,602.47 L224.35,603.03 L224.64,603.6 L224.93,604.16 L225.22,604.74 L225.51,605.31 L225.79,605.89 L226.07,606.46 L226.34,607.05 L226.61,607.63 L226.88,608.22 L227.14,608.81 L227.4,609.4 L227.66,609.99 L227.91,610.59 L228.16,611.19 L228.41,611.79 L228.65,612.39 L228.89,613 L229.13,613.61 L229.36,614.22 L229.59,614.84 L229.82,615.45 L230.04,616.07 L230.26,616.7 L230.47,617.32 L230.68,617.95 L230.89,618.58 L231.09,619.21 L231.29,619.85 L231.49,620.49 L231.68,621.13 L231.87,621.77 L232.05,622.42 L232.23,623.07 L232.41,623.72 L232.58,624.37 L232.75,625.03 L232.91,625.69 L233.08,626.35 L233.23,627.02 L233.39,627.69 L233.54,628.36 L233.68,629.03 L233.82,629.71 L233.96,630.39 L234.09,631.07 L234.22,631.76 L234.35,632.45 L234.47,633.14 L234.59,633.83 L234.7,634.53 L234.81,635.22 L234.92,635.93 L235.02,636.63 L235.11,637.34 L235.2,638.05 L235.29,638.76 L235.38,639.48 L235.46,640.2 L235.53,640.92 L235.6,641.65 L235.67,642.37 L235.73,643.1 L235.79,643.84 L235.85,644.57 L235.9,645.31 L235.94,646.06 L235.98,646.8 L236.02,647.55 L236.05,648.3 L236.08,649.05 L236.1,649.81" fill="none" stroke="#00ffff" stroke-width="1.5"/>
<path d="M150.01,540.87 L150.62,541.14 L151.22,541.42 L151.83,541.7 L152.43,541.98 L153.04,542.26 L153.64,542.54 L154.24,542.82 L154.84,543.1 L155.44,543.39 L156.04,543.67 L156.64,543.96 L157.24,544.25 L157.83,544.54 L158.43,544.83 L159.02,545.13 L159.61,545.42 L160.2,545.72 L160.79,546.01 L161.38,546.31 L161.97,546.61 L162.56,546.91 L163.14,547.21 L163.73,547.52 L164.31,547.82 L164.89,548.13 L165.47,548.44 L166.05,548.75 L166.63,549.06 L167.21,549.37 L167.78,549.69 L168.36,550 L168.93,550.32 L169.5,550.64 L170.07,550.96 L170.64,551.28 L171.21,551.61 L171.78,551.93 L172.34,552.26 L172.91,552.58 L173.47,552.91 L174.03,553.25 L174.59,553.58 L175.15,553.91 L175.7,554.25 L176.26,554.59 L176.81,554.93 L177.36,555.27 L177.91,555.61 L178.46,555.95 L179.01,556.3 L179.55,556.65 L180.1,557 L180.64,557.35 L181.18,557.7 L181.72,558.06 L182.26,558.41 L182.79,558.77 L183.33,559.13 L183.86,559.49 L184.39,559.85 L184.92,560.22 L185.45,560.59 L185.97,560.95 L186.5,561.33 L187.02,561.7 L187.54,562.07 L188.06,562.45 L188.57,562.82 L189.09,563.2 L189.6,563.59 L190.11,563.97 L190.62,564.35 L191.13,564.74 L191.63,565.13 L192.13,565.52 L192.64,565.91 L193.13,566.31 L193.63,566.71 L194.13,567.1 L194.62,567.5 L195.11,567.91 L195.6,568.31 L196.09,568.72 L196.57,569.13 L197.06,569.54 L197.54,569.95 L198.02,570.36 L198.49,570.78 L198.97,571.2 L199.44,571.62 L199.91,572.04 L200.38,572.46 L200.84,572.89 L201.3,573.32 L201.77,573.75 L202.22,574.18 L202.68,574.62 L203.14,575.05 L203.59,575.49 L204.04,575.93 L204.48,576.38 L204.93,576.82 L205.37,577.27 L205.81,577.72 L206.25,578.17 L206.68,578.62 L207.12,579.08 L207.55,579.54 L207.97,580 L208.4,580.46 L208.82,580.92 L209.24,581.39 L209.66,581.86 L210.07,582.33 L210.48,582.8 L210.89,583.28 L211.3,583.75 L211.71,584.23 L212.11,584.71 L212.51,585.2 L212.9,585.68 L213.3,586.17 L213.69,586.66 L214.07,587.16 L214.46,587.65 L214.84,588.15 L215.22,588.65 L215.6,589.15 L215.97,589.66 L216.34,590.16 L216.71,590.67 L217.08,591.18 L217.44,591.7 L217.8,592.21 L218.16,592.73 L218.51,593.25 L218.86,593.77 L219.21,594.3 L219.55,594.83 L219.89,595.36 L220.23,595.89 L220.57,596.42 L220.9,596.96 L221.23,597.5 L221.56,598.04 L221.88,598.59 L222.2,599.13 L222.52,599.68 L222.83,600.23 L223.14,600.79 L223.45,601.34 L223.75,601.9 L224.05,602.47 L224.35,603.03 L224.64,603.6 L224.93,604.16 L225.22,604.74 L225.51,605.31 L225.79,605.89 L226.07,606.46 L226.34,607.05 L226.61,607.63 L226.88,608.22 L227.14,608.81 L227.4,609.4 L227.66,609.99 L227.91,610.59 L228.16,611.19 L228.41,611.79 L228.65,612.39 L228.89,613 L229.13,613.61 L229.36,614.22 L229.59,614.84 L229.82,615.45 L230.04,616.07 L230.26,616.7 L230.47,617.32 L230.68,617.95 L230.89,618.58 L231.09,619.21 L231.29,619.85 L231.49,620.49 L231.68,621.13 L231.87,621.77 L232.05,622.42 L232.23,623.07 L232.41,623.72 L232.58,624.37 L232.75,625.03 L232.91,625.69 L233.08,626.35 L233.23,627.02 L233.39,627.69 L233.54,628.36 L233.68,629.03 L233.82,629.71 L233.96,630.39 L234.09,631.07 L234.22,631.76 L234.35,632.45 L234.47,633.14 L234.59,633.83 L234.7,634.53 L234.81,635.22 L234.92,635.93 L235.02,636.63 L235.11,637.34 L235.2,638.05 L235.29,638.76 L235.38,639.48 L235.46,640.2 L235.53,640.92 L235.6,641.65 L235.67,642.37 L235.73,643.1 L235.79,643.84 L235.85,644.57 L235.9,645.31 L235.94,646.06 L235.98,646.8 L236.02,647.55 L236.05,648.3 L236.08,649.05 L236.1,649.81" fill="none" stroke="#00ffff" stroke-width="3.6" stroke-linecap="round"/>
<path d="M43.22,501.7l1.6,2.6h-3.2zM62.7,508.41l1.6,2.6h-3.2zM75.53,512.59l1.6,2.6h-3.2zM85.11,515.66l1.6,2.6h-3.2zM92.76,518.11l1.6,2.6h-3.2zM99.13,520.18l1.6,2.6h-3.2zM104.59,521.98l1.6,2.6h-3.2zM109.36,523.59l1.6,2.6h-3.2zM113.6,525.04l1.6,2.6h-3.2zM117.42,526.37l1.6,2.6h-3.2zM120.89,527.61l1.6,2.6h-3.2zM124.07,528.77l1.6,2.6h-3.2zM127,529.85l1.6,2.6h-3.2zM129.73,530.88l1.6,2.6h-3.2zM132.27,531.86l1.6,2.6h-3.2zM134.66,532.79l1.6,2.6h-3.2zM136.9,533.69l1.6,2.6h-3.2zM139.02,534.55l1.6,2.6h-3.2zM141.03,535.38l1.6,2.6h-3.2zM142.93,536.18l1.6,2.6h-3.2zM144.75,536.95l1.6,2.6h-3.2zM146.48,537.7l1.6,2.6h-3.2zM148.14,538.43l1.6,2.6h-3.2zM149.73,539.14l1.6,2.6h-3.2zM151.26,539.83l1.6,2.6h-3.2zM152.72,540.51l1.6,2.6h-3.2zM154.13,541.17l1.6,2.6h-3.2zM155.5,541.81l1.6,2.6h-3.2zM156.81,542.45l1.6,2.6h-3.2zM158.08,543.06l1.6,2.6h-3.2zM159.31,543.67l1.6,2.6h-3.2zM160.5,544.27l1.6,2.6h-3.2zM161.66,544.85l1.6,2.6h-3.2zM162.78,545.43l1.6,2.6h-3.2zM163.87,545.99l1.6,2.6h-3.2zM164.93,546.55l1.6,2.6h-3.2zM165.96,547.1l1.6,2.6h-3.2zM166.96,547.64l1.6,2.6h-3.2zM167.94,548.17l1.6,2.6h-3.2zM168.9,548.7l1.6,2.6h-3.2zM169.83,549.22l1.6,2.6h-3.2zM170.73,549.73l1.6,2.6h-3.2zM171.62,550.24l1.6,2.6h-3.2zM172.49,550.74l1.6,2.6h-3.2zM173.33,551.24l1.6,2.6h-3.2zM174.16,551.73l1.6,2.6h-3.2zM174.97,552.21l1.6,2.6h-3.2zM175.77,552.69l1.6,2.6h-3.2zM176.55,553.16l1.6,2.6h-3.2zM177.31,553.63l1.6,2.6h-3.2zM178.06,554.1l1.6,2.6h-3.2zM178.79,554.56l1.6,2.6h-3.2zM179.51,555.02l1.6,2.6h-3.2zM180.22,555.47l1.6,2.6h-3.2zM180.91,555.92l1.6,2.6h-3.2zM181.59,556.37l1.6,2.6h-3.2zM182.26,556.81l1.6,2.6h-3.2zM182.92,557.25l1.6,2.6h-3.2zM183.56,557.69l1.6,2.6h-3.2zM184.2,558.12l1.6,2.6h-3.2zM184.82,558.55l1.6,2.6h-3.2zM185.44,558.98l1.6,2.6h-3.2zM186.04,559.41l1.6,2.6h-3.2zM186.64,559.83l1.6,2.6h-3.2zM187.23,560.25l1.6,2.6h-3.2zM187.8,560.67l1.6,2.6h-3.2zM188.37,561.08l1.6,2.6h-3.2zM188.93,561.49l1.6,2.6h-3.2zM189.49,561.9l1.6,2.6h-3.2zM190.03,562.31l1.6,2.6h-3.2zM190.57,562.72l1.6,2.6h-3.2zM191.1,563.12l1.6,2.6h-3.2zM191.62,563.52l1.6,2.6h-3.2zM192.14,563.92l1.6,2.6h-3.2zM192.64,564.32l1.6,2.6h-3.2zM193.15,564.72l1.6,2.6h-3.2zM193.64,565.11l1.6,2.6h-3.2zM194.13,565.51l1.6,2.6h-3.2zM194.61,565.9l1.6,2.6h-3.2zM195.09,566.29l1.6,2.6h-3.2zM195.56,566.68l1.6,2.6h-3.2zM196.03,567.07l1.6,2.6h-3.2zM196.48,567.45l1.6,2.6h-3.2zM196.94,567.84l1.6,2.6h-3.2zM197.39,568.22l1.6,2.6h-3.2zM197.83,568.6l1.6,2.6h-3.2zM198.27,568.98l1.6,2.6h-3.2zM198.7,569.37l1.6,2.6h-3.2zM199.13,569.74l1.6,2.6h-3.2zM199.55,570.12l1.6,2.6h-3.2zM199.97,570.5l1.6,2.6h-3.2zM200.39,570.88l1.6,2.6h-3.2zM200.8,571.25l1.6,2.6h-3.2zM201.2,571.63l1.6,2.6h-3.2zM201.61,572l1.6,2.6h-3.2zM202,572.37l1.6,2.6h-3.2zM202.4,572.75l1.6,2.6h-3.2zM202.78,573.12l1.6,2.6h-3.2zM203.17,573.49l1.6,2.6h-3.2zM203.55,573.86l1.6,2.6h-3.2zM203.93,574.23l1.6,2.6h-3.2zM204.3,574.6l1.6,2.6h-3.2zM204.67,574.97l1.6,2.6h-3.2zM205.04,575.33l1.6,2.6h-3.2zM205.4,575.7l1.6,2.6h-3.2zM205.76,576.07l1.6,2.6h-3.2zM206.12,576.44l1.6,2.6h-3.2zM206.47,576.8l1.6,2.6h-3.2zM206.82,577.17l1.6,2.6h-3.2zM207.17,577.53l1.6,2.6h-3.2zM207.51,577.9l1.6,2.6h-3.2zM207.85,578.27l1.6,2.6h-3.2zM208.19,578.63l1.6,2.6h-3.2zM208.52,579l1.6,2.6h-3.2zM208.86,579.36l1.6,2.6h-3.2zM209.18,579.73l1.6,2.6h-3.2zM209.51,580.09l1.6,2.6h-3.2zM209.83,580.46l1.6,2.6h-3.2zM210.15,580.82l1.6,2.6h-3.2zM210.47,581.19l1.6,2.6h-3.2zM210.79,581.55l1.6,2.6h-3.2zM211.1,581.92l1.6,2.6h-3.2zM211.41,582.28l1.6,2.6h-3.2zM211.72,582.65l1.6,2.6h-3.2zM212.02,583.01l1.6,2.6h-3.2zM212.32,583.38l1.6,2.6h-3.2zM212.62,583.74l1.6,2.6h-3.2zM212.92,584.11l1.6,2.6h-3.2zM213.22,584.48l1.6,2.6h-3.2zM213.51,584.84l1.6,2.6h-3.2zM213.8,585.21l1.6,2.6h-3.2zM214.09,585.58l1.6,2.6h-3.2zM214.38,585.95l1.6,2.6h-3.2zM214.66,586.32l1.6,2.6h-3.2zM214.95,586.69l1.6,2.6h-3.2zM215.23,587.05l1.6,2.6h-3.2zM215.5,587.43l1.6,2.6h-3.2zM215.78,587.8l1.6,2.6h-3.2zM216.05,588.17l1.6,2.6h-3.2zM216.33,588.54l1.6,2.6h-3.2zM216.6,588.91l1.6,2.6h-3.2zM216.87,589.29l1.6,2.6h-3.2zM217.13,589.66l1.6,2.6h-3.2zM217.4,590.04l1.6,2.6h-3.2zM217.66,590.41l1.6,2.6h-3.2zM217.92,590.79l1.6,2.6h-3.2zM218.18,591.17l1.6,2.6h-3.2zM218.44,591.55l1.6,2.6h-3.2zM218.69,591.93l1.6,2.6h-3.2zM218.95,592.31l1.6,2.6h-3.2zM219.2,592.69l1.6,2.6h-3.2zM219.45,593.07l1.6,2.6h-3.2zM219.7,593.46l1.6,2.6h-3.2zM219.95,593.84l1.6,2.6h-3.2zM220.19,594.23l1.6,2.6h-3.2zM220.44,594.62l1.6,2.6h-3.2zM220.68,595.01l1.6,2.6h-3.2zM220.92,595.4l1.6,2.6h-3.2zM221.16,595.79l1.6,2.6h-3.2zM221.4,596.19l1.6,2.6h-3.2zM221.64,596.58l1.6,2.6h-3.2zM221.87,596.98l1.6,2.6h-3.2zM222.11,597.38l1.6,2.6h-3.2zM222.34,597.78l1.6,2.6h-3.2zM222.57,598.18l1.6,2.6h-3.2zM222.8,598.58l1.6,2.6h-3.2zM223.03,598.99l1.6,2.6h-3.2zM223.26,599.4l1.6,2.6h-3.2zM223.48,599.81l1.6,2.6h-3.2zM223.71,600.22l1.6,2.6h-3.2zM223.93,600.64l1.6,2.6h-3.2zM224.15,601.05l1.6,2.6h-3.2zM224.37,601.47l1.6,2.6h-3.2zM224.59,601.89l1.6,2.6h-3.2zM224.81,602.32l1.6,2.6h-3.2zM225.03,602.74l1.6,2.6h-3.2zM225.24,603.17l1.6,2.6h-3.2zM225.45,603.6l1.6,2.6h-3.2zM225.67,604.04l1.6,2.6h-3.2zM225.88,604.48l1.6,2.6h-3.2zM226.09,604.92l1.6,2.6h-3.2zM226.3,605.36l1.6,2.6h-3.2zM226.51,605.81l1.6,2.6h-3.2zM226.72,606.26l1.6,2.6h-3.2zM226.92,606.71l1.6,2.6h-3.2zM227.13,607.17l1.6,2.6h-3.2zM227.33,607.63l1.6,2.6h-3.2zM227.53,608.1l1.6,2.6h-3.2zM227.73,608.57l1.6,2.6h-3.2zM227.94,609.04l1.6,2.6h-3.2zM228.14,609.52l1.6,2.6h-3.2zM228.33,610l1.6,2.6h-3.2zM228.53,610.49l1.6,2.6h-3.2zM228.73,610.98l1.6,2.6h-3.2zM228.92,611.48l1.6,2.6h-3.2zM229.12,611.98l1.6,2.6h-3.2zM229.31,612.49l1.6,2.6h-3.2zM229.5,613l1.6,2.6h-3.2zM229.7,613.53l1.6,2.6h-3.2zM229.89,614.05l1.6,2.6h-3.2zM230.08,614.58l1.6,2.6h-3.2zM230.26,615.12l1.6,2.6h-3.2zM230.45,615.67l1.6,2.6h-3.2zM230.64,616.23l1.6,2.6h-3.2zM230.83,616.79l1.6,2.6h-3.2zM231.01,617.37l1.6,2.6h-3.2zM231.2,617.95l1.6,2.6h-3.2zM231.38,618.54l1.6,2.6h-3.2zM231.56,619.14l1.6,2.6h-3.2zM231.74,619.75l1.6,2.6h-3.2zM231.92,620.37l1.6,2.6h-3.2zM232.1,621.01l1.6,2.6h-3.2zM232.28,621.66l1.6,2.6h-3.2zM232.46,622.32l1.6,2.6h-3.2zM232.64,623l1.6,2.6h-3.2zM232.81,623.69l1.6,2.6h-3.2zM232.99,624.4l1.6,2.6h-3.2zM233.16,625.13l1.6,2.6h-3.2zM233.34,625.88l1.6,2.6h-3.2zM233.51,626.65l1.6,2.6h-3.2zM233.68,627.45l1.6,2.6h-3.2zM233.86,628.28l1.6,2.6h-3.2zM234.03,629.13l1.6,2.6h-3.2zM234.2,630.02l1.6,2.6h-3.2zM234.37,630.95l1.6,2.6h-3.2zM234.54,631.92l1.6,2.6h-3.2zM234.7,632.94l1.6,2.6h-3.2zM234.87,634.03l1.6,2.6h-3.2zM235.04,635.19l1.6,2.6h-3.2zM235.2,636.44l1.6,2.6h-3.2zM235.37,637.8l1.6,2.6h-3.2zM235.53,639.32l1.6,2.6h-3.2zM235.7,641.07l1.6,2.6h-3.2zM235.86,643.17l1.6,2.6h-3.2zM236.02,646.02l1.6,2.6h-3.2z" fill="#00ffff"/>
<path d="M42.94,494.92 L43.56,495.09 L44.17,495.25 L44.79,495.42 L45.41,495.59 L46.03,495.76 L46.64,495.93 L47.26,496.1 L47.88,496.27 L48.51,496.44 L49.13,496.61 L49.75,496.78 L50.37,496.95 L51,497.12 L51.62,497.3 L52.25,497.47 L52.88,497.64 L53.5,497.82 L54.13,497.99 L54.76,498.17 L55.39,498.35 L56.02,498.52 L56.65,498.7 L57.28,498.88 L57.91,499.06 L58.55,499.23 L59.18,499.41 L59.81,499.59 L60.45,499.77 L61.08,499.96 L61.72,500.14 L62.36,500.32 L62.99,500.5 L63.63,500.69 L64.27,500.87 L64.91,501.05 L65.55,501.24 L66.18,501.43 L66.82,501.61 L67.46,501.8 L68.11,501.99 L68.75,502.17 L69.39,502.36 L70.03,502.55 L70.67,502.74 L71.32,502.93 L71.96,503.13 L72.61,503.32 L73.25,503.51 L73.89,503.71 L74.54,503.9 L75.18,504.09 L75.83,504.29 L76.48,504.49 L77.12,504.68 L77.77,504.88 L78.42,505.08 L79.07,505.28 L79.71,505.48 L80.36,505.68 L81.01,505.88 L81.66,506.08 L82.31,506.29 L82.96,506.49 L83.61,506.69 L84.25,506.9 L84.9,507.11 L85.55,507.31 L86.2,507.52 L86.85,507.73 L87.51,507.94 L88.16,508.15 L88.81,508.36 L89.46,508.57 L90.11,508.78 L90.76,508.99 L91.41,509.21 L92.06,509.42 L92.71,509.64 L93.37,509.85 L94.02,510.07 L94.67,510.29 L95.32,510.51 L95.97,510.73 L96.62,510.95 L97.28,511.17 L97.93,511.39 L98.58,511.62 L99.23,511.84 L99.88,512.07 L100.53,512.29 L101.18,512.52 L101.84,512.75 L102.49,512.97 L103.14,513.2 L103.79,513.43 L104.44,513.66 L105.09,513.9 L105.74,514.13 L106.39,514.36 L107.04,514.6 L107.7,514.83 L108.35,515.07 L109,515.31 L109.65,515.55 L110.3,515.79 L110.94,516.03 L111.59,516.27 L112.24,516.51 L112.89,516.76 L113.54,517 L114.19,517.25 L114.84,517.49 L115.48,517.74 L116.13,517.99 L116.78,518.24 L117.43,518.49 L118.07,518.74 L118.72,518.99 L119.36,519.25 L120.01,519.5 L120.65,519.76 L121.3,520.01 L121.94,520.27 L122.59,520.53 L123.23,520.79 L123.87,521.05 L124.52,521.31 L125.16,521.58 L125.8,521.84 L126.44,522.11 L127.08,522.37 L127.72,522.64 L128.36,522.91 L129,523.18 L129.64,523.45 L130.28,523.72 L130.92,524 L131.56,524.27 L132.19,524.55 L132.83,524.82 L133.46,525.1 L134.1,525.38 L134.73,525.66 L135.37,525.94 L136,526.22 L136.63,526.51 L137.27,526.79 L137.9,527.08 L138.53,527.36 L139.16,527.65 L139.79,527.94 L140.42,528.23 L141.04,528.52 L141.67,528.82 L142.3,529.11 L142.92,529.41 L143.55,529.7 L144.17,530 L144.8,530.3 L145.42,530.6 L146.04,530.9 L146.66,531.21 L147.28,531.51 L147.9,531.81 L148.52,532.12 L149.14,532.43 L149.75,532.74 L150.37,533.05 L150.99,533.36 L151.6,533.67 L152.21,533.99 L152.83,534.3 L153.44,534.62 L154.05,534.94 L154.66,535.26 L155.27,535.58 L155.88,535.9 L156.48,536.23 L157.09,536.55 L157.69,536.88 L158.3,537.21 L158.9,537.53 L159.5,537.86 L160.11,538.2 L160.71,538.53 L161.3,538.86 L161.9,539.2 L162.5,539.54 L163.1,539.88 L163.69,540.22 L164.28,540.56 L164.88,540.9 L165.47,541.24 L166.06,541.59 L166.65,541.94 L167.23,542.28 L167.82,542.63 L168.41,542.99 L168.99,543.34 L169.58,543.69 L170.16,544.05 L170.74,544.41 L171.32,544.76 L171.9,545.12 L172.47,545.49 L173.05,545.85 L173.62,546.21 L174.2,546.58 L174.77,546.95 L175.34,547.32 L175.91,547.69 L176.48,548.06 L177.05,548.43 L177.61,548.81 L178.18,549.18 L178.74,549.56 L179.3,549.94 L179.86,550.32 L180.42,550.7 L180.98,551.09 L181.53,551.47 L182.09,551.86 L182.64,552.25 L183.19,552.64 L183.74,553.03 L184.29,553.43 L184.84,553.82 L185.38,554.22 L185.93,554.62 L186.47,555.02 L187.01,555.42 L187.55,555.82 L188.09,556.22 L188.63,556.63 L189.16,557.04 L189.7,557.45 L190.23,557.86 L190.76,558.27 L191.29,558.69 L191.81,559.1 L192.34,559.52 L192.86,559.94 L193.39,560.36 L193.91,560.78 L194.43,561.21 L194.94,561.63 L195.46,562.06 L195.97,562.49 L196.49,562.92 L197,563.36 L197.51,563.79 L198.01,564.23 L198.52,564.66 L199.02,565.1 L199.52,565.55 L200.02,565.99 L200.52,566.43 L201.02,566.88 L201.51,567.33 L202.01,567.78 L202.5,568.23 L202.99,568.68 L203.47,569.14 L203.96,569.6 L204.44,570.06 L204.93,570.52 L205.41,570.98 L205.88,571.44 L206.36,571.91 L206.83,572.38 L207.31,572.85 L207.78,573.32 L208.25,573.79 L208.71,574.27 L209.18,574.74 L209.64,575.22 L210.1,575.7 L210.56,576.19 L211.01,576.67 L211.47,577.16 L211.92,577.64 L212.37,578.13 L212.82,578.63 L213.27,579.12 L213.71,579.61 L214.15,580.11 L214.59,580.61 L215.03,581.11 L215.47,581.62 L215.9,582.12 L216.33,582.63 L216.76,583.14 L217.19,583.65 L217.61,584.16 L218.04,584.67 L218.46,585.19 L218.88,585.71 L219.29,586.23 L219.71,586.75 L220.12,587.27 L220.53,587.8 L220.94,588.33 L221.34,588.86 L221.74,589.39 L222.14,589.92 L222.54,590.46 L222.94,591 L223.33,591.54 L223.72,592.08 L224.11,592.62 L224.5,593.17 L224.88,593.72 L225.27,594.27 L225.65,594.82 L226.02,595.37 L226.4,595.93 L226.77,596.49 L227.14,597.05 L227.51,597.61 L227.87,598.18 L228.24,598.74 L228.6,599.31 L228.95,599.88 L229.31,600.45 L229.66,601.03 L230.01,601.6 L230.36,602.18 L230.7,602.76 L231.05,603.35 L231.39,603.93 L231.73,604.52 L232.06,605.11 L232.39,605.7 L232.72,606.29 L233.05,606.89 L233.37,607.49 L233.7,608.09 L234.02,608.69 L234.33,609.29 L234.65,609.9 L234.96,610.51 L235.27,611.12 L235.57,611.73 L235.88,612.35 L236.18,612.96 L236.48,613.58 L236.77,614.21 L237.06,614.83 L237.35,615.46 L237.64,616.08 L237.93,616.71 L238.21,617.35 L238.49,617.98 L238.76,618.62 L239.03,619.26 L239.31,619.9 L239.57,620.54 L239.84,621.19 L240.1,621.84 L240.36,622.49 L240.61,623.14 L240.87,623.8 L241.12,624.45 L241.37,625.11 L241.61,625.77 L241.85,626.44 L242.09,627.1 L242.33,627.77 L242.56,628.44 L242.79,629.12 L243.02,629.79 L243.24,630.47 L243.46,631.15 L243.68,631.83 L243.89,632.52 L244.11,633.21 L244.32,633.9 L244.52,634.59 L244.72,635.28 L244.92,635.98 L245.12,636.68 L245.31,637.38 L245.5,638.08 L245.69,638.79 L245.88,639.5 L246.06,640.21 L246.24,640.92 L246.41,641.64 L246.58,642.36 L246.75,643.08 L246.92,643.8 L247.08,644.53 L247.24,645.25 L247.39,645.98 L247.54,646.72 L247.69,647.45 L247.84,648.19 L247.98,648.93 L248.12,649.67" fill="none" stroke="#ff0000" stroke-width="1.5"/>
<path d="M150.37,533.05 L150.99,533.36 L151.6,533.67 L152.21,533.99 L152.83,534.3 L153.44,534.62 L154.05,534.94 L154.66,535.26 L155.27,535.58 L155.88,535.9 L156.48,536.23 L157.09,536.55 L157.69,536.88 L158.3,537.21 L158.9,537.53 L159.5,537.86 L160.11,538.2 L160.71,538.53 L161.3,538.86 L161.9,539.2 L162.5,539.54 L163.1,539.88 L163.69,540.22 L164.28,540.56 L164.88,540.9 L165.47,541.24 L166.06,541.59 L166.65,541.94 L167.23,542.28 L167.82,542.63 L168.41,542.99 L168.99,543.34 L169.58,543.69 L170.16,544.05 L170.74,544.41 L171.32,544.76 L171.9,545.12 L172.47,545.49 L173.05,545.85 L173.62,546.21 L174.2,546.58 L174.77,546.95 L175.34,547.32 L175.91,547.69 L176.48,548.06 L177.05,548.43 L177.61,548.81 L178.18,549.18 L178.74,549.56 L179.3,549.94 L179.86,550.32 L180.42,550.7 L180.98,551.09 L181.53,551.47 L182.09,551.86 L182.64,552.25 L183.19,552.64 L183.74,553.03 L184.29,553.43 L184.84,553.82 L185.38,554.22 L185.93,554.62 L186.47,555.02 L187.01,555.42 L187.55,555.82 L188.09,556.22 L188.63,556.63 L189.16,557.04 L189.7,557.45 L190.23,557.86 L190.76,558.27 L191.29,558.69 L191.81,559.1 L192.34,559.52 L192.86,559.94 L193.39,560.36 L193.91,560.78 L194.43,561.21 L194.94,561.63 L195.46,562.06 L195.97,562.49 L196.49,562.92 L197,563.36 L197.51,563.79 L198.01,564.23 L198.52,564.66 L199.02,565.1 L199.52,565.55 L200.02,565.99 L200.52,566.43 L201.02,566.88 L201.51,567.33 L202.01,567.78 L202.5,568.23 L202.99,568.68 L203.47,569.14 L203.96,569.6 L204.44,570.06 L204.93,570.52 L205.41,570.98 L205.88,571.44 L206.36,571.91 L206.83,572.38 L207.31,572.85 L207.78,573.32 L208.25,573.79 L208.71,574.27 L209.18,574.74 L209.64,575.22 L210.1,575.7 L210.56,576.19 L211.01,576.67 L211.47,577.16 L211.92,577.64 L212.37,578.13 L212.82,578.63 L213.27,579.12 L213.71,579.61 L214.15,580.11 L214.59,580.61 L215.03,581.11 L215.47,581.62 L215.9,582.12 L216.33,582.63 L216.76,583.14 L217.19,583.65 L217.61,584.16 L218.04,584.67 L218.46,585.19 L218.88,585.71 L219.29,586.23 L219.71,586.75 L220.12,587.27 L220.53,587.8 L220.94,588.33 L221.34,588.86 L221.74,589.39 L222.14,589.92 L222.54,590.46 L222.94,591 L223.33,591.54 L223.72,592.08 L224.11,592.62 L224.5,593.17 L224.88,593.72 L225.27,594.27 L225.65,594.82 L226.02,595.37 L226.4,595.93 L226.77,596.49 L227.14,597.05 L227.51,597.61 L227.87,598.18 L228.24,598.74 L228.6,599.31 L228.95,599.88 L229.31,600.45 L229.66,601.03 L230.01,601.6 L230.36,602.18 L230.7,602.76 L231.05,603.35 L231.39,603.93 L231.73,604.52 L232.06,605.11 L232.39,605.7 L232.72,606.29 L233.05,606.89 L233.37,607.49 L233.7,608.09 L234.02,608.69 L234.33,609.29 L234.65,609.9 L234.96,610.51 L235.27,611.12 L235.57,611.73 L235.88,612.35 L236.18,612.96 L236.48,613.58 L236.77,614.21 L237.06,614.83 L237.35,615.46 L237.64,616.08 L237.93,616.71 L238.21,617.35 L238.49,617.98 L238.76,618.62 L239.03,619.26 L239.31,619.9 L239.57,620.54 L239.84,621.19 L240.1,621.84 L240.36,622.49 L240.61,623.14 L240.87,623.8 L241.12,624.45 L241.37,625.11 L241.61,625.77 L241.85,626.44 L242.09,627.1 L242.33,627.77 L242.56,628.44 L242.79,629.12 L243.02,629.79 L243.24,630.47 L243.46,631.15 L243.68,631.83 L243.89,632.52 L244.11,633.21 L244.32,633.9 L244.52,634.59 L244.72,635.28 L244.92,635.98 L245.12,636.68 L245.31,637.38 L245.5,638.08 L245.69,638.79 L245.88,639.5 L246.06,640.21 L246.24,640.92 L246.41,641.64 L246.58,642.36 L246.75,643.08 L246.92,643.8 L247.08,644.53 L247.24,645.25 L247.39,645.98 L247.54,646.72 L247.69,647.45 L247.84,648.19 L247.98,648.93 L248.12,649.67" fill="none" stroke="#ff0000" stroke-width="3.6" stroke-linecap="round"/>
<path d="M43.22,493.4l1.6,2.6h-3.2zM62.7,498.82l1.6,2.6h-3.2zM75.53,502.6l1.6,2.6h-3.2zM85.11,505.57l1.6,2.6h-3.2zM92.76,508.06l1.6,2.6h-3.2zM99.13,510.21l1.6,2.6h-3.2zM104.59,512.12l1.6,2.6h-3.2zM109.36,513.84l1.6,2.6h-3.2zM113.6,515.43l1.6,2.6h-3.2zM117.42,516.89l1.6,2.6h-3.2zM120.89,518.25l1.6,2.6h-3.2zM124.07,519.53l1.6,2.6h-3.2zM127,520.74l1.6,2.6h-3.2zM129.73,521.89l1.6,2.6h-3.2zM132.27,522.98l1.6,2.6h-3.2zM134.66,524.02l1.6,2.6h-3.2zM136.9,525.03l1.6,2.6h-3.2zM139.02,525.99l1.6,2.6h-3.2zM141.03,526.92l1.6,2.6h-3.2zM142.93,527.81l1.6,2.6h-3.2zM144.75,528.68l1.6,2.6h-3.2zM146.48,529.52l1.6,2.6h-3.2zM148.14,530.33l1.6,2.6h-3.2zM149.73,531.13l1.6,2.6h-3.2zM151.26,531.9l1.6,2.6h-3.2zM152.72,532.65l1.6,2.6h-3.2zM154.13,533.38l1.6,2.6h-3.2zM155.5,534.1l1.6,2.6h-3.2zM156.81,534.8l1.6,2.6h-3.2zM158.08,535.49l1.6,2.6h-3.2zM159.31,536.16l1.6,2.6h-3.2zM160.5,536.82l1.6,2.6h-3.2zM161.66,537.46l1.6,2.6h-3.2zM162.78,538.1l1.6,2.6h-3.2zM163.87,538.72l1.6,2.6h-3.2zM164.93,539.33l1.6,2.6h-3.2zM165.96,539.93l1.6,2.6h-3.2zM166.96,540.52l1.6,2.6h-3.2zM167.94,541.11l1.6,2.6h-3.2zM168.9,541.68l1.6,2.6h-3.2zM169.83,542.25l1.6,2.6h-3.2zM170.73,542.8l1.6,2.6h-3.2zM171.62,543.35l1.6,2.6h-3.2zM172.49,543.89l1.6,2.6h-3.2zM173.33,544.43l1.6,2.6h-3.2zM174.16,544.96l1.6,2.6h-3.2zM174.97,545.48l1.6,2.6h-3.2zM175.77,545.99l1.6,2.6h-3.2zM176.55,546.5l1.6,2.6h-3.2zM177.31,547.01l1.6,2.6h-3.2zM178.06,547.5l1.6,2.6h-3.2zM178.79,548l1.6,2.6h-3.2zM179.51,548.48l1.6,2.6h-3.2zM180.22,548.97l1.6,2.6h-3.2zM180.91,549.44l1.6,2.6h-3.2zM181.59,549.91l1.6,2.6h-3.2zM182.26,550.38l1.6,2.6h-3.2zM182.92,550.85l1.6,2.6h-3.2zM183.56,551.3l1.6,2.6h-3.2zM184.2,551.76l1.6,2.6h-3.2zM184.82,552.21l1.6,2.6h-3.2zM185.44,552.66l1.6,2.6h-3.2zM186.04,553.1l1.6,2.6h-3.2zM186.64,553.54l1.6,2.6h-3.2zM187.23,553.98l1.6,2.6h-3.2zM187.8,554.41l1.6,2.6h-3.2zM188.37,554.84l1.6,2.6h-3.2zM188.93,555.27l1.6,2.6h-3.2zM189.49,555.69l1.6,2.6h-3.2zM190.03,556.11l1.6,2.6h-3.2zM190.57,556.52l1.6,2.6h-3.2zM191.1,556.94l1.6,2.6h-3.2zM191.62,557.35l1.6,2.6h-3.2zM192.14,557.76l1.6,2.6h-3.2zM192.64,558.16l1.6,2.6h-3.2zM193.15,558.57l1.6,2.6h-3.2zM193.64,558.97l1.6,2.6h-3.2zM194.13,559.37l1.6,2.6h-3.2zM194.61,559.76l1.6,2.6h-3.2zM195.09,560.16l1.6,2.6h-3.2zM195.56,560.55l1.6,2.6h-3.2zM196.03,560.94l1.6,2.6h-3.2zM196.48,561.32l1.6,2.6h-3.2zM196.94,561.71l1.6,2.6h-3.2zM197.39,562.09l1.6,2.6h-3.2zM197.83,562.47l1.6,2.6h-3.2zM198.27,562.85l1.6,2.6h-3.2zM198.7,563.23l1.6,2.6h-3.2zM199.13,563.6l1.6,2.6h-3.2zM199.55,563.97l1.6,2.6h-3.2zM199.97,564.34l1.6,2.6h-3.2zM200.39,564.71l1.6,2.6h-3.2zM200.8,565.08l1.6,2.6h-3.2zM201.2,565.45l1.6,2.6h-3.2zM201.61,565.81l1.6,2.6h-3.2zM202,566.17l1.6,2.6h-3.2zM202.4,566.54l1.6,2.6h-3.2zM202.78,566.9l1.6,2.6h-3.2zM203.17,567.25l1.6,2.6h-3.2zM203.55,567.61l1.6,2.6h-3.2zM203.93,567.97l1.6,2.6h-3.2zM204.3,568.32l1.6,2.6h-3.2zM204.67,568.67l1.6,2.6h-3.2zM205.04,569.03l1.6,2.6h-3.2zM205.4,569.38l1.6,2.6h-3.2zM205.76,569.72l1.6,2.6h-3.2zM206.12,570.07l1.6,2.6h-3.2zM206.47,570.42l1.6,2.6h-3.2zM206.82,570.76l1.6,2.6h-3.2zM207.17,571.11l1.6,2.6h-3.2zM207.51,571.45l1.6,2.6h-3.2zM207.85,571.79l1.6,2.6h-3.2zM208.19,572.13l1.6,2.6h-3.2zM208.52,572.47l1.6,2.6h-3.2zM208.86,572.81l1.6,2.6h-3.2zM209.18,573.15l1.6,2.6h-3.2zM209.51,573.49l1.6,2.6h-3.2zM209.83,573.82l1.6,2.6h-3.2zM210.15,574.16l1.6,2.6h-3.2zM210.47,574.49l1.6,2.6h-3.2zM210.79,574.83l1.6,2.6h-3.2zM211.1,575.16l1.6,2.6h-3.2zM211.41,575.49l1.6,2.6h-3.2zM211.72,575.82l1.6,2.6h-3.2zM212.02,576.15l1.6,2.6h-3.2zM212.32,576.48l1.6,2.6h-3.2zM212.62,576.81l1.6,2.6h-3.2zM212.92,577.14l1.6,2.6h-3.2zM213.22,577.46l1.6,2.6h-3.2zM213.51,577.79l1.6,2.6h-3.2zM213.8,578.12l1.6,2.6h-3.2zM214.09,578.44l1.6,2.6h-3.2zM214.38,578.77l1.6,2.6h-3.2zM214.66,579.09l1.6,2.6h-3.2zM214.95,579.41l1.6,2.6h-3.2zM215.23,579.74l1.6,2.6h-3.2zM215.5,580.06l1.6,2.6h-3.2zM215.78,580.38l1.6,2.6h-3.2zM216.05,580.7l1.6,2.6h-3.2zM216.33,581.02l1.6,2.6h-3.2zM216.6,581.34l1.6,2.6h-3.2zM216.87,581.66l1.6,2.6h-3.2zM217.13,581.98l1.6,2.6h-3.2zM217.4,582.3l1.6,2.6h-3.2zM217.66,582.61l1.6,2.6h-3.2zM217.92,582.93l1.6,2.6h-3.2zM218.18,583.25l1.6,2.6h-3.2zM218.44,583.57l1.6,2.6h-3.2zM218.69,583.88l1.6,2.6h-3.2zM218.95,584.2l1.6,2.6h-3.2zM219.2,584.51l1.6,2.6h-3.2zM219.45,584.83l1.6,2.6h-3.2zM219.7,585.14l1.6,2.6h-3.2zM219.95,585.46l1.6,2.6h-3.2zM220.19,585.77l1.6,2.6h-3.2zM220.44,586.09l1.6,2.6h-3.2zM220.68,586.4l1.6,2.6h-3.2zM220.92,586.71l1.6,2.6h-3.2zM221.16,587.03l1.6,2.6h-3.2zM221.4,587.34l1.6,2.6h-3.2zM221.64,587.65l1.6,2.6h-3.2zM221.87,587.96l1.6,2.6h-3.2zM222.11,588.28l1.6,2.6h-3.2zM222.34,588.59l1.6,2.6h-3.2zM222.57,588.9l1.6,2.6h-3.2zM222.8,589.21l1.6,2.6h-3.2zM223.03,589.52l1.6,2.6h-3.2zM223.26,589.83l1.6,2.6h-3.2zM223.48,590.15l1.6,2.6h-3.2zM223.71,590.46l1.6,2.6h-3.2zM223.93,590.77l1.6,2.6h-3.2zM224.15,591.08l1.6,2.6h-3.2zM224.37,591.39l1.6,2.6h-3.2zM224.59,591.7l1.6,2.6h-3.2zM224.81,592.01l1.6,2.6h-3.2zM225.03,592.32l1.6,2.6h-3.2zM225.24,592.63l1.6,2.6h-3.2zM225.45,592.94l1.6,2.6h-3.2zM225.67,593.25l1.6,2.6h-3.2zM225.88,593.56l1.6,2.6h-3.2zM226.09,593.87l1.6,2.6h-3.2zM226.3,594.19l1.6,2.6h-3.2zM226.51,594.5l1.6,2.6h-3.2zM226.72,594.81l1.6,2.6h-3.2zM226.92,595.12l1.6,2.6h-3.2zM227.13,595.43l1.6,2.6h-3.2zM227.33,595.74l1.6,2.6h-3.2zM227.53,596.05l1.6,2.6h-3.2zM227.73,596.36l1.6,2.6h-3.2zM227.94,596.67l1.6,2.6h-3.2zM228.14,596.99l1.6,2.6h-3.2zM228.33,597.3l1.6,2.6h-3.2zM228.53,597.61l1.6,2.6h-3.2zM228.73,597.92l1.6,2.6h-3.2zM228.92,598.23l1.6,2.6h-3.2zM229.12,598.55l1.6,2.6h-3.2zM229.31,598.86l1.6,2.6h-3.2zM229.5,599.17l1.6,2.6h-3.2zM229.7,599.48l1.6,2.6h-3.2zM229.89,599.8l1.6,2.6h-3.2zM230.08,600.11l1.6,2.6h-3.2zM230.26,600.43l1.6,2.6h-3.2zM230.45,600.74l1.6,2.6h-3.2zM230.64,601.06l1.6,2.6h-3.2zM230.83,601.37l1.6,2.6h-3.2zM231.01,601.69l1.6,2.6h-3.2zM231.2,602l1.6,2.6h-3.2zM231.38,602.32l1.6,2.6h-3.2zM231.56,602.63l1.6,2.6h-3.2zM231.74,602.95l1.6,2.6h-3.2zM231.92,603.27l1.6,2.6h-3.2zM232.1,603.58l1.6,2.6h-3.2zM232.28,603.9l1.6,2.6h-3.2zM232.46,604.22l1.6,2.6h-3.2zM232.64,604.54l1.6,2.6h-3.2zM232.81,604.86l1.6,2.6h-3.2zM232.99,605.18l1.6,2.6h-3.2zM233.16,605.5l1.6,2.6h-3.2zM233.34,605.82l1.6,2.6h-3.2zM233.51,606.14l1.6,2.6h-3.2zM233.68,606.47l1.6,2.6h-3.2zM233.86,606.79l1.6,2.6h-3.2zM234.03,607.11l1.6,2.6h-3.2zM234.2,607.44l1.6,2.6h-3.2zM234.37,607.76l1.6,2.6h-3.2zM234.54,608.09l1.6,2.6h-3.2zM234.7,608.41l1.6,2.6h-3.2zM234.87,608.74l1.6,2.6h-3.2zM235.04,609.06l1.6,2.6h-3.2zM235.2,609.39l1.6,2.6h-3.2zM235.37,609.72l1.6,2.6h-3.2zM235.53,610.05l1.6,2.6h-3.2zM235.7,610.38l1.6,2.6h-3.2zM235.86,610.71l1.6,2.6h-3.2zM236.02,611.04l1.6,2.6h-3.2zM236.18,611.38l1.6,2.6h-3.2zM236.34,611.71l1.6,2.6h-3.2zM236.5,612.04l1.6,2.6h-3.2zM236.66,612.38l1.6,2.6h-3.2zM236.82,612.72l1.6,2.6h-3.2zM236.98,613.05l1.6,2.6h-3.2zM237.14,613.39l1.6,2.6h-3.2zM237.3,613.73l1.6,2.6h-3.2zM237.45,614.07l1.6,2.6h-3.2zM237.61,614.41l1.6,2.6h-3.2zM237.76,614.75l1.6,2.6h-3.2zM237.92,615.1l1.6,2.6h-3.2zM238.07,615.44l1.6,2.6h-3.2zM238.22,615.79l1.6,2.6h-3.2zM238.38,616.13l1.6,2.6h-3.2zM238.53,616.48l1.6,2.6h-3.2zM238.68,616.83l1.6,2.6h-3.2zM238.83,617.18l1.6,2.6h-3.2zM238.98,617.53l1.6,2.6h-3.2zM239.13,617.88l1.6,2.6h-3.2zM239.28,618.24l1.6,2.6h-3.2zM239.43,618.59l1.6,2.6h-3.2zM239.57,618.95l1.6,2.6h-3.2zM239.72,619.31l1.6,2.6h-3.2zM239.87,619.67l1.6,2.6h-3.2zM240.01,620.03l1.6,2.6h-3.2zM240.16,620.39l1.6,2.6h-3.2zM240.31,620.75l1.6,2.6h-3.2zM240.45,621.12l1.6,2.6h-3.2zM240.59,621.49l1.6,2.6h-3.2zM240.74,621.86l1.6,2.6h-3.2zM240.88,622.23l1.6,2.6h-3.2zM241.02,622.6l1.6,2.6h-3.2zM241.16,622.97l1.6,2.6h-3.2zM241.31,623.35l1.6,2.6h-3.2zM241.45,623.73l1.6,2.6h-3.2zM241.59,624.11l1.6,2.6h-3.2zM241.73,624.49l1.6,2.6h-3.2zM241.86,624.87l1.6,2.6h-3.2zM242,625.26l1.6,2.6h-3.2zM242.14,625.65l1.6,2.6h-3.2zM242.28,626.04l1.6,2.6h-3.2zM242.42,626.43l1.6,2.6h-3.2zM242.55,626.83l1.6,2.6h-3.2zM242.69,627.23l1.6,2.6h-3.2zM242.83,627.62l1.6,2.6h-3.2zM242.96,628.03l1.6,2.6h-3.2zM243.1,628.43l1.6,2.6h-3.2zM243.23,628.84l1.6,2.6h-3.2zM243.36,629.25l1.6,2.6h-3.2zM243.5,629.66l1.6,2.6h-3.2zM243.63,630.08l1.6,2.6h-3.2zM243.76,630.5l1.6,2.6h-3.2zM243.89,630.92l1.6,2.6h-3.2zM244.03,631.34l1.6,2.6h-3.2zM244.16,631.77l1.6,2.6h-3.2zM244.29,632.2l1.6,2.6h-3.2zM244.42,632.64l1.6,2.6h-3.2zM244.55,633.08l1.6,2.6h-3.2zM244.68,633.52l1.6,2.6h-3.2zM244.8,633.97l1.6,2.6h-3.2zM244.93,634.41l1.6,2.6h-3.2zM245.06,634.87l1.6,2.6h-3.2zM245.19,635.33l1.6,2.6h-3.2zM245.32,635.79l1.6,2.6h-3.2zM245.44,636.25l1.6,2.6h-3.2zM245.57,636.73l1.6,2.6h-3.2zM245.69,637.2l1.6,2.6h-3.2zM245.82,637.68l1.6,2.6h-3.2zM245.94,638.17l1.6,2.6h-3.2zM246.07,638.66l1.6,2.6h-3.2zM246.19,639.16l1.6,2.6h-3.2zM246.32,639.66l1.6,2.6h-3.2zM246.44,640.17l1.6,2.6h-3.2zM246.56,640.68l1.6,2.6h-3.2zM246.69,641.2l1.6,2.6h-3.2zM246.81,641.73l1.6,2.6h-3.2zM246.93,642.27l1.6,2.6h-3.2zM247.05,642.81l1.6,2.6h-3.2zM247.17,643.36l1.6,2.6h-3.2zM247.29,643.92l1.6,2.6h-3.2zM247.41,644.49l1.6,2.6h-3.2zM247.53,645.06l1.6,2.6h-3.2zM247.65,645.65l1.6,2.6h-3.2zM247.77,646.25l1.6,2.6h-3.2zM247.89,646.85l1.6,2.6h-3.2zM248.01,647.47l1.6,2.6h-3.2z" fill="#ff0000"/>
</g>
<path d="M118.70,506.50L119.85,509.72L123.27,509.82L120.55,511.90L121.52,515.18L118.70,513.25L115.88,515.18L116.85,511.90L114.13,509.82L117.55,509.72Z" fill="#404040"/>
<circle cx="118.7" cy="521.8" r="3.1" fill="#404040"/>
<path d="M181.10,460.00L182.33,463.50L186.05,463.59L183.10,465.85L184.16,469.41L181.10,467.30L178.04,469.41L179.10,465.85L176.15,463.59L179.87,463.50Z" fill="#404040"/>
<circle cx="181.1" cy="478.6" r="3.0" fill="#404040"/>
<text x="190.9" y="468.4" font-size="10.75" text-anchor="start" font-weight="normal" fill="#111" stroke="#111" stroke-width="0.22" >DOE 2020 Target</text>
<text x="190.9" y="482.3" font-size="10.75" text-anchor="start" font-weight="normal" fill="#111" stroke="#111" stroke-width="0.22" >DOE 2018 Target</text>
<text x="101.3" y="486.8" font-size="10.75" text-anchor="start" font-weight="normal" fill="#111" stroke="#111" stroke-width="0.22" >0.022 A cm<tspan baseline-shift="4.2" font-size="7.4">−2</tspan></text>
<text x="111.9" y="500.2" font-size="10.75" text-anchor="start" font-weight="normal" fill="#111" stroke="#111" stroke-width="0.22" >@ 0.9 V</text>
<path d="M111.5,493L95,506.8" stroke="#000" stroke-width="0.8"/>
<path d="M92.6,508.8L94.2,503.9L97.3,507.6Z" fill="#000"/>
<path d="M153.1,577.8L186.5,567.6" stroke="#000" stroke-width="0.8"/>
<path d="M190,566.6L185.3,565.2L186.7,569.8Z" fill="#000"/>
<text x="85" y="588" font-size="10.75" text-anchor="start" font-weight="normal" fill="#111" stroke="#111" stroke-width="0.22" >0.3 A cm<tspan baseline-shift="4.2" font-size="7.4">−2</tspan> / 115 A cm<tspan baseline-shift="4.2" font-size="7.4">−3</tspan></text>
<text x="122.8" y="601.4" font-size="10.75" text-anchor="start" font-weight="normal" fill="#111" stroke="#111" stroke-width="0.22" >@ 0.8 V</text>
<path d="M57.4,620.7H82.3" stroke="#ff0000" stroke-width="2"/>
<path d="M70.2,619.08L71.7,621.78L68.7,621.78Z" fill="#ff0000" stroke="#ff0000" stroke-width="0.3"/>
<path d="M57.4,636.6H82.3" stroke="#00ffff" stroke-width="2"/>
<path d="M70.2,634.98L71.7,637.68L68.7,637.68Z" fill="#00ffff" stroke="#00ffff" stroke-width="0.3"/>
<text x="86" y="625" font-size="10.75" text-anchor="start" font-weight="normal" fill="#111" stroke="#111" stroke-width="0.22" >2.7 mg cm<tspan baseline-shift="4.2" font-size="7.4">−2</tspan></text>
<text x="86" y="640.8" font-size="10.75" text-anchor="start" font-weight="normal" fill="#111" stroke="#111" stroke-width="0.22" >1.0 mg cm<tspan baseline-shift="4.2" font-size="7.4">−2</tspan></text>
<rect x="400.9" y="456.5" width="238.4" height="191.5" fill="none" stroke="#8a8a8a" stroke-width="1"/>
<path d="M400.9,648h-4M400.9,609.7h-4M400.9,571.4h-4M400.9,533.1h-4M400.9,494.8h-4M400.9,456.5h-4" stroke="#8a8a8a" stroke-width="1" fill="none"/>
<path d="M400.9,628.85h-2.5M400.9,590.55h-2.5M400.9,552.25h-2.5M400.9,513.95h-2.5M400.9,475.65h-2.5" stroke="#8a8a8a" stroke-width="1" fill="none"/>
<path d="M639.3,648h4M639.3,609.7h4M639.3,571.4h4M639.3,533.1h4M639.3,494.8h4M639.3,456.5h4" stroke="#8a8a8a" stroke-width="1" fill="none"/>
<path d="M639.3,628.85h2.5M639.3,590.55h2.5M639.3,552.25h2.5M639.3,513.95h2.5M639.3,475.65h2.5" stroke="#8a8a8a" stroke-width="1" fill="none"/>
<path d="M401.2,648v4M440.8,648v4M480.4,648v4M520,648v4M559.6,648v4M599.2,648v4M638.8,648v4" stroke="#8a8a8a" stroke-width="1" fill="none"/>
<path d="M421,648v2.5M460.6,648v2.5M500.2,648v2.5M539.8,648v2.5M579.4,648v2.5M619,648v2.5" stroke="#8a8a8a" stroke-width="1" fill="none"/>
<text x="391.8" y="651.8" font-size="10.75" text-anchor="end" font-weight="normal" fill="#111" stroke="#111" stroke-width="0.22" >0.0</text>
<text x="391.8" y="613.5" font-size="10.75" text-anchor="end" font-weight="normal" fill="#111" stroke="#111" stroke-width="0.22" >0.2</text>
<text x="391.8" y="575.2" font-size="10.75" text-anchor="end" font-weight="normal" fill="#111" stroke="#111" stroke-width="0.22" >0.4</text>
<text x="391.8" y="536.9" font-size="10.75" text-anchor="end" font-weight="normal" fill="#111" stroke="#111" stroke-width="0.22" >0.6</text>
<text x="391.8" y="498.6" font-size="10.75" text-anchor="end" font-weight="normal" fill="#111" stroke="#111" stroke-width="0.22" >0.8</text>
<text x="391.8" y="460.3" font-size="10.75" text-anchor="end" font-weight="normal" fill="#111" stroke="#111" stroke-width="0.22" >1.0</text>
<text x="647.6" y="651.8" font-size="10.75" text-anchor="start" font-weight="normal" fill="#111" stroke="#111" stroke-width="0.22" >0.0</text>
<text x="647.6" y="613.5" font-size="10.75" text-anchor="start" font-weight="normal" fill="#111" stroke="#111" stroke-width="0.22" >0.1</text>
<text x="647.6" y="575.2" font-size="10.75" text-anchor="start" font-weight="normal" fill="#111" stroke="#111" stroke-width="0.22" >0.2</text>
<text x="647.6" y="536.9" font-size="10.75" text-anchor="start" font-weight="normal" fill="#111" stroke="#111" stroke-width="0.22" >0.3</text>
<text x="647.6" y="498.6" font-size="10.75" text-anchor="start" font-weight="normal" fill="#111" stroke="#111" stroke-width="0.22" >0.4</text>
<text x="647.6" y="460.3" font-size="10.75" text-anchor="start" font-weight="normal" fill="#111" stroke="#111" stroke-width="0.22" >0.5</text>
<text x="401.2" y="665.3" font-size="10.75" text-anchor="middle" font-weight="normal" fill="#111" stroke="#111" stroke-width="0.22" >0.0</text>
<text x="440.8" y="665.3" font-size="10.75" text-anchor="middle" font-weight="normal" fill="#111" stroke="#111" stroke-width="0.22" >0.2</text>
<text x="480.4" y="665.3" font-size="10.75" text-anchor="middle" font-weight="normal" fill="#111" stroke="#111" stroke-width="0.22" >0.4</text>
<text x="520" y="665.3" font-size="10.75" text-anchor="middle" font-weight="normal" fill="#111" stroke="#111" stroke-width="0.22" >0.6</text>
<text x="559.6" y="665.3" font-size="10.75" text-anchor="middle" font-weight="normal" fill="#111" stroke="#111" stroke-width="0.22" >0.8</text>
<text x="599.2" y="665.3" font-size="10.75" text-anchor="middle" font-weight="normal" fill="#111" stroke="#111" stroke-width="0.22" >1.0</text>
<text x="638.8" y="665.3" font-size="10.75" text-anchor="middle" font-weight="normal" fill="#111" stroke="#111" stroke-width="0.22" >1.2</text>
<text x="463" y="682.6" font-size="10.75" text-anchor="start" font-weight="normal" fill="#111" stroke="#111" stroke-width="0.22" >Current density (A cm<tspan baseline-shift="4.2" font-size="7.4">−2</tspan>)</text>
<text x="0" y="0" font-size="10.75" text-anchor="middle" font-weight="normal" fill="#111" stroke="#111" stroke-width="0.22" transform="translate(367.5,552) rotate(-90)">Cell voltage (V)</text>
<text x="0" y="0" font-size="10.75" text-anchor="middle" font-weight="normal" fill="#111" stroke="#111" stroke-width="0.22" transform="translate(674.5,552) rotate(90)">Power density (W cm<tspan baseline-shift="4.2" font-size="7.4">−2</tspan>)</text>
<text x="342.4" y="454.6" font-size="13.2" text-anchor="start" font-weight="bold" fill="#000" stroke="#000" stroke-width="0.22" >e</text>
<path d="M401,473.7C401.13,474.5 401.42,477.02 401.8,478.5C402.18,479.98 402.65,481.35 403.3,482.6C403.95,483.85 404.92,485.07 405.7,486C406.48,486.93 407.05,487.5 408,488.2C408.95,488.9 409.57,489.3 411.4,490.2C413.23,491.1 415.83,492.45 419,493.6C422.17,494.75 426.62,496.05 430.4,497.1C434.18,498.15 437.6,498.93 441.7,499.9C445.8,500.87 450.88,501.95 455,502.9C459.12,503.85 462.6,504.67 466.4,505.6C470.2,506.53 474,507.47 477.8,508.5C481.6,509.53 485.4,510.65 489.2,511.8C493,512.95 497.13,514.25 500.6,515.4C504.07,516.55 506.53,517.33 510,518.7C513.47,520.07 518.07,522.08 521.4,523.6C524.73,525.12 527.35,526.38 530,527.8C532.65,529.22 534.02,529.93 537.3,532.1C540.58,534.27 545.57,537.48 549.7,540.8C553.83,544.12 557.97,547.65 562.1,552C566.23,556.35 570.77,561.8 574.5,566.9C578.23,572 580.77,576.4 584.5,582.6C588.23,588.8 593.6,598.33 596.9,604.1C600.2,609.87 601.9,612.57 604.3,617.2C606.7,621.83 610.13,629.45 611.3,631.9" fill="none" stroke="#ff0000" stroke-width="1.7"/>
<path d="M401,648C402.65,645.43 407.6,637.67 410.9,632.6C414.2,627.53 415.85,624.9 420.8,617.6C425.75,610.3 433.95,598.32 440.6,588.8C447.25,579.28 455.45,567.7 460.7,560.5C465.95,553.3 468.3,550.38 472.1,545.6C475.9,540.82 479.7,536.13 483.5,531.8C487.3,527.47 491.1,523.57 494.9,519.6C498.7,515.63 502.52,511.5 506.3,508C510.08,504.5 514.65,500.85 517.6,498.6C520.55,496.35 521.93,495.67 524,494.5C526.07,493.33 528,492.45 530,491.6C532,490.75 534,490.02 536,489.4C538,488.78 539.92,488.25 542,487.9C544.08,487.55 546.33,487.23 548.5,487.3C550.67,487.37 552.93,487.68 555,488.3C557.07,488.92 558.9,489.68 560.9,491C562.9,492.32 564.93,493.93 567,496.2C569.07,498.47 571.3,501.47 573.3,504.6C575.3,507.73 577.13,511.07 579,515C580.87,518.93 582.58,523.2 584.5,528.2C586.42,533.2 588.43,538.97 590.5,545C592.57,551.03 594.6,556.65 596.9,564.4C599.2,572.15 601.9,583.02 604.3,591.5C606.7,599.98 610.13,611.33 611.3,615.3" fill="none" stroke="#ff0000" stroke-width="1.5"/>
<path d="M406,483.89l2.1,3.3h-4.2zM411.8,487.98l2.1,3.3h-4.2zM417.6,490.57l2.1,3.3h-4.2zM423.4,492.55l2.1,3.3h-4.2zM429.2,494.33l2.1,3.3h-4.2zM435,495.84l2.1,3.3h-4.2zM440.8,497.28l2.1,3.3h-4.2zM446.6,498.61l2.1,3.3h-4.2zM452.4,499.91l2.1,3.3h-4.2zM458.2,501.26l2.1,3.3h-4.2zM464,502.63l2.1,3.3h-4.2zM469.8,504.06l2.1,3.3h-4.2zM475.6,505.54l2.1,3.3h-4.2zM481.4,507.14l2.1,3.3h-4.2zM487.2,508.82l2.1,3.3h-4.2zM493,510.6l2.1,3.3h-4.2zM498.8,512.43l2.1,3.3h-4.2zM504.6,514.4l2.1,3.3h-4.2zM510.4,516.47l2.1,3.3h-4.2zM516.2,518.96l2.1,3.3h-4.2zM522,521.49l2.1,3.3h-4.2zM527.8,524.33l2.1,3.3h-4.2zM533.6,527.52l2.1,3.3h-4.2zM539.4,531.17l2.1,3.3h-4.2zM545.2,535.24l2.1,3.3h-4.2zM551,539.57l2.1,3.3h-4.2zM556.8,544.81l2.1,3.3h-4.2zM562.6,550.2l2.1,3.3h-4.2zM568.4,557.17l2.1,3.3h-4.2zM574.2,564.14l2.1,3.3h-4.2zM580,573.14l2.1,3.3h-4.2zM585.8,582.45l2.1,3.3h-4.2zM591.6,592.51l2.1,3.3h-4.2zM597.4,602.59l2.1,3.3h-4.2zM603.2,612.85l2.1,3.3h-4.2zM609,624.67l2.1,3.3h-4.2z" fill="#ff0000"/>
<circle cx="403.16" cy="644.64" r="1.75" fill="#fff" stroke="#ff0000" stroke-width="0.55"/><circle cx="407.65" cy="637.65" r="1.75" fill="#fff" stroke="#ff0000" stroke-width="0.55"/><circle cx="412.16" cy="630.69" r="1.75" fill="#fff" stroke="#ff0000" stroke-width="0.55"/><circle cx="416.73" cy="623.76" r="1.75" fill="#fff" stroke="#ff0000" stroke-width="0.55"/><circle cx="421.32" cy="616.84" r="1.75" fill="#fff" stroke="#ff0000" stroke-width="0.55"/><circle cx="426.02" cy="610" r="1.75" fill="#fff" stroke="#ff0000" stroke-width="0.55"/><circle cx="430.73" cy="603.16" r="1.75" fill="#fff" stroke="#ff0000" stroke-width="0.55"/><circle cx="435.43" cy="596.32" r="1.75" fill="#fff" stroke="#ff0000" stroke-width="0.55"/><circle cx="440.13" cy="589.48" r="1.75" fill="#fff" stroke="#ff0000" stroke-width="0.55"/><circle cx="444.93" cy="582.71" r="1.75" fill="#fff" stroke="#ff0000" stroke-width="0.55"/><circle cx="449.73" cy="575.94" r="1.75" fill="#fff" stroke="#ff0000" stroke-width="0.55"/><circle cx="454.54" cy="569.18" r="1.75" fill="#fff" stroke="#ff0000" stroke-width="0.55"/><circle cx="459.34" cy="562.41" r="1.75" fill="#fff" stroke="#ff0000" stroke-width="0.55"/><circle cx="464.32" cy="555.77" r="1.75" fill="#fff" stroke="#ff0000" stroke-width="0.55"/><circle cx="469.36" cy="549.18" r="1.75" fill="#fff" stroke="#ff0000" stroke-width="0.55"/><circle cx="474.52" cy="542.67" r="1.75" fill="#fff" stroke="#ff0000" stroke-width="0.55"/><circle cx="479.8" cy="536.27" r="1.75" fill="#fff" stroke="#ff0000" stroke-width="0.55"/><circle cx="485.21" cy="529.97" r="1.75" fill="#fff" stroke="#ff0000" stroke-width="0.55"/><circle cx="490.87" cy="523.91" r="1.75" fill="#fff" stroke="#ff0000" stroke-width="0.55"/><circle cx="496.58" cy="517.89" r="1.75" fill="#fff" stroke="#ff0000" stroke-width="0.55"/><circle cx="502.4" cy="511.97" r="1.75" fill="#fff" stroke="#ff0000" stroke-width="0.55"/><circle cx="508.4" cy="506.25" r="1.75" fill="#fff" stroke="#ff0000" stroke-width="0.55"/><circle cx="514.78" cy="500.94" r="1.75" fill="#fff" stroke="#ff0000" stroke-width="0.55"/><circle cx="521.51" cy="496.1" r="1.75" fill="#fff" stroke="#ff0000" stroke-width="0.55"/><circle cx="528.81" cy="492.18" r="1.75" fill="#fff" stroke="#ff0000" stroke-width="0.55"/><circle cx="536.57" cy="489.26" r="1.75" fill="#fff" stroke="#ff0000" stroke-width="0.55"/><circle cx="544.69" cy="487.65" r="1.75" fill="#fff" stroke="#ff0000" stroke-width="0.55"/><circle cx="552.92" cy="487.98" r="1.75" fill="#fff" stroke="#ff0000" stroke-width="0.55"/><circle cx="560.63" cy="490.88" r="1.75" fill="#fff" stroke="#ff0000" stroke-width="0.55"/><circle cx="566.99" cy="496.19" r="1.75" fill="#fff" stroke="#ff0000" stroke-width="0.55"/><circle cx="571.97" cy="502.83" r="1.75" fill="#fff" stroke="#ff0000" stroke-width="0.55"/><circle cx="576.23" cy="509.94" r="1.75" fill="#fff" stroke="#ff0000" stroke-width="0.55"/><circle cx="579.97" cy="517.34" r="1.75" fill="#fff" stroke="#ff0000" stroke-width="0.55"/><circle cx="583.17" cy="525" r="1.75" fill="#fff" stroke="#ff0000" stroke-width="0.55"/><circle cx="586.12" cy="532.75" r="1.75" fill="#fff" stroke="#ff0000" stroke-width="0.55"/><circle cx="588.92" cy="540.57" r="1.75" fill="#fff" stroke="#ff0000" stroke-width="0.55"/><circle cx="591.62" cy="548.41" r="1.75" fill="#fff" stroke="#ff0000" stroke-width="0.55"/><circle cx="594.23" cy="556.29" r="1.75" fill="#fff" stroke="#ff0000" stroke-width="0.55"/><circle cx="596.83" cy="564.17" r="1.75" fill="#fff" stroke="#ff0000" stroke-width="0.55"/><circle cx="599.02" cy="572.18" r="1.75" fill="#fff" stroke="#ff0000" stroke-width="0.55"/><circle cx="601.21" cy="580.18" r="1.75" fill="#fff" stroke="#ff0000" stroke-width="0.55"/><circle cx="603.4" cy="588.19" r="1.75" fill="#fff" stroke="#ff0000" stroke-width="0.55"/><circle cx="605.67" cy="596.17" r="1.75" fill="#fff" stroke="#ff0000" stroke-width="0.55"/><circle cx="608.02" cy="604.14" r="1.75" fill="#fff" stroke="#ff0000" stroke-width="0.55"/><circle cx="610.36" cy="612.1" r="1.75" fill="#fff" stroke="#ff0000" stroke-width="0.55"/>
</svg>
</body></html>
